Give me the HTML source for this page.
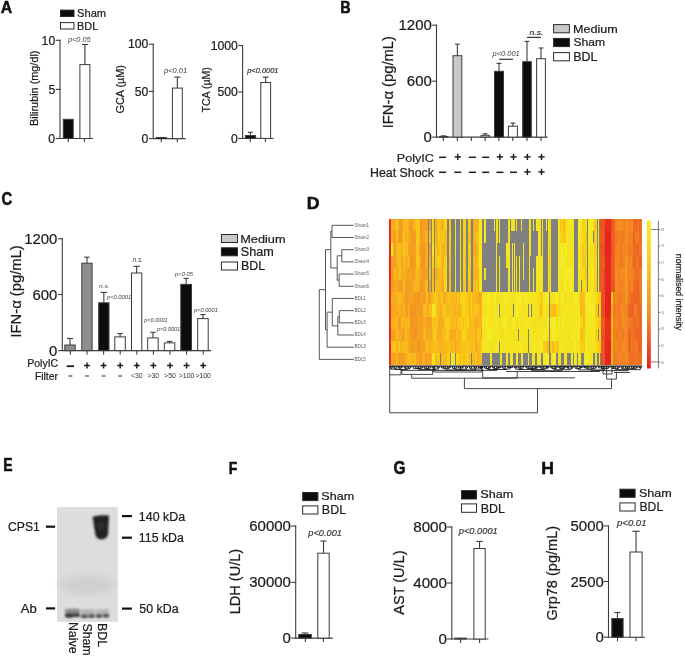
<!DOCTYPE html>
<html><head><meta charset="utf-8"><title>Figure</title>
<style>
html,body{margin:0;padding:0;background:#fff;}
body{width:685px;height:656px;overflow:hidden;}
svg{display:block;will-change:transform;font-family:"Liberation Sans",sans-serif;}
</style></head><body>
<svg width="685" height="656" viewBox="0 0 685 656">
<rect x="0" y="0" width="685" height="656" fill="#fff"/>
<text x="0.78" y="12.52" font-size="16.28" font-weight="bold" font-style="normal" fill="#111" textLength="11.46" lengthAdjust="spacingAndGlyphs" stroke="#111" stroke-width="0.55" stroke-linejoin="round">A</text>
<rect x="60.50" y="10.10" width="13.50" height="6.40" fill="#0c0c0c" stroke="#2a2a2a" stroke-width="1"/>
<rect x="60.50" y="22.60" width="13.50" height="6.40" fill="#fff" stroke="#2a2a2a" stroke-width="1"/>
<text x="77.10" y="16.70" font-size="10.08" font-weight="normal" font-style="normal" fill="#1c1c1c" textLength="29.04" lengthAdjust="spacingAndGlyphs" stroke="#1c1c1c" stroke-width="0.22">Sham</text>
<text x="77.11" y="29.50" font-size="10.76" font-weight="normal" font-style="normal" fill="#1c1c1c" textLength="21.15" lengthAdjust="spacingAndGlyphs" stroke="#1c1c1c" stroke-width="0.22">BDL</text>
<line x1="60.00" y1="39.80" x2="60.00" y2="139.00" stroke="#3c3c3c" stroke-width="1.1"/>
<line x1="55.70" y1="40.30" x2="60.50" y2="40.30" stroke="#3c3c3c" stroke-width="1.1"/>
<line x1="55.70" y1="89.40" x2="60.50" y2="89.40" stroke="#3c3c3c" stroke-width="1.1"/>
<line x1="55.70" y1="138.50" x2="60.50" y2="138.50" stroke="#3c3c3c" stroke-width="1.1"/>
<line x1="60.00" y1="138.50" x2="93.00" y2="138.50" stroke="#3c3c3c" stroke-width="1.1"/>
<line x1="68.20" y1="138.50" x2="68.20" y2="142.10" stroke="#3c3c3c" stroke-width="1.1"/>
<line x1="84.50" y1="138.50" x2="84.50" y2="142.10" stroke="#3c3c3c" stroke-width="1.1"/>
<text x="41.61" y="44.50" font-size="12.20" font-weight="normal" font-style="normal" fill="#1c1c1c" textLength="13.57" lengthAdjust="spacingAndGlyphs" stroke="#1c1c1c" stroke-width="0.22">10</text>
<text x="48.43" y="93.54" font-size="12.20" font-weight="normal" font-style="normal" fill="#1c1c1c" textLength="6.79" lengthAdjust="spacingAndGlyphs" stroke="#1c1c1c" stroke-width="0.22">5</text>
<text x="48.39" y="142.70" font-size="12.20" font-weight="normal" font-style="normal" fill="#1c1c1c" textLength="6.79" lengthAdjust="spacingAndGlyphs" stroke="#1c1c1c" stroke-width="0.22">0</text>
<rect x="63.30" y="119.30" width="9.90" height="19.20" fill="#0c0c0c" stroke="#3c3c3c" stroke-width="1"/>
<rect x="79.90" y="64.60" width="10.00" height="73.90" fill="#fff" stroke="#3c3c3c" stroke-width="1"/>
<line x1="84.90" y1="44.50" x2="84.90" y2="64.60" stroke="#3c3c3c" stroke-width="1.1"/>
<line x1="81.85" y1="44.50" x2="87.95" y2="44.50" stroke="#3c3c3c" stroke-width="1.1"/>
<text x="67.98" y="42.18" font-size="6.85" font-weight="normal" font-style="italic" fill="#3c3c3c" textLength="22.60" lengthAdjust="spacingAndGlyphs">p&lt;0.05</text>
<text x="0.00" y="0.00" font-size="10.30" font-weight="normal" font-style="normal" fill="#1c1c1c" textLength="75.46" lengthAdjust="spacingAndGlyphs" transform="translate(37.76 125.99) rotate(-90)" stroke="#1c1c1c" stroke-width="0.22">Bilirubin (mg/dl)</text>
<line x1="153.20" y1="43.70" x2="153.20" y2="139.10" stroke="#3c3c3c" stroke-width="1.1"/>
<line x1="148.90" y1="44.20" x2="153.70" y2="44.20" stroke="#3c3c3c" stroke-width="1.1"/>
<line x1="148.90" y1="91.40" x2="153.70" y2="91.40" stroke="#3c3c3c" stroke-width="1.1"/>
<line x1="148.90" y1="138.60" x2="153.70" y2="138.60" stroke="#3c3c3c" stroke-width="1.1"/>
<line x1="153.20" y1="138.60" x2="185.60" y2="138.60" stroke="#3c3c3c" stroke-width="1.1"/>
<line x1="161.30" y1="138.60" x2="161.30" y2="142.20" stroke="#3c3c3c" stroke-width="1.1"/>
<line x1="177.30" y1="138.60" x2="177.30" y2="142.20" stroke="#3c3c3c" stroke-width="1.1"/>
<text x="128.02" y="48.40" font-size="12.20" font-weight="normal" font-style="normal" fill="#1c1c1c" textLength="20.36" lengthAdjust="spacingAndGlyphs" stroke="#1c1c1c" stroke-width="0.22">100</text>
<text x="134.81" y="95.60" font-size="12.20" font-weight="normal" font-style="normal" fill="#1c1c1c" textLength="13.57" lengthAdjust="spacingAndGlyphs" stroke="#1c1c1c" stroke-width="0.22">50</text>
<text x="141.59" y="142.80" font-size="12.20" font-weight="normal" font-style="normal" fill="#1c1c1c" textLength="6.79" lengthAdjust="spacingAndGlyphs" stroke="#1c1c1c" stroke-width="0.22">0</text>
<rect x="155.80" y="137.20" width="11.00" height="1.20" fill="#0c0c0c" stroke="none" stroke-width="1"/>
<line x1="158.90" y1="137.60" x2="163.70" y2="137.60" stroke="#3c3c3c" stroke-width="1"/>
<rect x="172.40" y="88.10" width="9.90" height="50.50" fill="#fff" stroke="#3c3c3c" stroke-width="1"/>
<line x1="177.35" y1="77.10" x2="177.35" y2="88.10" stroke="#3c3c3c" stroke-width="1.1"/>
<line x1="174.25" y1="77.10" x2="180.45" y2="77.10" stroke="#3c3c3c" stroke-width="1.1"/>
<text x="163.99" y="73.13" font-size="7.07" font-weight="normal" font-style="italic" fill="#3c3c3c" textLength="23.15" lengthAdjust="spacingAndGlyphs">p&lt;0.01</text>
<text x="0.00" y="0.00" font-size="11.16" font-weight="normal" font-style="normal" fill="#1c1c1c" textLength="48.51" lengthAdjust="spacingAndGlyphs" transform="translate(123.98 113.54) rotate(-90)" stroke="#1c1c1c" stroke-width="0.22">GCA (µM)</text>
<line x1="242.60" y1="45.00" x2="242.60" y2="138.90" stroke="#3c3c3c" stroke-width="1.1"/>
<line x1="238.30" y1="45.50" x2="243.10" y2="45.50" stroke="#3c3c3c" stroke-width="1.1"/>
<line x1="238.30" y1="92.00" x2="243.10" y2="92.00" stroke="#3c3c3c" stroke-width="1.1"/>
<line x1="238.30" y1="138.40" x2="243.10" y2="138.40" stroke="#3c3c3c" stroke-width="1.1"/>
<line x1="242.60" y1="138.40" x2="273.60" y2="138.40" stroke="#3c3c3c" stroke-width="1.1"/>
<line x1="250.20" y1="138.40" x2="250.20" y2="142.00" stroke="#3c3c3c" stroke-width="1.1"/>
<line x1="265.40" y1="138.40" x2="265.40" y2="142.00" stroke="#3c3c3c" stroke-width="1.1"/>
<text x="210.64" y="49.70" font-size="12.20" font-weight="normal" font-style="normal" fill="#1c1c1c" textLength="27.14" lengthAdjust="spacingAndGlyphs" stroke="#1c1c1c" stroke-width="0.22">1000</text>
<text x="217.42" y="96.20" font-size="12.20" font-weight="normal" font-style="normal" fill="#1c1c1c" textLength="20.36" lengthAdjust="spacingAndGlyphs" stroke="#1c1c1c" stroke-width="0.22">500</text>
<text x="230.99" y="142.60" font-size="12.20" font-weight="normal" font-style="normal" fill="#1c1c1c" textLength="6.79" lengthAdjust="spacingAndGlyphs" stroke="#1c1c1c" stroke-width="0.22">0</text>
<rect x="245.30" y="135.60" width="10.30" height="2.80" fill="#0c0c0c" stroke="#3c3c3c" stroke-width="1"/>
<line x1="250.35" y1="132.30" x2="250.35" y2="135.60" stroke="#3c3c3c" stroke-width="1.1"/>
<line x1="247.90" y1="132.30" x2="252.80" y2="132.30" stroke="#3c3c3c" stroke-width="1.1"/>
<rect x="260.80" y="82.50" width="9.80" height="55.90" fill="#fff" stroke="#3c3c3c" stroke-width="1"/>
<line x1="265.70" y1="77.10" x2="265.70" y2="82.50" stroke="#3c3c3c" stroke-width="1.1"/>
<line x1="262.80" y1="77.10" x2="268.60" y2="77.10" stroke="#3c3c3c" stroke-width="1.1"/>
<text x="247.19" y="73.04" font-size="7.51" font-weight="normal" font-style="italic" fill="#3c3c3c" textLength="31.34" lengthAdjust="spacingAndGlyphs" stroke="#3c3c3c" stroke-width="0.22">p&lt;0.0001</text>
<text x="0.00" y="0.00" font-size="11.05" font-weight="normal" font-style="normal" fill="#1c1c1c" textLength="45.28" lengthAdjust="spacingAndGlyphs" transform="translate(210.01 112.43) rotate(-90)" stroke="#1c1c1c" stroke-width="0.22">TCA (µM)</text>
<text x="340.22" y="12.72" font-size="16.79" font-weight="bold" font-style="normal" fill="#111" textLength="10.36" lengthAdjust="spacingAndGlyphs" stroke="#111" stroke-width="0.55" stroke-linejoin="round">B</text>
<line x1="436.50" y1="24.70" x2="436.50" y2="137.60" stroke="#3c3c3c" stroke-width="1.1"/>
<line x1="432.20" y1="25.20" x2="437.00" y2="25.20" stroke="#3c3c3c" stroke-width="1.1"/>
<line x1="432.20" y1="81.20" x2="437.00" y2="81.20" stroke="#3c3c3c" stroke-width="1.1"/>
<line x1="432.20" y1="137.10" x2="437.00" y2="137.10" stroke="#3c3c3c" stroke-width="1.1"/>
<line x1="436.50" y1="137.10" x2="547.60" y2="137.10" stroke="#3c3c3c" stroke-width="1.1"/>
<line x1="443.30" y1="137.10" x2="443.30" y2="141.00" stroke="#3c3c3c" stroke-width="1.1"/>
<line x1="457.40" y1="137.10" x2="457.40" y2="141.00" stroke="#3c3c3c" stroke-width="1.1"/>
<line x1="471.30" y1="137.10" x2="471.30" y2="141.00" stroke="#3c3c3c" stroke-width="1.1"/>
<line x1="485.10" y1="137.10" x2="485.10" y2="141.00" stroke="#3c3c3c" stroke-width="1.1"/>
<line x1="498.90" y1="137.10" x2="498.90" y2="141.00" stroke="#3c3c3c" stroke-width="1.1"/>
<line x1="512.80" y1="137.10" x2="512.80" y2="141.00" stroke="#3c3c3c" stroke-width="1.1"/>
<line x1="527.00" y1="137.10" x2="527.00" y2="141.00" stroke="#3c3c3c" stroke-width="1.1"/>
<line x1="541.00" y1="137.10" x2="541.00" y2="141.00" stroke="#3c3c3c" stroke-width="1.1"/>
<text x="398.52" y="30.36" font-size="15.00" font-weight="normal" font-style="normal" fill="#1c1c1c" textLength="33.37" lengthAdjust="spacingAndGlyphs" stroke="#1c1c1c" stroke-width="0.22">1200</text>
<text x="406.86" y="86.36" font-size="15.00" font-weight="normal" font-style="normal" fill="#1c1c1c" textLength="25.03" lengthAdjust="spacingAndGlyphs" stroke="#1c1c1c" stroke-width="0.22">600</text>
<text x="423.54" y="142.26" font-size="15.00" font-weight="normal" font-style="normal" fill="#1c1c1c" textLength="8.34" lengthAdjust="spacingAndGlyphs" stroke="#1c1c1c" stroke-width="0.22">0</text>
<rect x="439.80" y="136.50" width="8.00" height="0.60" fill="#c9c9c9" stroke="#3c3c3c" stroke-width="1"/>
<line x1="440.80" y1="135.90" x2="446.20" y2="135.90" stroke="#3c3c3c" stroke-width="1.2"/>
<rect x="453.00" y="55.70" width="8.80" height="81.40" fill="#c9c9c9" stroke="#3c3c3c" stroke-width="1"/>
<line x1="457.40" y1="44.20" x2="457.40" y2="55.70" stroke="#3c3c3c" stroke-width="1.1"/>
<line x1="455.00" y1="44.20" x2="459.80" y2="44.20" stroke="#3c3c3c" stroke-width="1.1"/>
<rect x="481.10" y="135.30" width="8.20" height="1.80" fill="#c9c9c9" stroke="#3c3c3c" stroke-width="1"/>
<line x1="485.20" y1="133.80" x2="485.20" y2="135.30" stroke="#3c3c3c" stroke-width="1.1"/>
<line x1="482.90" y1="133.80" x2="487.50" y2="133.80" stroke="#3c3c3c" stroke-width="1.1"/>
<rect x="494.50" y="71.30" width="9.00" height="65.80" fill="#0c0c0c" stroke="#3c3c3c" stroke-width="1"/>
<line x1="499.00" y1="63.40" x2="499.00" y2="71.30" stroke="#3c3c3c" stroke-width="1.1"/>
<line x1="496.60" y1="63.40" x2="501.40" y2="63.40" stroke="#3c3c3c" stroke-width="1.1"/>
<rect x="508.40" y="126.20" width="9.00" height="10.90" fill="#fff" stroke="#3c3c3c" stroke-width="1"/>
<line x1="512.90" y1="123.10" x2="512.90" y2="126.20" stroke="#3c3c3c" stroke-width="1.1"/>
<line x1="510.50" y1="123.10" x2="515.30" y2="123.10" stroke="#3c3c3c" stroke-width="1.1"/>
<rect x="522.70" y="61.70" width="8.60" height="75.40" fill="#0c0c0c" stroke="#3c3c3c" stroke-width="1"/>
<line x1="527.00" y1="41.40" x2="527.00" y2="61.70" stroke="#3c3c3c" stroke-width="1.1"/>
<line x1="524.60" y1="41.40" x2="529.40" y2="41.40" stroke="#3c3c3c" stroke-width="1.1"/>
<rect x="536.60" y="58.70" width="8.80" height="78.40" fill="#fff" stroke="#3c3c3c" stroke-width="1"/>
<line x1="541.00" y1="48.00" x2="541.00" y2="58.70" stroke="#3c3c3c" stroke-width="1.1"/>
<line x1="538.60" y1="48.00" x2="543.40" y2="48.00" stroke="#3c3c3c" stroke-width="1.1"/>
<text x="492.59" y="56.49" font-size="7.29" font-weight="normal" font-style="italic" fill="#3c3c3c" textLength="27.14" lengthAdjust="spacingAndGlyphs">p&lt;0.001</text>
<line x1="499.20" y1="59.30" x2="513.00" y2="59.30" stroke="#333" stroke-width="1.2"/>
<text x="529.46" y="34.93" font-size="7.67" font-weight="normal" font-style="italic" fill="#3c3c3c" textLength="13.90" lengthAdjust="spacingAndGlyphs" stroke="#3c3c3c" stroke-width="0.22">n.s.</text>
<line x1="527.00" y1="37.40" x2="541.00" y2="37.40" stroke="#333" stroke-width="1.2"/>
<rect x="553.60" y="24.60" width="15.80" height="8.20" fill="#c9c9c9" stroke="#2a2a2a" stroke-width="1"/>
<rect x="553.60" y="38.40" width="15.80" height="8.20" fill="#0c0c0c" stroke="#2a2a2a" stroke-width="1"/>
<rect x="553.60" y="52.60" width="15.80" height="8.20" fill="#fff" stroke="#2a2a2a" stroke-width="1"/>
<text x="572.97" y="32.69" font-size="11.17" font-weight="normal" font-style="normal" fill="#1c1c1c" textLength="44.76" lengthAdjust="spacingAndGlyphs" stroke="#1c1c1c" stroke-width="0.22">Medium</text>
<text x="573.45" y="45.99" font-size="11.17" font-weight="normal" font-style="normal" fill="#1c1c1c" textLength="31.54" lengthAdjust="spacingAndGlyphs" stroke="#1c1c1c" stroke-width="0.22">Sham</text>
<text x="573.17" y="60.80" font-size="12.06" font-weight="normal" font-style="normal" fill="#1c1c1c" textLength="24.34" lengthAdjust="spacingAndGlyphs" stroke="#1c1c1c" stroke-width="0.22">BDL</text>
<text x="0.00" y="0.00" font-size="14.70" font-weight="normal" font-style="normal" fill="#1c1c1c" textLength="92.38" lengthAdjust="spacingAndGlyphs" transform="translate(392.85 128.37) rotate(-90)" stroke="#1c1c1c" stroke-width="0.22">IFN-α (pg/mL)</text>
<text x="396.77" y="161.97" font-size="11.69" font-weight="normal" font-style="normal" fill="#1c1c1c" textLength="37.11" lengthAdjust="spacingAndGlyphs" stroke="#1c1c1c" stroke-width="0.22">PolyIC</text>
<text x="369.98" y="176.88" font-size="11.85" font-weight="normal" font-style="normal" fill="#1c1c1c" textLength="64.00" lengthAdjust="spacingAndGlyphs" stroke="#1c1c1c" stroke-width="0.22">Heat Shock</text>
<rect x="439.10" y="156.55" width="7.00" height="1.50" fill="#1c1c1c" stroke="none" stroke-width="1"/>
<rect x="454.65" y="156.18" width="6.30" height="1.45" fill="#1c1c1c" stroke="none" stroke-width="1"/>
<rect x="457.07" y="153.75" width="1.45" height="6.30" fill="#1c1c1c" stroke="none" stroke-width="1"/>
<rect x="468.90" y="156.55" width="7.00" height="1.50" fill="#1c1c1c" stroke="none" stroke-width="1"/>
<rect x="482.20" y="156.55" width="7.00" height="1.50" fill="#1c1c1c" stroke="none" stroke-width="1"/>
<rect x="496.75" y="156.18" width="6.30" height="1.45" fill="#1c1c1c" stroke="none" stroke-width="1"/>
<rect x="499.17" y="153.75" width="1.45" height="6.30" fill="#1c1c1c" stroke="none" stroke-width="1"/>
<rect x="510.35" y="156.18" width="6.30" height="1.45" fill="#1c1c1c" stroke="none" stroke-width="1"/>
<rect x="512.77" y="153.75" width="1.45" height="6.30" fill="#1c1c1c" stroke="none" stroke-width="1"/>
<rect x="524.25" y="156.18" width="6.30" height="1.45" fill="#1c1c1c" stroke="none" stroke-width="1"/>
<rect x="526.67" y="153.75" width="1.45" height="6.30" fill="#1c1c1c" stroke="none" stroke-width="1"/>
<rect x="538.35" y="156.18" width="6.30" height="1.45" fill="#1c1c1c" stroke="none" stroke-width="1"/>
<rect x="540.77" y="153.75" width="1.45" height="6.30" fill="#1c1c1c" stroke="none" stroke-width="1"/>
<rect x="439.10" y="171.55" width="7.00" height="1.50" fill="#1c1c1c" stroke="none" stroke-width="1"/>
<rect x="454.30" y="171.55" width="7.00" height="1.50" fill="#1c1c1c" stroke="none" stroke-width="1"/>
<rect x="468.90" y="171.55" width="7.00" height="1.50" fill="#1c1c1c" stroke="none" stroke-width="1"/>
<rect x="482.20" y="171.55" width="7.00" height="1.50" fill="#1c1c1c" stroke="none" stroke-width="1"/>
<rect x="496.40" y="171.55" width="7.00" height="1.50" fill="#1c1c1c" stroke="none" stroke-width="1"/>
<rect x="510.00" y="171.55" width="7.00" height="1.50" fill="#1c1c1c" stroke="none" stroke-width="1"/>
<rect x="524.25" y="171.18" width="6.30" height="1.45" fill="#1c1c1c" stroke="none" stroke-width="1"/>
<rect x="526.67" y="168.75" width="1.45" height="6.30" fill="#1c1c1c" stroke="none" stroke-width="1"/>
<rect x="538.35" y="171.18" width="6.30" height="1.45" fill="#1c1c1c" stroke="none" stroke-width="1"/>
<rect x="540.77" y="168.75" width="1.45" height="6.30" fill="#1c1c1c" stroke="none" stroke-width="1"/>
<text x="1.57" y="205.15" font-size="17.58" font-weight="bold" font-style="normal" fill="#111" textLength="10.66" lengthAdjust="spacingAndGlyphs" stroke="#111" stroke-width="0.55" stroke-linejoin="round">C</text>
<line x1="62.30" y1="238.30" x2="62.30" y2="351.10" stroke="#3c3c3c" stroke-width="1.1"/>
<line x1="58.10" y1="238.80" x2="62.80" y2="238.80" stroke="#3c3c3c" stroke-width="1.1"/>
<line x1="58.10" y1="294.50" x2="62.80" y2="294.50" stroke="#3c3c3c" stroke-width="1.1"/>
<line x1="58.10" y1="350.60" x2="62.80" y2="350.60" stroke="#3c3c3c" stroke-width="1.1"/>
<line x1="62.30" y1="350.60" x2="211.00" y2="350.60" stroke="#3c3c3c" stroke-width="1.1"/>
<line x1="70.40" y1="350.60" x2="70.40" y2="354.60" stroke="#3c3c3c" stroke-width="1.1"/>
<line x1="87.00" y1="350.60" x2="87.00" y2="354.60" stroke="#3c3c3c" stroke-width="1.1"/>
<line x1="103.60" y1="350.60" x2="103.60" y2="354.60" stroke="#3c3c3c" stroke-width="1.1"/>
<line x1="120.20" y1="350.60" x2="120.20" y2="354.60" stroke="#3c3c3c" stroke-width="1.1"/>
<line x1="136.80" y1="350.60" x2="136.80" y2="354.60" stroke="#3c3c3c" stroke-width="1.1"/>
<line x1="153.40" y1="350.60" x2="153.40" y2="354.60" stroke="#3c3c3c" stroke-width="1.1"/>
<line x1="170.00" y1="350.60" x2="170.00" y2="354.60" stroke="#3c3c3c" stroke-width="1.1"/>
<line x1="186.60" y1="350.60" x2="186.60" y2="354.60" stroke="#3c3c3c" stroke-width="1.1"/>
<line x1="203.20" y1="350.60" x2="203.20" y2="354.60" stroke="#3c3c3c" stroke-width="1.1"/>
<text x="24.15" y="243.83" font-size="14.60" font-weight="normal" font-style="normal" fill="#1c1c1c" textLength="33.13" lengthAdjust="spacingAndGlyphs" stroke="#1c1c1c" stroke-width="0.22">1200</text>
<text x="32.44" y="299.53" font-size="14.60" font-weight="normal" font-style="normal" fill="#1c1c1c" textLength="24.85" lengthAdjust="spacingAndGlyphs" stroke="#1c1c1c" stroke-width="0.22">600</text>
<text x="49.00" y="355.63" font-size="14.60" font-weight="normal" font-style="normal" fill="#1c1c1c" textLength="8.28" lengthAdjust="spacingAndGlyphs" stroke="#1c1c1c" stroke-width="0.22">0</text>
<rect x="64.80" y="345.00" width="10.40" height="5.60" fill="#8e8e8e" stroke="#3c3c3c" stroke-width="1"/>
<line x1="70.00" y1="338.50" x2="70.00" y2="345.00" stroke="#3c3c3c" stroke-width="1.1"/>
<line x1="66.95" y1="338.50" x2="73.05" y2="338.50" stroke="#3c3c3c" stroke-width="1.1"/>
<rect x="81.80" y="263.20" width="10.30" height="87.40" fill="#8e8e8e" stroke="#3c3c3c" stroke-width="1"/>
<line x1="86.95" y1="257.20" x2="86.95" y2="263.20" stroke="#3c3c3c" stroke-width="1.1"/>
<line x1="84.20" y1="257.20" x2="89.70" y2="257.20" stroke="#3c3c3c" stroke-width="1.1"/>
<rect x="98.70" y="302.80" width="10.30" height="47.80" fill="#0c0c0c" stroke="#3c3c3c" stroke-width="1"/>
<line x1="103.85" y1="292.40" x2="103.85" y2="302.80" stroke="#3c3c3c" stroke-width="1.1"/>
<line x1="100.65" y1="292.40" x2="107.05" y2="292.40" stroke="#3c3c3c" stroke-width="1.1"/>
<rect x="114.80" y="336.90" width="10.50" height="13.70" fill="#fff" stroke="#3c3c3c" stroke-width="1"/>
<line x1="120.05" y1="333.60" x2="120.05" y2="336.90" stroke="#3c3c3c" stroke-width="1.1"/>
<line x1="117.30" y1="333.60" x2="122.80" y2="333.60" stroke="#3c3c3c" stroke-width="1.1"/>
<rect x="131.50" y="273.00" width="10.30" height="77.60" fill="#fff" stroke="#3c3c3c" stroke-width="1"/>
<line x1="136.65" y1="266.30" x2="136.65" y2="273.00" stroke="#3c3c3c" stroke-width="1.1"/>
<line x1="133.40" y1="266.30" x2="139.90" y2="266.30" stroke="#3c3c3c" stroke-width="1.1"/>
<rect x="147.70" y="337.90" width="10.50" height="12.70" fill="#fff" stroke="#3c3c3c" stroke-width="1"/>
<line x1="152.95" y1="332.30" x2="152.95" y2="337.90" stroke="#3c3c3c" stroke-width="1.1"/>
<line x1="150.20" y1="332.30" x2="155.70" y2="332.30" stroke="#3c3c3c" stroke-width="1.1"/>
<rect x="164.30" y="342.90" width="10.50" height="7.70" fill="#fff" stroke="#3c3c3c" stroke-width="1"/>
<line x1="169.55" y1="341.40" x2="169.55" y2="342.90" stroke="#3c3c3c" stroke-width="1.1"/>
<line x1="166.80" y1="341.40" x2="172.30" y2="341.40" stroke="#3c3c3c" stroke-width="1.1"/>
<rect x="180.80" y="284.40" width="10.70" height="66.20" fill="#0c0c0c" stroke="#3c3c3c" stroke-width="1"/>
<line x1="186.15" y1="278.40" x2="186.15" y2="284.40" stroke="#3c3c3c" stroke-width="1.1"/>
<line x1="183.65" y1="278.40" x2="188.65" y2="278.40" stroke="#3c3c3c" stroke-width="1.1"/>
<rect x="197.70" y="318.60" width="10.50" height="32.00" fill="#fff" stroke="#3c3c3c" stroke-width="1"/>
<line x1="202.95" y1="314.60" x2="202.95" y2="318.60" stroke="#3c3c3c" stroke-width="1.1"/>
<line x1="200.30" y1="314.60" x2="205.60" y2="314.60" stroke="#3c3c3c" stroke-width="1.1"/>
<text x="98.99" y="287.94" font-size="5.85" font-weight="normal" font-style="italic" fill="#3c3c3c" textLength="10.62" lengthAdjust="spacingAndGlyphs">n.s.</text>
<text x="107.14" y="298.55" font-size="5.52" font-weight="normal" font-style="italic" fill="#3c3c3c" textLength="23.94" lengthAdjust="spacingAndGlyphs">p&lt;0.0001</text>
<text x="132.49" y="262.13" font-size="6.76" font-weight="normal" font-style="italic" fill="#3c3c3c" textLength="10.62" lengthAdjust="spacingAndGlyphs">n.s.</text>
<text x="144.24" y="321.72" font-size="5.19" font-weight="normal" font-style="italic" fill="#3c3c3c" textLength="23.33" lengthAdjust="spacingAndGlyphs">p&lt;0.0001</text>
<text x="157.04" y="331.17" font-size="4.97" font-weight="normal" font-style="italic" fill="#3c3c3c" textLength="23.13" lengthAdjust="spacingAndGlyphs">p&lt;0.0001</text>
<text x="175.14" y="275.62" font-size="5.19" font-weight="normal" font-style="italic" fill="#3c3c3c" textLength="17.94" lengthAdjust="spacingAndGlyphs">p&lt;0.05</text>
<text x="194.14" y="311.82" font-size="5.19" font-weight="normal" font-style="italic" fill="#3c3c3c" textLength="23.64" lengthAdjust="spacingAndGlyphs">p&lt;0.0001</text>
<rect x="221.40" y="234.50" width="16.10" height="8.00" fill="#c9c9c9" stroke="#2a2a2a" stroke-width="1"/>
<rect x="221.40" y="247.80" width="16.10" height="8.00" fill="#0c0c0c" stroke="#2a2a2a" stroke-width="1"/>
<rect x="221.40" y="262.00" width="16.10" height="8.00" fill="#fff" stroke="#2a2a2a" stroke-width="1"/>
<text x="240.26" y="242.69" font-size="11.71" font-weight="normal" font-style="normal" fill="#1c1c1c" textLength="45.28" lengthAdjust="spacingAndGlyphs" stroke="#1c1c1c" stroke-width="0.22">Medium</text>
<text x="240.73" y="256.18" font-size="12.26" font-weight="normal" font-style="normal" fill="#1c1c1c" textLength="33.01" lengthAdjust="spacingAndGlyphs" stroke="#1c1c1c" stroke-width="0.22">Sham</text>
<text x="240.98" y="270.30" font-size="12.79" font-weight="normal" font-style="normal" fill="#1c1c1c" textLength="24.24" lengthAdjust="spacingAndGlyphs" stroke="#1c1c1c" stroke-width="0.22">BDL</text>
<text x="0.00" y="0.00" font-size="14.05" font-weight="normal" font-style="normal" fill="#1c1c1c" textLength="92.38" lengthAdjust="spacingAndGlyphs" transform="translate(21.28 337.57) rotate(-90)" stroke="#1c1c1c" stroke-width="0.22">IFN-α (pg/mL)</text>
<text x="27.24" y="367.35" font-size="10.70" font-weight="normal" font-style="normal" fill="#1c1c1c" textLength="30.96" lengthAdjust="spacingAndGlyphs" stroke="#1c1c1c" stroke-width="0.22">PolyIC</text>
<text x="34.95" y="379.60" font-size="10.35" font-weight="normal" font-style="normal" fill="#1c1c1c" textLength="23.02" lengthAdjust="spacingAndGlyphs" stroke="#1c1c1c" stroke-width="0.22">Filter</text>
<rect x="66.75" y="365.30" width="7.30" height="1.80" fill="#1c1c1c" stroke="none" stroke-width="1"/>
<rect x="84.05" y="364.75" width="5.90" height="1.50" fill="#1c1c1c" stroke="none" stroke-width="1"/>
<rect x="86.25" y="362.55" width="1.50" height="5.90" fill="#1c1c1c" stroke="none" stroke-width="1"/>
<rect x="100.65" y="364.75" width="5.90" height="1.50" fill="#1c1c1c" stroke="none" stroke-width="1"/>
<rect x="102.85" y="362.55" width="1.50" height="5.90" fill="#1c1c1c" stroke="none" stroke-width="1"/>
<rect x="117.25" y="364.75" width="5.90" height="1.50" fill="#1c1c1c" stroke="none" stroke-width="1"/>
<rect x="119.45" y="362.55" width="1.50" height="5.90" fill="#1c1c1c" stroke="none" stroke-width="1"/>
<rect x="133.85" y="364.75" width="5.90" height="1.50" fill="#1c1c1c" stroke="none" stroke-width="1"/>
<rect x="136.05" y="362.55" width="1.50" height="5.90" fill="#1c1c1c" stroke="none" stroke-width="1"/>
<rect x="150.45" y="364.75" width="5.90" height="1.50" fill="#1c1c1c" stroke="none" stroke-width="1"/>
<rect x="152.65" y="362.55" width="1.50" height="5.90" fill="#1c1c1c" stroke="none" stroke-width="1"/>
<rect x="167.05" y="364.75" width="5.90" height="1.50" fill="#1c1c1c" stroke="none" stroke-width="1"/>
<rect x="169.25" y="362.55" width="1.50" height="5.90" fill="#1c1c1c" stroke="none" stroke-width="1"/>
<rect x="183.65" y="364.75" width="5.90" height="1.50" fill="#1c1c1c" stroke="none" stroke-width="1"/>
<rect x="185.85" y="362.55" width="1.50" height="5.90" fill="#1c1c1c" stroke="none" stroke-width="1"/>
<rect x="200.25" y="364.75" width="5.90" height="1.50" fill="#1c1c1c" stroke="none" stroke-width="1"/>
<rect x="202.45" y="362.55" width="1.50" height="5.90" fill="#1c1c1c" stroke="none" stroke-width="1"/>
<rect x="68.45" y="375.50" width="3.90" height="1.00" fill="#2a2a2a" stroke="none" stroke-width="1"/>
<rect x="85.05" y="375.50" width="3.90" height="1.00" fill="#2a2a2a" stroke="none" stroke-width="1"/>
<rect x="101.65" y="375.50" width="3.90" height="1.00" fill="#2a2a2a" stroke="none" stroke-width="1"/>
<rect x="118.25" y="375.50" width="3.90" height="1.00" fill="#2a2a2a" stroke="none" stroke-width="1"/>
<text x="130.91" y="378.38" font-size="6.90" font-weight="normal" font-style="normal" fill="#333" textLength="11.70" lengthAdjust="spacingAndGlyphs">&lt;30</text>
<text x="147.51" y="378.38" font-size="6.90" font-weight="normal" font-style="normal" fill="#333" textLength="11.70" lengthAdjust="spacingAndGlyphs">&gt;30</text>
<text x="164.11" y="378.38" font-size="6.90" font-weight="normal" font-style="normal" fill="#333" textLength="11.70" lengthAdjust="spacingAndGlyphs">&gt;50</text>
<text x="178.79" y="378.38" font-size="6.90" font-weight="normal" font-style="normal" fill="#333" textLength="15.54" lengthAdjust="spacingAndGlyphs">&gt;100</text>
<text x="195.39" y="378.38" font-size="6.90" font-weight="normal" font-style="normal" fill="#333" textLength="15.54" lengthAdjust="spacingAndGlyphs">&gt;100</text>
<text x="306.89" y="208.72" font-size="17.22" font-weight="bold" font-style="normal" fill="#111" textLength="12.78" lengthAdjust="spacingAndGlyphs" stroke="#111" stroke-width="0.55" stroke-linejoin="round">D</text>
<g shape-rendering="crispEdges">
<rect x="389.00" y="219.00" width="2.00" height="12.25" fill="#e8301f" stroke="none" stroke-width="1"/>
<rect x="391.00" y="219.00" width="3.00" height="12.25" fill="#f7ab1e" stroke="none" stroke-width="1"/>
<rect x="394.00" y="219.00" width="2.00" height="12.25" fill="#f8b21c" stroke="none" stroke-width="1"/>
<rect x="396.00" y="219.00" width="2.00" height="12.25" fill="#fac51a" stroke="none" stroke-width="1"/>
<rect x="398.00" y="219.00" width="2.00" height="12.25" fill="#f6a41f" stroke="none" stroke-width="1"/>
<rect x="400.00" y="219.00" width="3.00" height="12.25" fill="#f49c20" stroke="none" stroke-width="1"/>
<rect x="403.00" y="219.00" width="2.00" height="12.25" fill="#f9bb1b" stroke="none" stroke-width="1"/>
<rect x="405.00" y="219.00" width="1.50" height="12.25" fill="#f9bb1b" stroke="none" stroke-width="1"/>
<rect x="406.50" y="219.00" width="1.50" height="12.25" fill="#f9bb1b" stroke="none" stroke-width="1"/>
<rect x="408.00" y="219.00" width="2.00" height="12.25" fill="#f7ab1e" stroke="none" stroke-width="1"/>
<rect x="410.00" y="219.00" width="2.00" height="12.25" fill="#f49c20" stroke="none" stroke-width="1"/>
<rect x="412.00" y="219.00" width="1.00" height="12.25" fill="#f49c20" stroke="none" stroke-width="1"/>
<rect x="413.00" y="219.00" width="1.50" height="12.25" fill="#f8b21c" stroke="none" stroke-width="1"/>
<rect x="414.50" y="219.00" width="1.50" height="12.25" fill="#f9bb1b" stroke="none" stroke-width="1"/>
<rect x="416.00" y="219.00" width="1.50" height="12.25" fill="#fac51a" stroke="none" stroke-width="1"/>
<rect x="417.50" y="219.00" width="2.50" height="12.25" fill="#fac51a" stroke="none" stroke-width="1"/>
<rect x="420.00" y="219.00" width="2.00" height="12.25" fill="#f39520" stroke="none" stroke-width="1"/>
<rect x="422.00" y="219.00" width="2.50" height="12.25" fill="#f59f20" stroke="none" stroke-width="1"/>
<rect x="424.50" y="219.00" width="0.50" height="12.25" fill="#f49c20" stroke="none" stroke-width="1"/>
<rect x="425.00" y="219.00" width="3.00" height="12.25" fill="#f59f20" stroke="none" stroke-width="1"/>
<rect x="428.00" y="219.00" width="1.00" height="12.25" fill="#808080" stroke="none" stroke-width="1"/>
<rect x="429.00" y="219.00" width="2.00" height="12.25" fill="#f49c20" stroke="none" stroke-width="1"/>
<rect x="431.00" y="219.00" width="1.00" height="12.25" fill="#808080" stroke="none" stroke-width="1"/>
<rect x="432.00" y="219.00" width="2.00" height="12.25" fill="#fad414" stroke="none" stroke-width="1"/>
<rect x="434.00" y="219.00" width="1.00" height="12.25" fill="#808080" stroke="none" stroke-width="1"/>
<rect x="435.00" y="219.00" width="1.50" height="12.25" fill="#f7ab1e" stroke="none" stroke-width="1"/>
<rect x="436.50" y="219.00" width="1.50" height="12.25" fill="#f9bb1b" stroke="none" stroke-width="1"/>
<rect x="438.00" y="219.00" width="2.50" height="12.25" fill="#f9c418" stroke="none" stroke-width="1"/>
<rect x="440.50" y="219.00" width="0.50" height="12.25" fill="#f9c418" stroke="none" stroke-width="1"/>
<rect x="441.00" y="219.00" width="3.00" height="12.25" fill="#f8b21c" stroke="none" stroke-width="1"/>
<rect x="444.00" y="219.00" width="2.50" height="12.25" fill="#fad414" stroke="none" stroke-width="1"/>
<rect x="446.50" y="219.00" width="0.80" height="12.25" fill="#f9c418" stroke="none" stroke-width="1"/>
<rect x="447.30" y="219.00" width="1.20" height="12.25" fill="#808080" stroke="none" stroke-width="1"/>
<rect x="448.50" y="219.00" width="1.50" height="12.25" fill="#f9cd16" stroke="none" stroke-width="1"/>
<rect x="450.00" y="219.00" width="1.00" height="12.25" fill="#f9c418" stroke="none" stroke-width="1"/>
<rect x="451.00" y="219.00" width="4.00" height="12.25" fill="#808080" stroke="none" stroke-width="1"/>
<rect x="455.00" y="219.00" width="1.00" height="12.25" fill="#f6e41c" stroke="none" stroke-width="1"/>
<rect x="456.00" y="219.00" width="4.00" height="12.25" fill="#808080" stroke="none" stroke-width="1"/>
<rect x="460.00" y="219.00" width="1.00" height="12.25" fill="#f6e41c" stroke="none" stroke-width="1"/>
<rect x="461.00" y="219.00" width="2.00" height="12.25" fill="#808080" stroke="none" stroke-width="1"/>
<rect x="463.00" y="219.00" width="3.00" height="12.25" fill="#fad414" stroke="none" stroke-width="1"/>
<rect x="466.00" y="219.00" width="2.00" height="12.25" fill="#808080" stroke="none" stroke-width="1"/>
<rect x="468.00" y="219.00" width="1.50" height="12.25" fill="#f9cd16" stroke="none" stroke-width="1"/>
<rect x="469.50" y="219.00" width="1.50" height="12.25" fill="#f8bc19" stroke="none" stroke-width="1"/>
<rect x="471.00" y="219.00" width="2.00" height="12.25" fill="#808080" stroke="none" stroke-width="1"/>
<rect x="473.00" y="219.00" width="1.50" height="12.25" fill="#f7ab1e" stroke="none" stroke-width="1"/>
<rect x="474.50" y="219.00" width="2.50" height="12.25" fill="#f8b21c" stroke="none" stroke-width="1"/>
<rect x="477.00" y="219.00" width="2.00" height="12.25" fill="#f8b21c" stroke="none" stroke-width="1"/>
<rect x="479.00" y="219.00" width="2.00" height="12.25" fill="#f5ea26" stroke="none" stroke-width="1"/>
<rect x="481.00" y="219.00" width="1.00" height="12.25" fill="#f3e61f" stroke="none" stroke-width="1"/>
<rect x="482.00" y="219.00" width="2.00" height="12.25" fill="#808080" stroke="none" stroke-width="1"/>
<rect x="484.00" y="219.00" width="2.00" height="12.25" fill="#f3e61f" stroke="none" stroke-width="1"/>
<rect x="486.00" y="219.00" width="11.00" height="12.25" fill="#808080" stroke="none" stroke-width="1"/>
<rect x="497.00" y="219.00" width="1.50" height="12.25" fill="#f6e41c" stroke="none" stroke-width="1"/>
<rect x="498.50" y="219.00" width="1.00" height="12.25" fill="#808080" stroke="none" stroke-width="1"/>
<rect x="499.50" y="219.00" width="1.50" height="12.25" fill="#f6e41c" stroke="none" stroke-width="1"/>
<rect x="501.00" y="219.00" width="7.00" height="12.25" fill="#808080" stroke="none" stroke-width="1"/>
<rect x="508.00" y="219.00" width="1.00" height="12.25" fill="#f5ea26" stroke="none" stroke-width="1"/>
<rect x="509.00" y="219.00" width="1.00" height="12.25" fill="#808080" stroke="none" stroke-width="1"/>
<rect x="510.00" y="219.00" width="2.00" height="12.25" fill="#f5ea26" stroke="none" stroke-width="1"/>
<rect x="512.00" y="219.00" width="1.00" height="12.25" fill="#808080" stroke="none" stroke-width="1"/>
<rect x="513.00" y="219.00" width="1.00" height="12.25" fill="#f6e41c" stroke="none" stroke-width="1"/>
<rect x="514.00" y="219.00" width="2.00" height="12.25" fill="#808080" stroke="none" stroke-width="1"/>
<rect x="516.00" y="219.00" width="1.00" height="12.25" fill="#f5ea26" stroke="none" stroke-width="1"/>
<rect x="517.00" y="219.00" width="2.00" height="12.25" fill="#808080" stroke="none" stroke-width="1"/>
<rect x="519.00" y="219.00" width="1.00" height="12.25" fill="#f5ea26" stroke="none" stroke-width="1"/>
<rect x="520.00" y="219.00" width="1.00" height="12.25" fill="#808080" stroke="none" stroke-width="1"/>
<rect x="521.00" y="219.00" width="1.50" height="12.25" fill="#f6e41c" stroke="none" stroke-width="1"/>
<rect x="522.50" y="219.00" width="4.50" height="12.25" fill="#808080" stroke="none" stroke-width="1"/>
<rect x="527.00" y="219.00" width="2.00" height="12.25" fill="#f6e41c" stroke="none" stroke-width="1"/>
<rect x="529.00" y="219.00" width="2.00" height="12.25" fill="#808080" stroke="none" stroke-width="1"/>
<rect x="531.00" y="219.00" width="1.00" height="12.25" fill="#f3e61f" stroke="none" stroke-width="1"/>
<rect x="532.00" y="219.00" width="1.00" height="12.25" fill="#808080" stroke="none" stroke-width="1"/>
<rect x="533.00" y="219.00" width="1.00" height="12.25" fill="#f6e41c" stroke="none" stroke-width="1"/>
<rect x="534.00" y="219.00" width="4.00" height="12.25" fill="#808080" stroke="none" stroke-width="1"/>
<rect x="538.00" y="219.00" width="3.00" height="12.25" fill="#f5ea26" stroke="none" stroke-width="1"/>
<rect x="541.00" y="219.00" width="1.50" height="12.25" fill="#f2e21e" stroke="none" stroke-width="1"/>
<rect x="542.50" y="219.00" width="0.50" height="12.25" fill="#f3e61f" stroke="none" stroke-width="1"/>
<rect x="543.00" y="219.00" width="5.00" height="12.25" fill="#808080" stroke="none" stroke-width="1"/>
<rect x="548.00" y="219.00" width="2.00" height="12.25" fill="#f5ea26" stroke="none" stroke-width="1"/>
<rect x="550.00" y="219.00" width="0.50" height="12.25" fill="#f3e61f" stroke="none" stroke-width="1"/>
<rect x="550.50" y="219.00" width="6.50" height="12.25" fill="#808080" stroke="none" stroke-width="1"/>
<rect x="557.00" y="219.00" width="1.00" height="12.25" fill="#f3e61f" stroke="none" stroke-width="1"/>
<rect x="558.00" y="219.00" width="1.00" height="12.25" fill="#808080" stroke="none" stroke-width="1"/>
<rect x="559.00" y="219.00" width="2.00" height="12.25" fill="#f5ea26" stroke="none" stroke-width="1"/>
<rect x="561.00" y="219.00" width="3.00" height="12.25" fill="#f2e21e" stroke="none" stroke-width="1"/>
<rect x="564.00" y="219.00" width="1.50" height="12.25" fill="#f2e21e" stroke="none" stroke-width="1"/>
<rect x="565.50" y="219.00" width="2.50" height="12.25" fill="#f6e41c" stroke="none" stroke-width="1"/>
<rect x="568.00" y="219.00" width="1.50" height="12.25" fill="#f3e61f" stroke="none" stroke-width="1"/>
<rect x="569.50" y="219.00" width="1.50" height="12.25" fill="#f5ea26" stroke="none" stroke-width="1"/>
<rect x="571.00" y="219.00" width="2.00" height="12.25" fill="#f3e61f" stroke="none" stroke-width="1"/>
<rect x="573.00" y="219.00" width="1.00" height="12.25" fill="#f2e21e" stroke="none" stroke-width="1"/>
<rect x="574.00" y="219.00" width="4.00" height="12.25" fill="#808080" stroke="none" stroke-width="1"/>
<rect x="578.00" y="219.00" width="3.00" height="12.25" fill="#f5ea26" stroke="none" stroke-width="1"/>
<rect x="581.00" y="219.00" width="1.00" height="12.25" fill="#f5ea26" stroke="none" stroke-width="1"/>
<rect x="582.00" y="219.00" width="3.00" height="12.25" fill="#f8d014" stroke="none" stroke-width="1"/>
<rect x="585.00" y="219.00" width="2.00" height="12.25" fill="#f9d912" stroke="none" stroke-width="1"/>
<rect x="587.00" y="219.00" width="1.00" height="12.25" fill="#808080" stroke="none" stroke-width="1"/>
<rect x="588.00" y="219.00" width="2.00" height="12.25" fill="#f5ea26" stroke="none" stroke-width="1"/>
<rect x="590.00" y="219.00" width="2.00" height="12.25" fill="#f5ea26" stroke="none" stroke-width="1"/>
<rect x="592.00" y="219.00" width="2.00" height="12.25" fill="#f6e41c" stroke="none" stroke-width="1"/>
<rect x="594.00" y="219.00" width="3.00" height="12.25" fill="#f8c816" stroke="none" stroke-width="1"/>
<rect x="597.00" y="219.00" width="1.00" height="12.25" fill="#808080" stroke="none" stroke-width="1"/>
<rect x="598.00" y="219.00" width="1.00" height="12.25" fill="#f3e61f" stroke="none" stroke-width="1"/>
<rect x="599.00" y="219.00" width="1.00" height="12.25" fill="#808080" stroke="none" stroke-width="1"/>
<rect x="600.00" y="219.00" width="3.00" height="12.25" fill="#ee5222" stroke="none" stroke-width="1"/>
<rect x="603.00" y="219.00" width="1.50" height="12.25" fill="#ee5222" stroke="none" stroke-width="1"/>
<rect x="604.50" y="219.00" width="0.50" height="12.25" fill="#ed4c21" stroke="none" stroke-width="1"/>
<rect x="605.00" y="219.00" width="6.00" height="12.25" fill="#e8301f" stroke="none" stroke-width="1"/>
<rect x="611.00" y="219.00" width="2.00" height="12.25" fill="#ed5222" stroke="none" stroke-width="1"/>
<rect x="613.00" y="219.00" width="2.00" height="12.25" fill="#ef6322" stroke="none" stroke-width="1"/>
<rect x="615.00" y="219.00" width="3.00" height="12.25" fill="#f48522" stroke="none" stroke-width="1"/>
<rect x="618.00" y="219.00" width="2.50" height="12.25" fill="#f58c22" stroke="none" stroke-width="1"/>
<rect x="620.50" y="219.00" width="1.50" height="12.25" fill="#f58c22" stroke="none" stroke-width="1"/>
<rect x="622.00" y="219.00" width="2.00" height="12.25" fill="#f48522" stroke="none" stroke-width="1"/>
<rect x="624.00" y="219.00" width="1.00" height="12.25" fill="#f27a22" stroke="none" stroke-width="1"/>
<rect x="625.00" y="219.00" width="2.00" height="12.25" fill="#f48e22" stroke="none" stroke-width="1"/>
<rect x="627.00" y="219.00" width="1.00" height="12.25" fill="#f48e22" stroke="none" stroke-width="1"/>
<rect x="628.00" y="219.00" width="2.50" height="12.25" fill="#f48522" stroke="none" stroke-width="1"/>
<rect x="630.50" y="219.00" width="2.50" height="12.25" fill="#f58c22" stroke="none" stroke-width="1"/>
<rect x="633.00" y="219.00" width="1.50" height="12.25" fill="#ef6c22" stroke="none" stroke-width="1"/>
<rect x="634.50" y="219.00" width="2.00" height="12.25" fill="#ee6422" stroke="none" stroke-width="1"/>
<rect x="636.50" y="219.00" width="2.50" height="12.25" fill="#f07522" stroke="none" stroke-width="1"/>
<rect x="639.00" y="219.00" width="1.50" height="12.25" fill="#ee6422" stroke="none" stroke-width="1"/>
<rect x="640.50" y="219.00" width="1.50" height="12.25" fill="#f17c22" stroke="none" stroke-width="1"/>
<rect x="494.00" y="219.00" width="2.00" height="12.25" fill="#f2e21e" stroke="none" stroke-width="1"/>
<rect x="512.00" y="219.00" width="2.00" height="12.25" fill="#f3e61f" stroke="none" stroke-width="1"/>
<rect x="514.00" y="219.00" width="1.50" height="12.25" fill="#f6e41c" stroke="none" stroke-width="1"/>
<rect x="515.50" y="219.00" width="1.50" height="12.25" fill="#f2e21e" stroke="none" stroke-width="1"/>
<rect x="560.00" y="219.00" width="1.50" height="12.25" fill="#f9c418" stroke="none" stroke-width="1"/>
<rect x="561.50" y="219.00" width="1.50" height="12.25" fill="#fad414" stroke="none" stroke-width="1"/>
<rect x="563.00" y="219.00" width="1.50" height="12.25" fill="#f8bc19" stroke="none" stroke-width="1"/>
<rect x="564.50" y="219.00" width="1.50" height="12.25" fill="#f9cd16" stroke="none" stroke-width="1"/>
<rect x="389.00" y="231.20" width="2.00" height="12.25" fill="#e6291f" stroke="none" stroke-width="1"/>
<rect x="391.00" y="231.20" width="1.50" height="12.25" fill="#f7ab1e" stroke="none" stroke-width="1"/>
<rect x="392.50" y="231.20" width="2.50" height="12.25" fill="#f59f20" stroke="none" stroke-width="1"/>
<rect x="395.00" y="231.20" width="1.00" height="12.25" fill="#f59f20" stroke="none" stroke-width="1"/>
<rect x="396.00" y="231.20" width="2.00" height="12.25" fill="#f9bb1b" stroke="none" stroke-width="1"/>
<rect x="398.00" y="231.20" width="2.50" height="12.25" fill="#f49c20" stroke="none" stroke-width="1"/>
<rect x="400.50" y="231.20" width="1.50" height="12.25" fill="#f59f20" stroke="none" stroke-width="1"/>
<rect x="402.00" y="231.20" width="1.00" height="12.25" fill="#f6a41f" stroke="none" stroke-width="1"/>
<rect x="403.00" y="231.20" width="2.00" height="12.25" fill="#fac51a" stroke="none" stroke-width="1"/>
<rect x="405.00" y="231.20" width="1.50" height="12.25" fill="#f7ab1e" stroke="none" stroke-width="1"/>
<rect x="406.50" y="231.20" width="1.50" height="12.25" fill="#f9bb1b" stroke="none" stroke-width="1"/>
<rect x="408.00" y="231.20" width="2.00" height="12.25" fill="#f7ab1e" stroke="none" stroke-width="1"/>
<rect x="410.00" y="231.20" width="1.50" height="12.25" fill="#f49c20" stroke="none" stroke-width="1"/>
<rect x="411.50" y="231.20" width="1.50" height="12.25" fill="#f49c20" stroke="none" stroke-width="1"/>
<rect x="413.00" y="231.20" width="1.50" height="12.25" fill="#f49c20" stroke="none" stroke-width="1"/>
<rect x="414.50" y="231.20" width="1.50" height="12.25" fill="#f59f20" stroke="none" stroke-width="1"/>
<rect x="416.00" y="231.20" width="2.50" height="12.25" fill="#fac51a" stroke="none" stroke-width="1"/>
<rect x="418.50" y="231.20" width="1.50" height="12.25" fill="#fac51a" stroke="none" stroke-width="1"/>
<rect x="420.00" y="231.20" width="3.00" height="12.25" fill="#f49c20" stroke="none" stroke-width="1"/>
<rect x="423.00" y="231.20" width="1.50" height="12.25" fill="#f6a41f" stroke="none" stroke-width="1"/>
<rect x="424.50" y="231.20" width="0.50" height="12.25" fill="#f59f20" stroke="none" stroke-width="1"/>
<rect x="425.00" y="231.20" width="1.50" height="12.25" fill="#f8b21c" stroke="none" stroke-width="1"/>
<rect x="426.50" y="231.20" width="1.50" height="12.25" fill="#f7ab1e" stroke="none" stroke-width="1"/>
<rect x="428.00" y="231.20" width="1.00" height="12.25" fill="#808080" stroke="none" stroke-width="1"/>
<rect x="429.00" y="231.20" width="2.00" height="12.25" fill="#f9bb1b" stroke="none" stroke-width="1"/>
<rect x="431.00" y="231.20" width="1.00" height="12.25" fill="#808080" stroke="none" stroke-width="1"/>
<rect x="432.00" y="231.20" width="2.00" height="12.25" fill="#fad414" stroke="none" stroke-width="1"/>
<rect x="434.00" y="231.20" width="1.00" height="12.25" fill="#808080" stroke="none" stroke-width="1"/>
<rect x="435.00" y="231.20" width="2.50" height="12.25" fill="#f8b21c" stroke="none" stroke-width="1"/>
<rect x="437.50" y="231.20" width="0.50" height="12.25" fill="#f7ab1e" stroke="none" stroke-width="1"/>
<rect x="438.00" y="231.20" width="2.00" height="12.25" fill="#f9cd16" stroke="none" stroke-width="1"/>
<rect x="440.00" y="231.20" width="1.00" height="12.25" fill="#f8bc19" stroke="none" stroke-width="1"/>
<rect x="441.00" y="231.20" width="3.00" height="12.25" fill="#fac51a" stroke="none" stroke-width="1"/>
<rect x="444.00" y="231.20" width="2.00" height="12.25" fill="#f8bc19" stroke="none" stroke-width="1"/>
<rect x="446.00" y="231.20" width="1.30" height="12.25" fill="#f8bc19" stroke="none" stroke-width="1"/>
<rect x="447.30" y="231.20" width="1.20" height="12.25" fill="#808080" stroke="none" stroke-width="1"/>
<rect x="448.50" y="231.20" width="2.00" height="12.25" fill="#fad414" stroke="none" stroke-width="1"/>
<rect x="450.50" y="231.20" width="0.50" height="12.25" fill="#f9cd16" stroke="none" stroke-width="1"/>
<rect x="451.00" y="231.20" width="4.00" height="12.25" fill="#808080" stroke="none" stroke-width="1"/>
<rect x="455.00" y="231.20" width="1.00" height="12.25" fill="#f6e41c" stroke="none" stroke-width="1"/>
<rect x="456.00" y="231.20" width="4.00" height="12.25" fill="#808080" stroke="none" stroke-width="1"/>
<rect x="460.00" y="231.20" width="1.00" height="12.25" fill="#f5ea26" stroke="none" stroke-width="1"/>
<rect x="461.00" y="231.20" width="2.00" height="12.25" fill="#808080" stroke="none" stroke-width="1"/>
<rect x="463.00" y="231.20" width="2.50" height="12.25" fill="#f9cd16" stroke="none" stroke-width="1"/>
<rect x="465.50" y="231.20" width="0.50" height="12.25" fill="#f9cd16" stroke="none" stroke-width="1"/>
<rect x="466.00" y="231.20" width="2.00" height="12.25" fill="#808080" stroke="none" stroke-width="1"/>
<rect x="468.00" y="231.20" width="3.00" height="12.25" fill="#f8bc19" stroke="none" stroke-width="1"/>
<rect x="471.00" y="231.20" width="2.00" height="12.25" fill="#808080" stroke="none" stroke-width="1"/>
<rect x="473.00" y="231.20" width="1.50" height="12.25" fill="#f8b21c" stroke="none" stroke-width="1"/>
<rect x="474.50" y="231.20" width="2.50" height="12.25" fill="#f9bb1b" stroke="none" stroke-width="1"/>
<rect x="477.00" y="231.20" width="1.50" height="12.25" fill="#fac51a" stroke="none" stroke-width="1"/>
<rect x="478.50" y="231.20" width="0.50" height="12.25" fill="#f7ab1e" stroke="none" stroke-width="1"/>
<rect x="479.00" y="231.20" width="2.00" height="12.25" fill="#f6e41c" stroke="none" stroke-width="1"/>
<rect x="481.00" y="231.20" width="1.00" height="12.25" fill="#f6e41c" stroke="none" stroke-width="1"/>
<rect x="482.00" y="231.20" width="2.00" height="12.25" fill="#808080" stroke="none" stroke-width="1"/>
<rect x="484.00" y="231.20" width="2.00" height="12.25" fill="#f2e21e" stroke="none" stroke-width="1"/>
<rect x="486.00" y="231.20" width="11.00" height="12.25" fill="#808080" stroke="none" stroke-width="1"/>
<rect x="497.00" y="231.20" width="1.50" height="12.25" fill="#f6e41c" stroke="none" stroke-width="1"/>
<rect x="498.50" y="231.20" width="1.00" height="12.25" fill="#808080" stroke="none" stroke-width="1"/>
<rect x="499.50" y="231.20" width="1.50" height="12.25" fill="#f2e21e" stroke="none" stroke-width="1"/>
<rect x="501.00" y="231.20" width="7.00" height="12.25" fill="#808080" stroke="none" stroke-width="1"/>
<rect x="508.00" y="231.20" width="1.00" height="12.25" fill="#f3e61f" stroke="none" stroke-width="1"/>
<rect x="509.00" y="231.20" width="1.00" height="12.25" fill="#808080" stroke="none" stroke-width="1"/>
<rect x="510.00" y="231.20" width="2.00" height="12.25" fill="#f3e61f" stroke="none" stroke-width="1"/>
<rect x="512.00" y="231.20" width="1.00" height="12.25" fill="#808080" stroke="none" stroke-width="1"/>
<rect x="513.00" y="231.20" width="1.00" height="12.25" fill="#f2e21e" stroke="none" stroke-width="1"/>
<rect x="514.00" y="231.20" width="2.00" height="12.25" fill="#808080" stroke="none" stroke-width="1"/>
<rect x="516.00" y="231.20" width="1.00" height="12.25" fill="#f3e61f" stroke="none" stroke-width="1"/>
<rect x="517.00" y="231.20" width="2.00" height="12.25" fill="#808080" stroke="none" stroke-width="1"/>
<rect x="519.00" y="231.20" width="1.00" height="12.25" fill="#f2e21e" stroke="none" stroke-width="1"/>
<rect x="520.00" y="231.20" width="1.00" height="12.25" fill="#808080" stroke="none" stroke-width="1"/>
<rect x="521.00" y="231.20" width="1.50" height="12.25" fill="#f2e21e" stroke="none" stroke-width="1"/>
<rect x="522.50" y="231.20" width="4.50" height="12.25" fill="#808080" stroke="none" stroke-width="1"/>
<rect x="527.00" y="231.20" width="2.00" height="12.25" fill="#f2e21e" stroke="none" stroke-width="1"/>
<rect x="529.00" y="231.20" width="2.00" height="12.25" fill="#808080" stroke="none" stroke-width="1"/>
<rect x="531.00" y="231.20" width="1.00" height="12.25" fill="#f3e61f" stroke="none" stroke-width="1"/>
<rect x="532.00" y="231.20" width="1.00" height="12.25" fill="#808080" stroke="none" stroke-width="1"/>
<rect x="533.00" y="231.20" width="1.00" height="12.25" fill="#f5ea26" stroke="none" stroke-width="1"/>
<rect x="534.00" y="231.20" width="4.00" height="12.25" fill="#808080" stroke="none" stroke-width="1"/>
<rect x="538.00" y="231.20" width="3.00" height="12.25" fill="#f6e41c" stroke="none" stroke-width="1"/>
<rect x="541.00" y="231.20" width="2.00" height="12.25" fill="#f3e61f" stroke="none" stroke-width="1"/>
<rect x="543.00" y="231.20" width="5.00" height="12.25" fill="#808080" stroke="none" stroke-width="1"/>
<rect x="548.00" y="231.20" width="2.50" height="12.25" fill="#f5ea26" stroke="none" stroke-width="1"/>
<rect x="550.50" y="231.20" width="6.50" height="12.25" fill="#808080" stroke="none" stroke-width="1"/>
<rect x="557.00" y="231.20" width="1.00" height="12.25" fill="#f5ea26" stroke="none" stroke-width="1"/>
<rect x="558.00" y="231.20" width="1.00" height="12.25" fill="#808080" stroke="none" stroke-width="1"/>
<rect x="559.00" y="231.20" width="1.50" height="12.25" fill="#f3e61f" stroke="none" stroke-width="1"/>
<rect x="560.50" y="231.20" width="3.00" height="12.25" fill="#f3e61f" stroke="none" stroke-width="1"/>
<rect x="563.50" y="231.20" width="2.50" height="12.25" fill="#f3e61f" stroke="none" stroke-width="1"/>
<rect x="566.00" y="231.20" width="2.00" height="12.25" fill="#f5ea26" stroke="none" stroke-width="1"/>
<rect x="568.00" y="231.20" width="3.00" height="12.25" fill="#f2e21e" stroke="none" stroke-width="1"/>
<rect x="571.00" y="231.20" width="2.00" height="12.25" fill="#f3e61f" stroke="none" stroke-width="1"/>
<rect x="573.00" y="231.20" width="1.00" height="12.25" fill="#f3e61f" stroke="none" stroke-width="1"/>
<rect x="574.00" y="231.20" width="4.00" height="12.25" fill="#808080" stroke="none" stroke-width="1"/>
<rect x="578.00" y="231.20" width="2.00" height="12.25" fill="#f5ea26" stroke="none" stroke-width="1"/>
<rect x="580.00" y="231.20" width="2.00" height="12.25" fill="#f2e21e" stroke="none" stroke-width="1"/>
<rect x="582.00" y="231.20" width="2.00" height="12.25" fill="#f9d912" stroke="none" stroke-width="1"/>
<rect x="584.00" y="231.20" width="2.00" height="12.25" fill="#f8d014" stroke="none" stroke-width="1"/>
<rect x="586.00" y="231.20" width="1.00" height="12.25" fill="#f8c816" stroke="none" stroke-width="1"/>
<rect x="587.00" y="231.20" width="1.00" height="12.25" fill="#808080" stroke="none" stroke-width="1"/>
<rect x="588.00" y="231.20" width="3.00" height="12.25" fill="#f5ea26" stroke="none" stroke-width="1"/>
<rect x="591.00" y="231.20" width="3.00" height="12.25" fill="#f6e41c" stroke="none" stroke-width="1"/>
<rect x="594.00" y="231.20" width="2.00" height="12.25" fill="#f8c816" stroke="none" stroke-width="1"/>
<rect x="596.00" y="231.20" width="1.00" height="12.25" fill="#f9d912" stroke="none" stroke-width="1"/>
<rect x="597.00" y="231.20" width="1.00" height="12.25" fill="#808080" stroke="none" stroke-width="1"/>
<rect x="598.00" y="231.20" width="1.00" height="12.25" fill="#f2e21e" stroke="none" stroke-width="1"/>
<rect x="599.00" y="231.20" width="1.00" height="12.25" fill="#808080" stroke="none" stroke-width="1"/>
<rect x="600.00" y="231.20" width="3.00" height="12.25" fill="#ef5a22" stroke="none" stroke-width="1"/>
<rect x="603.00" y="231.20" width="2.00" height="12.25" fill="#ee5222" stroke="none" stroke-width="1"/>
<rect x="605.00" y="231.20" width="6.00" height="12.25" fill="#e5231f" stroke="none" stroke-width="1"/>
<rect x="611.00" y="231.20" width="1.50" height="12.25" fill="#ee5b22" stroke="none" stroke-width="1"/>
<rect x="612.50" y="231.20" width="2.00" height="12.25" fill="#ef6322" stroke="none" stroke-width="1"/>
<rect x="614.50" y="231.20" width="0.50" height="12.25" fill="#ef6322" stroke="none" stroke-width="1"/>
<rect x="615.00" y="231.20" width="2.50" height="12.25" fill="#f27a22" stroke="none" stroke-width="1"/>
<rect x="617.50" y="231.20" width="1.50" height="12.25" fill="#f27a22" stroke="none" stroke-width="1"/>
<rect x="619.00" y="231.20" width="1.50" height="12.25" fill="#f4821f" stroke="none" stroke-width="1"/>
<rect x="620.50" y="231.20" width="3.00" height="12.25" fill="#f27a22" stroke="none" stroke-width="1"/>
<rect x="623.50" y="231.20" width="1.50" height="12.25" fill="#f27a22" stroke="none" stroke-width="1"/>
<rect x="625.00" y="231.20" width="3.00" height="12.25" fill="#f48e22" stroke="none" stroke-width="1"/>
<rect x="628.00" y="231.20" width="2.00" height="12.25" fill="#f4821f" stroke="none" stroke-width="1"/>
<rect x="630.00" y="231.20" width="3.00" height="12.25" fill="#f4821f" stroke="none" stroke-width="1"/>
<rect x="633.00" y="231.20" width="2.00" height="12.25" fill="#ee6422" stroke="none" stroke-width="1"/>
<rect x="635.00" y="231.20" width="2.00" height="12.25" fill="#f17c22" stroke="none" stroke-width="1"/>
<rect x="637.00" y="231.20" width="2.00" height="12.25" fill="#f17c22" stroke="none" stroke-width="1"/>
<rect x="639.00" y="231.20" width="3.00" height="12.25" fill="#ef6c22" stroke="none" stroke-width="1"/>
<rect x="560.00" y="231.20" width="2.00" height="12.25" fill="#fad414" stroke="none" stroke-width="1"/>
<rect x="562.00" y="231.20" width="2.50" height="12.25" fill="#f9cd16" stroke="none" stroke-width="1"/>
<rect x="564.50" y="231.20" width="1.50" height="12.25" fill="#f8bc19" stroke="none" stroke-width="1"/>
<rect x="593.00" y="231.20" width="1.00" height="12.25" fill="#808080" stroke="none" stroke-width="1"/>
<rect x="535.00" y="231.20" width="3.00" height="12.25" fill="#808080" stroke="none" stroke-width="1"/>
<rect x="389.00" y="243.40" width="2.00" height="12.25" fill="#e5231f" stroke="none" stroke-width="1"/>
<rect x="391.00" y="243.40" width="3.00" height="12.25" fill="#f9bb1b" stroke="none" stroke-width="1"/>
<rect x="394.00" y="243.40" width="2.00" height="12.25" fill="#f49c20" stroke="none" stroke-width="1"/>
<rect x="396.00" y="243.40" width="2.00" height="12.25" fill="#f9bb1b" stroke="none" stroke-width="1"/>
<rect x="398.00" y="243.40" width="2.50" height="12.25" fill="#f9bb1b" stroke="none" stroke-width="1"/>
<rect x="400.50" y="243.40" width="2.50" height="12.25" fill="#f8b21c" stroke="none" stroke-width="1"/>
<rect x="403.00" y="243.40" width="2.00" height="12.25" fill="#fac51a" stroke="none" stroke-width="1"/>
<rect x="405.00" y="243.40" width="1.50" height="12.25" fill="#f9bb1b" stroke="none" stroke-width="1"/>
<rect x="406.50" y="243.40" width="1.50" height="12.25" fill="#f9bb1b" stroke="none" stroke-width="1"/>
<rect x="408.00" y="243.40" width="2.00" height="12.25" fill="#f6a41f" stroke="none" stroke-width="1"/>
<rect x="410.00" y="243.40" width="1.50" height="12.25" fill="#f59f20" stroke="none" stroke-width="1"/>
<rect x="411.50" y="243.40" width="1.50" height="12.25" fill="#f59f20" stroke="none" stroke-width="1"/>
<rect x="413.00" y="243.40" width="1.50" height="12.25" fill="#f59f20" stroke="none" stroke-width="1"/>
<rect x="414.50" y="243.40" width="1.50" height="12.25" fill="#f6a41f" stroke="none" stroke-width="1"/>
<rect x="416.00" y="243.40" width="3.00" height="12.25" fill="#fac51a" stroke="none" stroke-width="1"/>
<rect x="419.00" y="243.40" width="1.00" height="12.25" fill="#f7ab1e" stroke="none" stroke-width="1"/>
<rect x="420.00" y="243.40" width="2.00" height="12.25" fill="#f59f20" stroke="none" stroke-width="1"/>
<rect x="422.00" y="243.40" width="3.00" height="12.25" fill="#f39520" stroke="none" stroke-width="1"/>
<rect x="425.00" y="243.40" width="2.50" height="12.25" fill="#f7ab1e" stroke="none" stroke-width="1"/>
<rect x="427.50" y="243.40" width="0.50" height="12.25" fill="#f9bb1b" stroke="none" stroke-width="1"/>
<rect x="428.00" y="243.40" width="1.00" height="12.25" fill="#808080" stroke="none" stroke-width="1"/>
<rect x="429.00" y="243.40" width="2.00" height="12.25" fill="#f49c20" stroke="none" stroke-width="1"/>
<rect x="431.00" y="243.40" width="1.00" height="12.25" fill="#808080" stroke="none" stroke-width="1"/>
<rect x="432.00" y="243.40" width="2.00" height="12.25" fill="#f9c418" stroke="none" stroke-width="1"/>
<rect x="434.00" y="243.40" width="1.00" height="12.25" fill="#808080" stroke="none" stroke-width="1"/>
<rect x="435.00" y="243.40" width="2.00" height="12.25" fill="#fac51a" stroke="none" stroke-width="1"/>
<rect x="437.00" y="243.40" width="1.00" height="12.25" fill="#f7ab1e" stroke="none" stroke-width="1"/>
<rect x="438.00" y="243.40" width="2.00" height="12.25" fill="#f9c418" stroke="none" stroke-width="1"/>
<rect x="440.00" y="243.40" width="1.00" height="12.25" fill="#f9cd16" stroke="none" stroke-width="1"/>
<rect x="441.00" y="243.40" width="2.00" height="12.25" fill="#f9bb1b" stroke="none" stroke-width="1"/>
<rect x="443.00" y="243.40" width="1.00" height="12.25" fill="#f7ab1e" stroke="none" stroke-width="1"/>
<rect x="444.00" y="243.40" width="2.50" height="12.25" fill="#f8bc19" stroke="none" stroke-width="1"/>
<rect x="446.50" y="243.40" width="0.80" height="12.25" fill="#fad414" stroke="none" stroke-width="1"/>
<rect x="447.30" y="243.40" width="1.20" height="12.25" fill="#808080" stroke="none" stroke-width="1"/>
<rect x="448.50" y="243.40" width="1.50" height="12.25" fill="#fad414" stroke="none" stroke-width="1"/>
<rect x="450.00" y="243.40" width="1.00" height="12.25" fill="#f8bc19" stroke="none" stroke-width="1"/>
<rect x="451.00" y="243.40" width="4.00" height="12.25" fill="#808080" stroke="none" stroke-width="1"/>
<rect x="455.00" y="243.40" width="1.00" height="12.25" fill="#f5ea26" stroke="none" stroke-width="1"/>
<rect x="456.00" y="243.40" width="4.00" height="12.25" fill="#808080" stroke="none" stroke-width="1"/>
<rect x="460.00" y="243.40" width="1.00" height="12.25" fill="#f6e41c" stroke="none" stroke-width="1"/>
<rect x="461.00" y="243.40" width="2.00" height="12.25" fill="#808080" stroke="none" stroke-width="1"/>
<rect x="463.00" y="243.40" width="1.50" height="12.25" fill="#fad414" stroke="none" stroke-width="1"/>
<rect x="464.50" y="243.40" width="1.50" height="12.25" fill="#f9cd16" stroke="none" stroke-width="1"/>
<rect x="466.00" y="243.40" width="2.00" height="12.25" fill="#808080" stroke="none" stroke-width="1"/>
<rect x="468.00" y="243.40" width="2.00" height="12.25" fill="#f9cd16" stroke="none" stroke-width="1"/>
<rect x="470.00" y="243.40" width="1.00" height="12.25" fill="#f9cd16" stroke="none" stroke-width="1"/>
<rect x="471.00" y="243.40" width="2.00" height="12.25" fill="#808080" stroke="none" stroke-width="1"/>
<rect x="473.00" y="243.40" width="2.00" height="12.25" fill="#f7ab1e" stroke="none" stroke-width="1"/>
<rect x="475.00" y="243.40" width="2.00" height="12.25" fill="#f7ab1e" stroke="none" stroke-width="1"/>
<rect x="477.00" y="243.40" width="2.00" height="12.25" fill="#f9bb1b" stroke="none" stroke-width="1"/>
<rect x="479.00" y="243.40" width="2.00" height="12.25" fill="#f5ea26" stroke="none" stroke-width="1"/>
<rect x="481.00" y="243.40" width="1.00" height="12.25" fill="#f5ea26" stroke="none" stroke-width="1"/>
<rect x="482.00" y="243.40" width="2.00" height="12.25" fill="#808080" stroke="none" stroke-width="1"/>
<rect x="484.00" y="243.40" width="2.00" height="12.25" fill="#f5ea26" stroke="none" stroke-width="1"/>
<rect x="486.00" y="243.40" width="11.00" height="12.25" fill="#808080" stroke="none" stroke-width="1"/>
<rect x="497.00" y="243.40" width="1.50" height="12.25" fill="#f5ea26" stroke="none" stroke-width="1"/>
<rect x="498.50" y="243.40" width="1.00" height="12.25" fill="#808080" stroke="none" stroke-width="1"/>
<rect x="499.50" y="243.40" width="1.50" height="12.25" fill="#f3e61f" stroke="none" stroke-width="1"/>
<rect x="501.00" y="243.40" width="7.00" height="12.25" fill="#808080" stroke="none" stroke-width="1"/>
<rect x="508.00" y="243.40" width="1.00" height="12.25" fill="#f2e21e" stroke="none" stroke-width="1"/>
<rect x="509.00" y="243.40" width="1.00" height="12.25" fill="#808080" stroke="none" stroke-width="1"/>
<rect x="510.00" y="243.40" width="2.00" height="12.25" fill="#f6e41c" stroke="none" stroke-width="1"/>
<rect x="512.00" y="243.40" width="1.00" height="12.25" fill="#808080" stroke="none" stroke-width="1"/>
<rect x="513.00" y="243.40" width="1.00" height="12.25" fill="#f3e61f" stroke="none" stroke-width="1"/>
<rect x="514.00" y="243.40" width="2.00" height="12.25" fill="#808080" stroke="none" stroke-width="1"/>
<rect x="516.00" y="243.40" width="1.00" height="12.25" fill="#f6e41c" stroke="none" stroke-width="1"/>
<rect x="517.00" y="243.40" width="2.00" height="12.25" fill="#808080" stroke="none" stroke-width="1"/>
<rect x="519.00" y="243.40" width="1.00" height="12.25" fill="#f6e41c" stroke="none" stroke-width="1"/>
<rect x="520.00" y="243.40" width="1.00" height="12.25" fill="#808080" stroke="none" stroke-width="1"/>
<rect x="521.00" y="243.40" width="1.50" height="12.25" fill="#f5ea26" stroke="none" stroke-width="1"/>
<rect x="522.50" y="243.40" width="4.50" height="12.25" fill="#808080" stroke="none" stroke-width="1"/>
<rect x="527.00" y="243.40" width="2.00" height="12.25" fill="#f5ea26" stroke="none" stroke-width="1"/>
<rect x="529.00" y="243.40" width="2.00" height="12.25" fill="#808080" stroke="none" stroke-width="1"/>
<rect x="531.00" y="243.40" width="1.00" height="12.25" fill="#f6e41c" stroke="none" stroke-width="1"/>
<rect x="532.00" y="243.40" width="1.00" height="12.25" fill="#808080" stroke="none" stroke-width="1"/>
<rect x="533.00" y="243.40" width="1.00" height="12.25" fill="#f3e61f" stroke="none" stroke-width="1"/>
<rect x="534.00" y="243.40" width="4.00" height="12.25" fill="#808080" stroke="none" stroke-width="1"/>
<rect x="538.00" y="243.40" width="1.50" height="12.25" fill="#f5ea26" stroke="none" stroke-width="1"/>
<rect x="539.50" y="243.40" width="2.50" height="12.25" fill="#f2e21e" stroke="none" stroke-width="1"/>
<rect x="542.00" y="243.40" width="1.00" height="12.25" fill="#f2e21e" stroke="none" stroke-width="1"/>
<rect x="543.00" y="243.40" width="5.00" height="12.25" fill="#808080" stroke="none" stroke-width="1"/>
<rect x="548.00" y="243.40" width="2.00" height="12.25" fill="#f3e61f" stroke="none" stroke-width="1"/>
<rect x="550.00" y="243.40" width="0.50" height="12.25" fill="#f3e61f" stroke="none" stroke-width="1"/>
<rect x="550.50" y="243.40" width="6.50" height="12.25" fill="#808080" stroke="none" stroke-width="1"/>
<rect x="557.00" y="243.40" width="1.00" height="12.25" fill="#f3e61f" stroke="none" stroke-width="1"/>
<rect x="558.00" y="243.40" width="1.00" height="12.25" fill="#808080" stroke="none" stroke-width="1"/>
<rect x="559.00" y="243.40" width="1.50" height="12.25" fill="#f6e41c" stroke="none" stroke-width="1"/>
<rect x="560.50" y="243.40" width="2.00" height="12.25" fill="#f5ea26" stroke="none" stroke-width="1"/>
<rect x="562.50" y="243.40" width="2.00" height="12.25" fill="#f3e61f" stroke="none" stroke-width="1"/>
<rect x="564.50" y="243.40" width="2.00" height="12.25" fill="#f5ea26" stroke="none" stroke-width="1"/>
<rect x="566.50" y="243.40" width="2.00" height="12.25" fill="#f2e21e" stroke="none" stroke-width="1"/>
<rect x="568.50" y="243.40" width="1.50" height="12.25" fill="#f3e61f" stroke="none" stroke-width="1"/>
<rect x="570.00" y="243.40" width="2.00" height="12.25" fill="#f6e41c" stroke="none" stroke-width="1"/>
<rect x="572.00" y="243.40" width="1.50" height="12.25" fill="#f3e61f" stroke="none" stroke-width="1"/>
<rect x="573.50" y="243.40" width="0.50" height="12.25" fill="#f6e41c" stroke="none" stroke-width="1"/>
<rect x="574.00" y="243.40" width="4.00" height="12.25" fill="#808080" stroke="none" stroke-width="1"/>
<rect x="578.00" y="243.40" width="3.00" height="12.25" fill="#f6e41c" stroke="none" stroke-width="1"/>
<rect x="581.00" y="243.40" width="1.00" height="12.25" fill="#f6e41c" stroke="none" stroke-width="1"/>
<rect x="582.00" y="243.40" width="2.00" height="12.25" fill="#f8c816" stroke="none" stroke-width="1"/>
<rect x="584.00" y="243.40" width="2.50" height="12.25" fill="#f8d014" stroke="none" stroke-width="1"/>
<rect x="586.50" y="243.40" width="0.50" height="12.25" fill="#f8d014" stroke="none" stroke-width="1"/>
<rect x="587.00" y="243.40" width="1.00" height="12.25" fill="#808080" stroke="none" stroke-width="1"/>
<rect x="588.00" y="243.40" width="2.00" height="12.25" fill="#f6e41c" stroke="none" stroke-width="1"/>
<rect x="590.00" y="243.40" width="3.00" height="12.25" fill="#f2e21e" stroke="none" stroke-width="1"/>
<rect x="593.00" y="243.40" width="1.00" height="12.25" fill="#f6e41c" stroke="none" stroke-width="1"/>
<rect x="594.00" y="243.40" width="2.00" height="12.25" fill="#f8c816" stroke="none" stroke-width="1"/>
<rect x="596.00" y="243.40" width="1.00" height="12.25" fill="#f8d014" stroke="none" stroke-width="1"/>
<rect x="597.00" y="243.40" width="1.00" height="12.25" fill="#808080" stroke="none" stroke-width="1"/>
<rect x="598.00" y="243.40" width="1.00" height="12.25" fill="#f3e61f" stroke="none" stroke-width="1"/>
<rect x="599.00" y="243.40" width="1.00" height="12.25" fill="#808080" stroke="none" stroke-width="1"/>
<rect x="600.00" y="243.40" width="2.50" height="12.25" fill="#ee5222" stroke="none" stroke-width="1"/>
<rect x="602.50" y="243.40" width="2.50" height="12.25" fill="#ed4c21" stroke="none" stroke-width="1"/>
<rect x="605.00" y="243.40" width="6.00" height="12.25" fill="#e5231f" stroke="none" stroke-width="1"/>
<rect x="611.00" y="243.40" width="2.00" height="12.25" fill="#ed5222" stroke="none" stroke-width="1"/>
<rect x="613.00" y="243.40" width="2.00" height="12.25" fill="#ef6322" stroke="none" stroke-width="1"/>
<rect x="615.00" y="243.40" width="2.50" height="12.25" fill="#f4821f" stroke="none" stroke-width="1"/>
<rect x="617.50" y="243.40" width="2.00" height="12.25" fill="#f48522" stroke="none" stroke-width="1"/>
<rect x="619.50" y="243.40" width="2.00" height="12.25" fill="#f27a22" stroke="none" stroke-width="1"/>
<rect x="621.50" y="243.40" width="2.50" height="12.25" fill="#f48522" stroke="none" stroke-width="1"/>
<rect x="624.00" y="243.40" width="1.00" height="12.25" fill="#f48522" stroke="none" stroke-width="1"/>
<rect x="625.00" y="243.40" width="2.00" height="12.25" fill="#f38622" stroke="none" stroke-width="1"/>
<rect x="627.00" y="243.40" width="1.00" height="12.25" fill="#f48e22" stroke="none" stroke-width="1"/>
<rect x="628.00" y="243.40" width="2.50" height="12.25" fill="#f27a22" stroke="none" stroke-width="1"/>
<rect x="630.50" y="243.40" width="2.50" height="12.25" fill="#f4821f" stroke="none" stroke-width="1"/>
<rect x="633.00" y="243.40" width="1.50" height="12.25" fill="#ee6422" stroke="none" stroke-width="1"/>
<rect x="634.50" y="243.40" width="1.50" height="12.25" fill="#f07522" stroke="none" stroke-width="1"/>
<rect x="636.00" y="243.40" width="2.50" height="12.25" fill="#ee6422" stroke="none" stroke-width="1"/>
<rect x="638.50" y="243.40" width="2.50" height="12.25" fill="#f07522" stroke="none" stroke-width="1"/>
<rect x="641.00" y="243.40" width="1.00" height="12.25" fill="#f07522" stroke="none" stroke-width="1"/>
<rect x="432.00" y="243.40" width="2.00" height="12.25" fill="#f3e61f" stroke="none" stroke-width="1"/>
<rect x="484.00" y="243.40" width="2.00" height="12.25" fill="#808080" stroke="none" stroke-width="1"/>
<rect x="391.00" y="243.40" width="2.00" height="12.25" fill="#f6e41c" stroke="none" stroke-width="1"/>
<rect x="389.00" y="255.60" width="2.00" height="12.25" fill="#e5231f" stroke="none" stroke-width="1"/>
<rect x="391.00" y="255.60" width="3.00" height="12.25" fill="#f59f20" stroke="none" stroke-width="1"/>
<rect x="394.00" y="255.60" width="2.00" height="12.25" fill="#f59f20" stroke="none" stroke-width="1"/>
<rect x="396.00" y="255.60" width="2.00" height="12.25" fill="#f8b21c" stroke="none" stroke-width="1"/>
<rect x="398.00" y="255.60" width="3.00" height="12.25" fill="#f9bb1b" stroke="none" stroke-width="1"/>
<rect x="401.00" y="255.60" width="1.50" height="12.25" fill="#f6a41f" stroke="none" stroke-width="1"/>
<rect x="402.50" y="255.60" width="0.50" height="12.25" fill="#f59f20" stroke="none" stroke-width="1"/>
<rect x="403.00" y="255.60" width="2.00" height="12.25" fill="#f9bb1b" stroke="none" stroke-width="1"/>
<rect x="405.00" y="255.60" width="2.50" height="12.25" fill="#f7ab1e" stroke="none" stroke-width="1"/>
<rect x="407.50" y="255.60" width="2.50" height="12.25" fill="#f9bb1b" stroke="none" stroke-width="1"/>
<rect x="410.00" y="255.60" width="1.50" height="12.25" fill="#f39520" stroke="none" stroke-width="1"/>
<rect x="411.50" y="255.60" width="1.50" height="12.25" fill="#f49c20" stroke="none" stroke-width="1"/>
<rect x="413.00" y="255.60" width="1.50" height="12.25" fill="#f49c20" stroke="none" stroke-width="1"/>
<rect x="414.50" y="255.60" width="1.50" height="12.25" fill="#f49c20" stroke="none" stroke-width="1"/>
<rect x="416.00" y="255.60" width="2.50" height="12.25" fill="#fac51a" stroke="none" stroke-width="1"/>
<rect x="418.50" y="255.60" width="1.50" height="12.25" fill="#fac51a" stroke="none" stroke-width="1"/>
<rect x="420.00" y="255.60" width="1.50" height="12.25" fill="#f49c20" stroke="none" stroke-width="1"/>
<rect x="421.50" y="255.60" width="3.00" height="12.25" fill="#f39520" stroke="none" stroke-width="1"/>
<rect x="424.50" y="255.60" width="0.50" height="12.25" fill="#f59f20" stroke="none" stroke-width="1"/>
<rect x="425.00" y="255.60" width="2.00" height="12.25" fill="#f7ab1e" stroke="none" stroke-width="1"/>
<rect x="427.00" y="255.60" width="1.00" height="12.25" fill="#f7ab1e" stroke="none" stroke-width="1"/>
<rect x="428.00" y="255.60" width="1.00" height="12.25" fill="#808080" stroke="none" stroke-width="1"/>
<rect x="429.00" y="255.60" width="2.00" height="12.25" fill="#f7ab1e" stroke="none" stroke-width="1"/>
<rect x="431.00" y="255.60" width="1.00" height="12.25" fill="#808080" stroke="none" stroke-width="1"/>
<rect x="432.00" y="255.60" width="2.00" height="12.25" fill="#fad414" stroke="none" stroke-width="1"/>
<rect x="434.00" y="255.60" width="1.00" height="12.25" fill="#808080" stroke="none" stroke-width="1"/>
<rect x="435.00" y="255.60" width="2.50" height="12.25" fill="#fac51a" stroke="none" stroke-width="1"/>
<rect x="437.50" y="255.60" width="0.50" height="12.25" fill="#f7ab1e" stroke="none" stroke-width="1"/>
<rect x="438.00" y="255.60" width="2.50" height="12.25" fill="#fad414" stroke="none" stroke-width="1"/>
<rect x="440.50" y="255.60" width="0.50" height="12.25" fill="#f8bc19" stroke="none" stroke-width="1"/>
<rect x="441.00" y="255.60" width="2.50" height="12.25" fill="#f8b21c" stroke="none" stroke-width="1"/>
<rect x="443.50" y="255.60" width="0.50" height="12.25" fill="#f9bb1b" stroke="none" stroke-width="1"/>
<rect x="444.00" y="255.60" width="1.50" height="12.25" fill="#f9cd16" stroke="none" stroke-width="1"/>
<rect x="445.50" y="255.60" width="1.80" height="12.25" fill="#fad414" stroke="none" stroke-width="1"/>
<rect x="447.30" y="255.60" width="1.20" height="12.25" fill="#808080" stroke="none" stroke-width="1"/>
<rect x="448.50" y="255.60" width="1.50" height="12.25" fill="#f8bc19" stroke="none" stroke-width="1"/>
<rect x="450.00" y="255.60" width="1.00" height="12.25" fill="#f9c418" stroke="none" stroke-width="1"/>
<rect x="451.00" y="255.60" width="4.00" height="12.25" fill="#808080" stroke="none" stroke-width="1"/>
<rect x="455.00" y="255.60" width="1.00" height="12.25" fill="#f2e21e" stroke="none" stroke-width="1"/>
<rect x="456.00" y="255.60" width="4.00" height="12.25" fill="#808080" stroke="none" stroke-width="1"/>
<rect x="460.00" y="255.60" width="1.00" height="12.25" fill="#f3e61f" stroke="none" stroke-width="1"/>
<rect x="461.00" y="255.60" width="2.00" height="12.25" fill="#808080" stroke="none" stroke-width="1"/>
<rect x="463.00" y="255.60" width="2.00" height="12.25" fill="#fad414" stroke="none" stroke-width="1"/>
<rect x="465.00" y="255.60" width="1.00" height="12.25" fill="#f8bc19" stroke="none" stroke-width="1"/>
<rect x="466.00" y="255.60" width="2.00" height="12.25" fill="#808080" stroke="none" stroke-width="1"/>
<rect x="468.00" y="255.60" width="2.00" height="12.25" fill="#f9c418" stroke="none" stroke-width="1"/>
<rect x="470.00" y="255.60" width="1.00" height="12.25" fill="#fad414" stroke="none" stroke-width="1"/>
<rect x="471.00" y="255.60" width="2.00" height="12.25" fill="#808080" stroke="none" stroke-width="1"/>
<rect x="473.00" y="255.60" width="2.00" height="12.25" fill="#f9bb1b" stroke="none" stroke-width="1"/>
<rect x="475.00" y="255.60" width="1.50" height="12.25" fill="#f8b21c" stroke="none" stroke-width="1"/>
<rect x="476.50" y="255.60" width="2.50" height="12.25" fill="#fac51a" stroke="none" stroke-width="1"/>
<rect x="479.00" y="255.60" width="1.50" height="12.25" fill="#f5ea26" stroke="none" stroke-width="1"/>
<rect x="480.50" y="255.60" width="1.50" height="12.25" fill="#f2e21e" stroke="none" stroke-width="1"/>
<rect x="482.00" y="255.60" width="2.00" height="12.25" fill="#808080" stroke="none" stroke-width="1"/>
<rect x="484.00" y="255.60" width="2.00" height="12.25" fill="#f5ea26" stroke="none" stroke-width="1"/>
<rect x="486.00" y="255.60" width="11.00" height="12.25" fill="#808080" stroke="none" stroke-width="1"/>
<rect x="497.00" y="255.60" width="1.50" height="12.25" fill="#f3e61f" stroke="none" stroke-width="1"/>
<rect x="498.50" y="255.60" width="1.00" height="12.25" fill="#808080" stroke="none" stroke-width="1"/>
<rect x="499.50" y="255.60" width="1.50" height="12.25" fill="#f2e21e" stroke="none" stroke-width="1"/>
<rect x="501.00" y="255.60" width="7.00" height="12.25" fill="#808080" stroke="none" stroke-width="1"/>
<rect x="508.00" y="255.60" width="1.00" height="12.25" fill="#f6e41c" stroke="none" stroke-width="1"/>
<rect x="509.00" y="255.60" width="1.00" height="12.25" fill="#808080" stroke="none" stroke-width="1"/>
<rect x="510.00" y="255.60" width="2.00" height="12.25" fill="#f5ea26" stroke="none" stroke-width="1"/>
<rect x="512.00" y="255.60" width="1.00" height="12.25" fill="#808080" stroke="none" stroke-width="1"/>
<rect x="513.00" y="255.60" width="1.00" height="12.25" fill="#f6e41c" stroke="none" stroke-width="1"/>
<rect x="514.00" y="255.60" width="2.00" height="12.25" fill="#808080" stroke="none" stroke-width="1"/>
<rect x="516.00" y="255.60" width="1.00" height="12.25" fill="#f6e41c" stroke="none" stroke-width="1"/>
<rect x="517.00" y="255.60" width="2.00" height="12.25" fill="#808080" stroke="none" stroke-width="1"/>
<rect x="519.00" y="255.60" width="1.00" height="12.25" fill="#f2e21e" stroke="none" stroke-width="1"/>
<rect x="520.00" y="255.60" width="1.00" height="12.25" fill="#808080" stroke="none" stroke-width="1"/>
<rect x="521.00" y="255.60" width="1.50" height="12.25" fill="#f6e41c" stroke="none" stroke-width="1"/>
<rect x="522.50" y="255.60" width="4.50" height="12.25" fill="#808080" stroke="none" stroke-width="1"/>
<rect x="527.00" y="255.60" width="2.00" height="12.25" fill="#f2e21e" stroke="none" stroke-width="1"/>
<rect x="529.00" y="255.60" width="2.00" height="12.25" fill="#808080" stroke="none" stroke-width="1"/>
<rect x="531.00" y="255.60" width="1.00" height="12.25" fill="#f5ea26" stroke="none" stroke-width="1"/>
<rect x="532.00" y="255.60" width="1.00" height="12.25" fill="#808080" stroke="none" stroke-width="1"/>
<rect x="533.00" y="255.60" width="1.00" height="12.25" fill="#f2e21e" stroke="none" stroke-width="1"/>
<rect x="534.00" y="255.60" width="4.00" height="12.25" fill="#808080" stroke="none" stroke-width="1"/>
<rect x="538.00" y="255.60" width="2.00" height="12.25" fill="#f5ea26" stroke="none" stroke-width="1"/>
<rect x="540.00" y="255.60" width="3.00" height="12.25" fill="#f3e61f" stroke="none" stroke-width="1"/>
<rect x="543.00" y="255.60" width="5.00" height="12.25" fill="#808080" stroke="none" stroke-width="1"/>
<rect x="548.00" y="255.60" width="2.50" height="12.25" fill="#f2e21e" stroke="none" stroke-width="1"/>
<rect x="550.50" y="255.60" width="6.50" height="12.25" fill="#808080" stroke="none" stroke-width="1"/>
<rect x="557.00" y="255.60" width="1.00" height="12.25" fill="#f2e21e" stroke="none" stroke-width="1"/>
<rect x="558.00" y="255.60" width="1.00" height="12.25" fill="#808080" stroke="none" stroke-width="1"/>
<rect x="559.00" y="255.60" width="2.50" height="12.25" fill="#f5ea26" stroke="none" stroke-width="1"/>
<rect x="561.50" y="255.60" width="2.50" height="12.25" fill="#f5ea26" stroke="none" stroke-width="1"/>
<rect x="564.00" y="255.60" width="2.00" height="12.25" fill="#f5ea26" stroke="none" stroke-width="1"/>
<rect x="566.00" y="255.60" width="2.00" height="12.25" fill="#f3e61f" stroke="none" stroke-width="1"/>
<rect x="568.00" y="255.60" width="1.50" height="12.25" fill="#f3e61f" stroke="none" stroke-width="1"/>
<rect x="569.50" y="255.60" width="2.50" height="12.25" fill="#f2e21e" stroke="none" stroke-width="1"/>
<rect x="572.00" y="255.60" width="2.00" height="12.25" fill="#f3e61f" stroke="none" stroke-width="1"/>
<rect x="574.00" y="255.60" width="4.00" height="12.25" fill="#808080" stroke="none" stroke-width="1"/>
<rect x="578.00" y="255.60" width="1.50" height="12.25" fill="#f3e61f" stroke="none" stroke-width="1"/>
<rect x="579.50" y="255.60" width="2.00" height="12.25" fill="#f2e21e" stroke="none" stroke-width="1"/>
<rect x="581.50" y="255.60" width="0.50" height="12.25" fill="#f3e61f" stroke="none" stroke-width="1"/>
<rect x="582.00" y="255.60" width="2.00" height="12.25" fill="#f8c816" stroke="none" stroke-width="1"/>
<rect x="584.00" y="255.60" width="2.00" height="12.25" fill="#f8c816" stroke="none" stroke-width="1"/>
<rect x="586.00" y="255.60" width="1.00" height="12.25" fill="#f9d912" stroke="none" stroke-width="1"/>
<rect x="587.00" y="255.60" width="1.00" height="12.25" fill="#808080" stroke="none" stroke-width="1"/>
<rect x="588.00" y="255.60" width="3.00" height="12.25" fill="#f2e21e" stroke="none" stroke-width="1"/>
<rect x="591.00" y="255.60" width="2.00" height="12.25" fill="#f2e21e" stroke="none" stroke-width="1"/>
<rect x="593.00" y="255.60" width="1.00" height="12.25" fill="#f6e41c" stroke="none" stroke-width="1"/>
<rect x="594.00" y="255.60" width="2.00" height="12.25" fill="#f8d014" stroke="none" stroke-width="1"/>
<rect x="596.00" y="255.60" width="1.00" height="12.25" fill="#f9d912" stroke="none" stroke-width="1"/>
<rect x="597.00" y="255.60" width="1.00" height="12.25" fill="#808080" stroke="none" stroke-width="1"/>
<rect x="598.00" y="255.60" width="1.00" height="12.25" fill="#f5ea26" stroke="none" stroke-width="1"/>
<rect x="599.00" y="255.60" width="1.00" height="12.25" fill="#808080" stroke="none" stroke-width="1"/>
<rect x="600.00" y="255.60" width="3.00" height="12.25" fill="#ef5a22" stroke="none" stroke-width="1"/>
<rect x="603.00" y="255.60" width="2.00" height="12.25" fill="#ef5a22" stroke="none" stroke-width="1"/>
<rect x="605.00" y="255.60" width="6.00" height="12.25" fill="#e6291f" stroke="none" stroke-width="1"/>
<rect x="611.00" y="255.60" width="2.50" height="12.25" fill="#ee5b22" stroke="none" stroke-width="1"/>
<rect x="613.50" y="255.60" width="1.50" height="12.25" fill="#ef6322" stroke="none" stroke-width="1"/>
<rect x="615.00" y="255.60" width="2.00" height="12.25" fill="#f48522" stroke="none" stroke-width="1"/>
<rect x="617.00" y="255.60" width="2.50" height="12.25" fill="#f4821f" stroke="none" stroke-width="1"/>
<rect x="619.50" y="255.60" width="3.00" height="12.25" fill="#f27a22" stroke="none" stroke-width="1"/>
<rect x="622.50" y="255.60" width="1.50" height="12.25" fill="#f4821f" stroke="none" stroke-width="1"/>
<rect x="624.00" y="255.60" width="1.00" height="12.25" fill="#f48522" stroke="none" stroke-width="1"/>
<rect x="625.00" y="255.60" width="3.00" height="12.25" fill="#f59822" stroke="none" stroke-width="1"/>
<rect x="628.00" y="255.60" width="1.50" height="12.25" fill="#f4821f" stroke="none" stroke-width="1"/>
<rect x="629.50" y="255.60" width="2.50" height="12.25" fill="#f58c22" stroke="none" stroke-width="1"/>
<rect x="632.00" y="255.60" width="1.00" height="12.25" fill="#f27a22" stroke="none" stroke-width="1"/>
<rect x="633.00" y="255.60" width="3.00" height="12.25" fill="#ee6422" stroke="none" stroke-width="1"/>
<rect x="636.00" y="255.60" width="2.50" height="12.25" fill="#f07522" stroke="none" stroke-width="1"/>
<rect x="638.50" y="255.60" width="2.00" height="12.25" fill="#ee6422" stroke="none" stroke-width="1"/>
<rect x="640.50" y="255.60" width="1.50" height="12.25" fill="#ee6422" stroke="none" stroke-width="1"/>
<rect x="484.00" y="255.60" width="2.00" height="12.25" fill="#808080" stroke="none" stroke-width="1"/>
<rect x="389.00" y="267.80" width="2.00" height="12.25" fill="#e6291f" stroke="none" stroke-width="1"/>
<rect x="391.00" y="267.80" width="2.50" height="12.25" fill="#f59f20" stroke="none" stroke-width="1"/>
<rect x="393.50" y="267.80" width="2.50" height="12.25" fill="#f9bb1b" stroke="none" stroke-width="1"/>
<rect x="396.00" y="267.80" width="2.00" height="12.25" fill="#f7ab1e" stroke="none" stroke-width="1"/>
<rect x="398.00" y="267.80" width="3.00" height="12.25" fill="#f9bb1b" stroke="none" stroke-width="1"/>
<rect x="401.00" y="267.80" width="2.00" height="12.25" fill="#f7ab1e" stroke="none" stroke-width="1"/>
<rect x="403.00" y="267.80" width="2.00" height="12.25" fill="#f7ab1e" stroke="none" stroke-width="1"/>
<rect x="405.00" y="267.80" width="2.00" height="12.25" fill="#f7ab1e" stroke="none" stroke-width="1"/>
<rect x="407.00" y="267.80" width="2.00" height="12.25" fill="#f6a41f" stroke="none" stroke-width="1"/>
<rect x="409.00" y="267.80" width="1.00" height="12.25" fill="#f49c20" stroke="none" stroke-width="1"/>
<rect x="410.00" y="267.80" width="1.50" height="12.25" fill="#f6a41f" stroke="none" stroke-width="1"/>
<rect x="411.50" y="267.80" width="1.50" height="12.25" fill="#f59f20" stroke="none" stroke-width="1"/>
<rect x="413.00" y="267.80" width="2.00" height="12.25" fill="#f59f20" stroke="none" stroke-width="1"/>
<rect x="415.00" y="267.80" width="1.00" height="12.25" fill="#f7ab1e" stroke="none" stroke-width="1"/>
<rect x="416.00" y="267.80" width="2.00" height="12.25" fill="#f9bb1b" stroke="none" stroke-width="1"/>
<rect x="418.00" y="267.80" width="2.00" height="12.25" fill="#f8b21c" stroke="none" stroke-width="1"/>
<rect x="420.00" y="267.80" width="3.00" height="12.25" fill="#f6a41f" stroke="none" stroke-width="1"/>
<rect x="423.00" y="267.80" width="1.50" height="12.25" fill="#f39520" stroke="none" stroke-width="1"/>
<rect x="424.50" y="267.80" width="0.50" height="12.25" fill="#f39520" stroke="none" stroke-width="1"/>
<rect x="425.00" y="267.80" width="2.50" height="12.25" fill="#f6a41f" stroke="none" stroke-width="1"/>
<rect x="427.50" y="267.80" width="0.50" height="12.25" fill="#f6a41f" stroke="none" stroke-width="1"/>
<rect x="428.00" y="267.80" width="1.00" height="12.25" fill="#808080" stroke="none" stroke-width="1"/>
<rect x="429.00" y="267.80" width="2.00" height="12.25" fill="#f9bb1b" stroke="none" stroke-width="1"/>
<rect x="431.00" y="267.80" width="1.00" height="12.25" fill="#808080" stroke="none" stroke-width="1"/>
<rect x="432.00" y="267.80" width="2.00" height="12.25" fill="#f8bc19" stroke="none" stroke-width="1"/>
<rect x="434.00" y="267.80" width="1.00" height="12.25" fill="#808080" stroke="none" stroke-width="1"/>
<rect x="435.00" y="267.80" width="1.50" height="12.25" fill="#f7ab1e" stroke="none" stroke-width="1"/>
<rect x="436.50" y="267.80" width="1.50" height="12.25" fill="#f7ab1e" stroke="none" stroke-width="1"/>
<rect x="438.00" y="267.80" width="1.50" height="12.25" fill="#f8bc19" stroke="none" stroke-width="1"/>
<rect x="439.50" y="267.80" width="1.50" height="12.25" fill="#f9c418" stroke="none" stroke-width="1"/>
<rect x="441.00" y="267.80" width="2.00" height="12.25" fill="#f8b21c" stroke="none" stroke-width="1"/>
<rect x="443.00" y="267.80" width="1.00" height="12.25" fill="#f9bb1b" stroke="none" stroke-width="1"/>
<rect x="444.00" y="267.80" width="2.00" height="12.25" fill="#fad414" stroke="none" stroke-width="1"/>
<rect x="446.00" y="267.80" width="1.30" height="12.25" fill="#fad414" stroke="none" stroke-width="1"/>
<rect x="447.30" y="267.80" width="1.20" height="12.25" fill="#808080" stroke="none" stroke-width="1"/>
<rect x="448.50" y="267.80" width="2.50" height="12.25" fill="#f8bc19" stroke="none" stroke-width="1"/>
<rect x="451.00" y="267.80" width="4.00" height="12.25" fill="#808080" stroke="none" stroke-width="1"/>
<rect x="455.00" y="267.80" width="1.00" height="12.25" fill="#f2e21e" stroke="none" stroke-width="1"/>
<rect x="456.00" y="267.80" width="4.00" height="12.25" fill="#808080" stroke="none" stroke-width="1"/>
<rect x="460.00" y="267.80" width="1.00" height="12.25" fill="#f2e21e" stroke="none" stroke-width="1"/>
<rect x="461.00" y="267.80" width="2.00" height="12.25" fill="#808080" stroke="none" stroke-width="1"/>
<rect x="463.00" y="267.80" width="2.00" height="12.25" fill="#fad414" stroke="none" stroke-width="1"/>
<rect x="465.00" y="267.80" width="1.00" height="12.25" fill="#f9c418" stroke="none" stroke-width="1"/>
<rect x="466.00" y="267.80" width="2.00" height="12.25" fill="#808080" stroke="none" stroke-width="1"/>
<rect x="468.00" y="267.80" width="1.50" height="12.25" fill="#fad414" stroke="none" stroke-width="1"/>
<rect x="469.50" y="267.80" width="1.50" height="12.25" fill="#f9c418" stroke="none" stroke-width="1"/>
<rect x="471.00" y="267.80" width="2.00" height="12.25" fill="#808080" stroke="none" stroke-width="1"/>
<rect x="473.00" y="267.80" width="3.00" height="12.25" fill="#f8b21c" stroke="none" stroke-width="1"/>
<rect x="476.00" y="267.80" width="3.00" height="12.25" fill="#f8b21c" stroke="none" stroke-width="1"/>
<rect x="479.00" y="267.80" width="2.50" height="12.25" fill="#f3e61f" stroke="none" stroke-width="1"/>
<rect x="481.50" y="267.80" width="0.50" height="12.25" fill="#f6e41c" stroke="none" stroke-width="1"/>
<rect x="482.00" y="267.80" width="2.00" height="12.25" fill="#808080" stroke="none" stroke-width="1"/>
<rect x="484.00" y="267.80" width="2.00" height="12.25" fill="#f6e41c" stroke="none" stroke-width="1"/>
<rect x="486.00" y="267.80" width="11.00" height="12.25" fill="#808080" stroke="none" stroke-width="1"/>
<rect x="497.00" y="267.80" width="1.50" height="12.25" fill="#f5ea26" stroke="none" stroke-width="1"/>
<rect x="498.50" y="267.80" width="1.00" height="12.25" fill="#808080" stroke="none" stroke-width="1"/>
<rect x="499.50" y="267.80" width="1.50" height="12.25" fill="#f5ea26" stroke="none" stroke-width="1"/>
<rect x="501.00" y="267.80" width="7.00" height="12.25" fill="#808080" stroke="none" stroke-width="1"/>
<rect x="508.00" y="267.80" width="1.00" height="12.25" fill="#f5ea26" stroke="none" stroke-width="1"/>
<rect x="509.00" y="267.80" width="1.00" height="12.25" fill="#808080" stroke="none" stroke-width="1"/>
<rect x="510.00" y="267.80" width="2.00" height="12.25" fill="#f6e41c" stroke="none" stroke-width="1"/>
<rect x="512.00" y="267.80" width="1.00" height="12.25" fill="#808080" stroke="none" stroke-width="1"/>
<rect x="513.00" y="267.80" width="1.00" height="12.25" fill="#f5ea26" stroke="none" stroke-width="1"/>
<rect x="514.00" y="267.80" width="2.00" height="12.25" fill="#808080" stroke="none" stroke-width="1"/>
<rect x="516.00" y="267.80" width="1.00" height="12.25" fill="#f2e21e" stroke="none" stroke-width="1"/>
<rect x="517.00" y="267.80" width="2.00" height="12.25" fill="#808080" stroke="none" stroke-width="1"/>
<rect x="519.00" y="267.80" width="1.00" height="12.25" fill="#f5ea26" stroke="none" stroke-width="1"/>
<rect x="520.00" y="267.80" width="1.00" height="12.25" fill="#808080" stroke="none" stroke-width="1"/>
<rect x="521.00" y="267.80" width="1.50" height="12.25" fill="#f6e41c" stroke="none" stroke-width="1"/>
<rect x="522.50" y="267.80" width="4.50" height="12.25" fill="#808080" stroke="none" stroke-width="1"/>
<rect x="527.00" y="267.80" width="2.00" height="12.25" fill="#f6e41c" stroke="none" stroke-width="1"/>
<rect x="529.00" y="267.80" width="2.00" height="12.25" fill="#808080" stroke="none" stroke-width="1"/>
<rect x="531.00" y="267.80" width="1.00" height="12.25" fill="#f2e21e" stroke="none" stroke-width="1"/>
<rect x="532.00" y="267.80" width="1.00" height="12.25" fill="#808080" stroke="none" stroke-width="1"/>
<rect x="533.00" y="267.80" width="1.00" height="12.25" fill="#f2e21e" stroke="none" stroke-width="1"/>
<rect x="534.00" y="267.80" width="4.00" height="12.25" fill="#808080" stroke="none" stroke-width="1"/>
<rect x="538.00" y="267.80" width="1.50" height="12.25" fill="#f6e41c" stroke="none" stroke-width="1"/>
<rect x="539.50" y="267.80" width="2.50" height="12.25" fill="#f3e61f" stroke="none" stroke-width="1"/>
<rect x="542.00" y="267.80" width="1.00" height="12.25" fill="#f5ea26" stroke="none" stroke-width="1"/>
<rect x="543.00" y="267.80" width="5.00" height="12.25" fill="#808080" stroke="none" stroke-width="1"/>
<rect x="548.00" y="267.80" width="2.00" height="12.25" fill="#f3e61f" stroke="none" stroke-width="1"/>
<rect x="550.00" y="267.80" width="0.50" height="12.25" fill="#f3e61f" stroke="none" stroke-width="1"/>
<rect x="550.50" y="267.80" width="6.50" height="12.25" fill="#808080" stroke="none" stroke-width="1"/>
<rect x="557.00" y="267.80" width="1.00" height="12.25" fill="#f6e41c" stroke="none" stroke-width="1"/>
<rect x="558.00" y="267.80" width="1.00" height="12.25" fill="#808080" stroke="none" stroke-width="1"/>
<rect x="559.00" y="267.80" width="1.50" height="12.25" fill="#f2e21e" stroke="none" stroke-width="1"/>
<rect x="560.50" y="267.80" width="1.50" height="12.25" fill="#f5ea26" stroke="none" stroke-width="1"/>
<rect x="562.00" y="267.80" width="2.00" height="12.25" fill="#f2e21e" stroke="none" stroke-width="1"/>
<rect x="564.00" y="267.80" width="2.00" height="12.25" fill="#f5ea26" stroke="none" stroke-width="1"/>
<rect x="566.00" y="267.80" width="3.00" height="12.25" fill="#f5ea26" stroke="none" stroke-width="1"/>
<rect x="569.00" y="267.80" width="3.00" height="12.25" fill="#f5ea26" stroke="none" stroke-width="1"/>
<rect x="572.00" y="267.80" width="2.00" height="12.25" fill="#f6e41c" stroke="none" stroke-width="1"/>
<rect x="574.00" y="267.80" width="4.00" height="12.25" fill="#808080" stroke="none" stroke-width="1"/>
<rect x="578.00" y="267.80" width="2.00" height="12.25" fill="#f2e21e" stroke="none" stroke-width="1"/>
<rect x="580.00" y="267.80" width="2.00" height="12.25" fill="#f2e21e" stroke="none" stroke-width="1"/>
<rect x="582.00" y="267.80" width="3.00" height="12.25" fill="#f9d912" stroke="none" stroke-width="1"/>
<rect x="585.00" y="267.80" width="2.00" height="12.25" fill="#f8c816" stroke="none" stroke-width="1"/>
<rect x="587.00" y="267.80" width="1.00" height="12.25" fill="#808080" stroke="none" stroke-width="1"/>
<rect x="588.00" y="267.80" width="1.50" height="12.25" fill="#f6e41c" stroke="none" stroke-width="1"/>
<rect x="589.50" y="267.80" width="2.00" height="12.25" fill="#f6e41c" stroke="none" stroke-width="1"/>
<rect x="591.50" y="267.80" width="1.50" height="12.25" fill="#f5ea26" stroke="none" stroke-width="1"/>
<rect x="593.00" y="267.80" width="1.00" height="12.25" fill="#f6e41c" stroke="none" stroke-width="1"/>
<rect x="594.00" y="267.80" width="2.50" height="12.25" fill="#f8d014" stroke="none" stroke-width="1"/>
<rect x="596.50" y="267.80" width="0.50" height="12.25" fill="#f8d014" stroke="none" stroke-width="1"/>
<rect x="597.00" y="267.80" width="1.00" height="12.25" fill="#808080" stroke="none" stroke-width="1"/>
<rect x="598.00" y="267.80" width="1.00" height="12.25" fill="#f6e41c" stroke="none" stroke-width="1"/>
<rect x="599.00" y="267.80" width="1.00" height="12.25" fill="#808080" stroke="none" stroke-width="1"/>
<rect x="600.00" y="267.80" width="2.50" height="12.25" fill="#ef5a22" stroke="none" stroke-width="1"/>
<rect x="602.50" y="267.80" width="2.00" height="12.25" fill="#ed4c21" stroke="none" stroke-width="1"/>
<rect x="604.50" y="267.80" width="0.50" height="12.25" fill="#ed4c21" stroke="none" stroke-width="1"/>
<rect x="605.00" y="267.80" width="6.00" height="12.25" fill="#e6291f" stroke="none" stroke-width="1"/>
<rect x="611.00" y="267.80" width="3.00" height="12.25" fill="#ee5b22" stroke="none" stroke-width="1"/>
<rect x="614.00" y="267.80" width="1.00" height="12.25" fill="#ee5b22" stroke="none" stroke-width="1"/>
<rect x="615.00" y="267.80" width="2.50" height="12.25" fill="#f58c22" stroke="none" stroke-width="1"/>
<rect x="617.50" y="267.80" width="2.50" height="12.25" fill="#f4821f" stroke="none" stroke-width="1"/>
<rect x="620.00" y="267.80" width="2.00" height="12.25" fill="#f58c22" stroke="none" stroke-width="1"/>
<rect x="622.00" y="267.80" width="1.50" height="12.25" fill="#f58c22" stroke="none" stroke-width="1"/>
<rect x="623.50" y="267.80" width="1.50" height="12.25" fill="#f58c22" stroke="none" stroke-width="1"/>
<rect x="625.00" y="267.80" width="1.50" height="12.25" fill="#f59822" stroke="none" stroke-width="1"/>
<rect x="626.50" y="267.80" width="1.50" height="12.25" fill="#f38622" stroke="none" stroke-width="1"/>
<rect x="628.00" y="267.80" width="1.50" height="12.25" fill="#f48522" stroke="none" stroke-width="1"/>
<rect x="629.50" y="267.80" width="3.00" height="12.25" fill="#f4821f" stroke="none" stroke-width="1"/>
<rect x="632.50" y="267.80" width="0.50" height="12.25" fill="#f4821f" stroke="none" stroke-width="1"/>
<rect x="633.00" y="267.80" width="2.00" height="12.25" fill="#f17c22" stroke="none" stroke-width="1"/>
<rect x="635.00" y="267.80" width="2.00" height="12.25" fill="#ef6c22" stroke="none" stroke-width="1"/>
<rect x="637.00" y="267.80" width="3.00" height="12.25" fill="#f07522" stroke="none" stroke-width="1"/>
<rect x="640.00" y="267.80" width="1.50" height="12.25" fill="#f17c22" stroke="none" stroke-width="1"/>
<rect x="641.50" y="267.80" width="0.50" height="12.25" fill="#f07522" stroke="none" stroke-width="1"/>
<rect x="389.00" y="280.00" width="2.00" height="12.25" fill="#e8301f" stroke="none" stroke-width="1"/>
<rect x="391.00" y="280.00" width="2.50" height="12.25" fill="#f49c20" stroke="none" stroke-width="1"/>
<rect x="393.50" y="280.00" width="2.50" height="12.25" fill="#f6a41f" stroke="none" stroke-width="1"/>
<rect x="396.00" y="280.00" width="2.00" height="12.25" fill="#f7ab1e" stroke="none" stroke-width="1"/>
<rect x="398.00" y="280.00" width="3.00" height="12.25" fill="#f59f20" stroke="none" stroke-width="1"/>
<rect x="401.00" y="280.00" width="1.50" height="12.25" fill="#f49c20" stroke="none" stroke-width="1"/>
<rect x="402.50" y="280.00" width="0.50" height="12.25" fill="#f59f20" stroke="none" stroke-width="1"/>
<rect x="403.00" y="280.00" width="2.00" height="12.25" fill="#f9bb1b" stroke="none" stroke-width="1"/>
<rect x="405.00" y="280.00" width="1.50" height="12.25" fill="#f59f20" stroke="none" stroke-width="1"/>
<rect x="406.50" y="280.00" width="3.00" height="12.25" fill="#f59f20" stroke="none" stroke-width="1"/>
<rect x="409.50" y="280.00" width="0.50" height="12.25" fill="#f59f20" stroke="none" stroke-width="1"/>
<rect x="410.00" y="280.00" width="1.50" height="12.25" fill="#f59f20" stroke="none" stroke-width="1"/>
<rect x="411.50" y="280.00" width="1.50" height="12.25" fill="#f59f20" stroke="none" stroke-width="1"/>
<rect x="413.00" y="280.00" width="3.00" height="12.25" fill="#f8b21c" stroke="none" stroke-width="1"/>
<rect x="416.00" y="280.00" width="2.50" height="12.25" fill="#f8b21c" stroke="none" stroke-width="1"/>
<rect x="418.50" y="280.00" width="1.50" height="12.25" fill="#f8b21c" stroke="none" stroke-width="1"/>
<rect x="420.00" y="280.00" width="2.00" height="12.25" fill="#f39520" stroke="none" stroke-width="1"/>
<rect x="422.00" y="280.00" width="2.50" height="12.25" fill="#f59f20" stroke="none" stroke-width="1"/>
<rect x="424.50" y="280.00" width="0.50" height="12.25" fill="#f6a41f" stroke="none" stroke-width="1"/>
<rect x="425.00" y="280.00" width="3.00" height="12.25" fill="#f9bb1b" stroke="none" stroke-width="1"/>
<rect x="428.00" y="280.00" width="1.00" height="12.25" fill="#808080" stroke="none" stroke-width="1"/>
<rect x="429.00" y="280.00" width="2.00" height="12.25" fill="#f59f20" stroke="none" stroke-width="1"/>
<rect x="431.00" y="280.00" width="1.00" height="12.25" fill="#808080" stroke="none" stroke-width="1"/>
<rect x="432.00" y="280.00" width="2.00" height="12.25" fill="#f9c418" stroke="none" stroke-width="1"/>
<rect x="434.00" y="280.00" width="1.00" height="12.25" fill="#808080" stroke="none" stroke-width="1"/>
<rect x="435.00" y="280.00" width="2.50" height="12.25" fill="#f9bb1b" stroke="none" stroke-width="1"/>
<rect x="437.50" y="280.00" width="0.50" height="12.25" fill="#fac51a" stroke="none" stroke-width="1"/>
<rect x="438.00" y="280.00" width="1.50" height="12.25" fill="#f8bc19" stroke="none" stroke-width="1"/>
<rect x="439.50" y="280.00" width="1.50" height="12.25" fill="#f8bc19" stroke="none" stroke-width="1"/>
<rect x="441.00" y="280.00" width="3.00" height="12.25" fill="#f7ab1e" stroke="none" stroke-width="1"/>
<rect x="444.00" y="280.00" width="3.00" height="12.25" fill="#fad414" stroke="none" stroke-width="1"/>
<rect x="447.00" y="280.00" width="0.30" height="12.25" fill="#f9c418" stroke="none" stroke-width="1"/>
<rect x="447.30" y="280.00" width="1.20" height="12.25" fill="#808080" stroke="none" stroke-width="1"/>
<rect x="448.50" y="280.00" width="2.00" height="12.25" fill="#f9c418" stroke="none" stroke-width="1"/>
<rect x="450.50" y="280.00" width="0.50" height="12.25" fill="#f9cd16" stroke="none" stroke-width="1"/>
<rect x="451.00" y="280.00" width="4.00" height="12.25" fill="#808080" stroke="none" stroke-width="1"/>
<rect x="455.00" y="280.00" width="1.00" height="12.25" fill="#f5ea26" stroke="none" stroke-width="1"/>
<rect x="456.00" y="280.00" width="4.00" height="12.25" fill="#808080" stroke="none" stroke-width="1"/>
<rect x="460.00" y="280.00" width="1.00" height="12.25" fill="#f5ea26" stroke="none" stroke-width="1"/>
<rect x="461.00" y="280.00" width="2.00" height="12.25" fill="#808080" stroke="none" stroke-width="1"/>
<rect x="463.00" y="280.00" width="3.00" height="12.25" fill="#f9c418" stroke="none" stroke-width="1"/>
<rect x="466.00" y="280.00" width="2.00" height="12.25" fill="#808080" stroke="none" stroke-width="1"/>
<rect x="468.00" y="280.00" width="3.00" height="12.25" fill="#f9c418" stroke="none" stroke-width="1"/>
<rect x="471.00" y="280.00" width="2.00" height="12.25" fill="#808080" stroke="none" stroke-width="1"/>
<rect x="473.00" y="280.00" width="1.50" height="12.25" fill="#f9bb1b" stroke="none" stroke-width="1"/>
<rect x="474.50" y="280.00" width="1.50" height="12.25" fill="#f9bb1b" stroke="none" stroke-width="1"/>
<rect x="476.00" y="280.00" width="1.50" height="12.25" fill="#fac51a" stroke="none" stroke-width="1"/>
<rect x="477.50" y="280.00" width="1.50" height="12.25" fill="#f8b21c" stroke="none" stroke-width="1"/>
<rect x="479.00" y="280.00" width="2.50" height="12.25" fill="#f6e41c" stroke="none" stroke-width="1"/>
<rect x="481.50" y="280.00" width="0.50" height="12.25" fill="#f5ea26" stroke="none" stroke-width="1"/>
<rect x="482.00" y="280.00" width="2.00" height="12.25" fill="#808080" stroke="none" stroke-width="1"/>
<rect x="484.00" y="280.00" width="2.00" height="12.25" fill="#f5ea26" stroke="none" stroke-width="1"/>
<rect x="486.00" y="280.00" width="11.00" height="12.25" fill="#808080" stroke="none" stroke-width="1"/>
<rect x="497.00" y="280.00" width="1.50" height="12.25" fill="#f6e41c" stroke="none" stroke-width="1"/>
<rect x="498.50" y="280.00" width="1.00" height="12.25" fill="#808080" stroke="none" stroke-width="1"/>
<rect x="499.50" y="280.00" width="1.50" height="12.25" fill="#f6e41c" stroke="none" stroke-width="1"/>
<rect x="501.00" y="280.00" width="7.00" height="12.25" fill="#808080" stroke="none" stroke-width="1"/>
<rect x="508.00" y="280.00" width="1.00" height="12.25" fill="#f2e21e" stroke="none" stroke-width="1"/>
<rect x="509.00" y="280.00" width="1.00" height="12.25" fill="#808080" stroke="none" stroke-width="1"/>
<rect x="510.00" y="280.00" width="2.00" height="12.25" fill="#f6e41c" stroke="none" stroke-width="1"/>
<rect x="512.00" y="280.00" width="1.00" height="12.25" fill="#808080" stroke="none" stroke-width="1"/>
<rect x="513.00" y="280.00" width="1.00" height="12.25" fill="#f3e61f" stroke="none" stroke-width="1"/>
<rect x="514.00" y="280.00" width="2.00" height="12.25" fill="#808080" stroke="none" stroke-width="1"/>
<rect x="516.00" y="280.00" width="1.00" height="12.25" fill="#f6e41c" stroke="none" stroke-width="1"/>
<rect x="517.00" y="280.00" width="2.00" height="12.25" fill="#808080" stroke="none" stroke-width="1"/>
<rect x="519.00" y="280.00" width="1.00" height="12.25" fill="#f2e21e" stroke="none" stroke-width="1"/>
<rect x="520.00" y="280.00" width="1.00" height="12.25" fill="#808080" stroke="none" stroke-width="1"/>
<rect x="521.00" y="280.00" width="1.50" height="12.25" fill="#f5ea26" stroke="none" stroke-width="1"/>
<rect x="522.50" y="280.00" width="4.50" height="12.25" fill="#808080" stroke="none" stroke-width="1"/>
<rect x="527.00" y="280.00" width="2.00" height="12.25" fill="#f3e61f" stroke="none" stroke-width="1"/>
<rect x="529.00" y="280.00" width="2.00" height="12.25" fill="#808080" stroke="none" stroke-width="1"/>
<rect x="531.00" y="280.00" width="1.00" height="12.25" fill="#f2e21e" stroke="none" stroke-width="1"/>
<rect x="532.00" y="280.00" width="1.00" height="12.25" fill="#808080" stroke="none" stroke-width="1"/>
<rect x="533.00" y="280.00" width="1.00" height="12.25" fill="#f2e21e" stroke="none" stroke-width="1"/>
<rect x="534.00" y="280.00" width="4.00" height="12.25" fill="#808080" stroke="none" stroke-width="1"/>
<rect x="538.00" y="280.00" width="2.00" height="12.25" fill="#f2e21e" stroke="none" stroke-width="1"/>
<rect x="540.00" y="280.00" width="2.50" height="12.25" fill="#f6e41c" stroke="none" stroke-width="1"/>
<rect x="542.50" y="280.00" width="0.50" height="12.25" fill="#f6e41c" stroke="none" stroke-width="1"/>
<rect x="543.00" y="280.00" width="5.00" height="12.25" fill="#808080" stroke="none" stroke-width="1"/>
<rect x="548.00" y="280.00" width="2.00" height="12.25" fill="#f2e21e" stroke="none" stroke-width="1"/>
<rect x="550.00" y="280.00" width="0.50" height="12.25" fill="#f3e61f" stroke="none" stroke-width="1"/>
<rect x="550.50" y="280.00" width="6.50" height="12.25" fill="#808080" stroke="none" stroke-width="1"/>
<rect x="557.00" y="280.00" width="1.00" height="12.25" fill="#f5ea26" stroke="none" stroke-width="1"/>
<rect x="558.00" y="280.00" width="1.00" height="12.25" fill="#808080" stroke="none" stroke-width="1"/>
<rect x="559.00" y="280.00" width="2.50" height="12.25" fill="#f2e21e" stroke="none" stroke-width="1"/>
<rect x="561.50" y="280.00" width="2.00" height="12.25" fill="#f2e21e" stroke="none" stroke-width="1"/>
<rect x="563.50" y="280.00" width="2.00" height="12.25" fill="#f5ea26" stroke="none" stroke-width="1"/>
<rect x="565.50" y="280.00" width="2.00" height="12.25" fill="#f3e61f" stroke="none" stroke-width="1"/>
<rect x="567.50" y="280.00" width="2.00" height="12.25" fill="#f3e61f" stroke="none" stroke-width="1"/>
<rect x="569.50" y="280.00" width="2.00" height="12.25" fill="#f5ea26" stroke="none" stroke-width="1"/>
<rect x="571.50" y="280.00" width="2.50" height="12.25" fill="#f6e41c" stroke="none" stroke-width="1"/>
<rect x="574.00" y="280.00" width="4.00" height="12.25" fill="#808080" stroke="none" stroke-width="1"/>
<rect x="578.00" y="280.00" width="2.50" height="12.25" fill="#f2e21e" stroke="none" stroke-width="1"/>
<rect x="580.50" y="280.00" width="1.50" height="12.25" fill="#f2e21e" stroke="none" stroke-width="1"/>
<rect x="582.00" y="280.00" width="2.50" height="12.25" fill="#f9d912" stroke="none" stroke-width="1"/>
<rect x="584.50" y="280.00" width="1.50" height="12.25" fill="#f9d912" stroke="none" stroke-width="1"/>
<rect x="586.00" y="280.00" width="1.00" height="12.25" fill="#f8d014" stroke="none" stroke-width="1"/>
<rect x="587.00" y="280.00" width="1.00" height="12.25" fill="#808080" stroke="none" stroke-width="1"/>
<rect x="588.00" y="280.00" width="1.50" height="12.25" fill="#f2e21e" stroke="none" stroke-width="1"/>
<rect x="589.50" y="280.00" width="2.00" height="12.25" fill="#f2e21e" stroke="none" stroke-width="1"/>
<rect x="591.50" y="280.00" width="2.00" height="12.25" fill="#f3e61f" stroke="none" stroke-width="1"/>
<rect x="593.50" y="280.00" width="0.50" height="12.25" fill="#f2e21e" stroke="none" stroke-width="1"/>
<rect x="594.00" y="280.00" width="2.50" height="12.25" fill="#f8d014" stroke="none" stroke-width="1"/>
<rect x="596.50" y="280.00" width="0.50" height="12.25" fill="#f8d014" stroke="none" stroke-width="1"/>
<rect x="597.00" y="280.00" width="1.00" height="12.25" fill="#808080" stroke="none" stroke-width="1"/>
<rect x="598.00" y="280.00" width="1.00" height="12.25" fill="#f5ea26" stroke="none" stroke-width="1"/>
<rect x="599.00" y="280.00" width="1.00" height="12.25" fill="#808080" stroke="none" stroke-width="1"/>
<rect x="600.00" y="280.00" width="1.50" height="12.25" fill="#ef5a22" stroke="none" stroke-width="1"/>
<rect x="601.50" y="280.00" width="1.50" height="12.25" fill="#ef5a22" stroke="none" stroke-width="1"/>
<rect x="603.00" y="280.00" width="2.00" height="12.25" fill="#ed4c21" stroke="none" stroke-width="1"/>
<rect x="605.00" y="280.00" width="6.00" height="12.25" fill="#e6291f" stroke="none" stroke-width="1"/>
<rect x="611.00" y="280.00" width="2.50" height="12.25" fill="#ed5222" stroke="none" stroke-width="1"/>
<rect x="613.50" y="280.00" width="1.50" height="12.25" fill="#ed5222" stroke="none" stroke-width="1"/>
<rect x="615.00" y="280.00" width="1.50" height="12.25" fill="#f58c22" stroke="none" stroke-width="1"/>
<rect x="616.50" y="280.00" width="2.00" height="12.25" fill="#f48522" stroke="none" stroke-width="1"/>
<rect x="618.50" y="280.00" width="3.00" height="12.25" fill="#f4821f" stroke="none" stroke-width="1"/>
<rect x="621.50" y="280.00" width="2.00" height="12.25" fill="#f48522" stroke="none" stroke-width="1"/>
<rect x="623.50" y="280.00" width="1.50" height="12.25" fill="#f48522" stroke="none" stroke-width="1"/>
<rect x="625.00" y="280.00" width="2.00" height="12.25" fill="#f59822" stroke="none" stroke-width="1"/>
<rect x="627.00" y="280.00" width="1.00" height="12.25" fill="#f59822" stroke="none" stroke-width="1"/>
<rect x="628.00" y="280.00" width="2.00" height="12.25" fill="#f27a22" stroke="none" stroke-width="1"/>
<rect x="630.00" y="280.00" width="1.50" height="12.25" fill="#f4821f" stroke="none" stroke-width="1"/>
<rect x="631.50" y="280.00" width="1.50" height="12.25" fill="#f48522" stroke="none" stroke-width="1"/>
<rect x="633.00" y="280.00" width="3.00" height="12.25" fill="#ef6c22" stroke="none" stroke-width="1"/>
<rect x="636.00" y="280.00" width="3.00" height="12.25" fill="#ee6422" stroke="none" stroke-width="1"/>
<rect x="639.00" y="280.00" width="3.00" height="12.25" fill="#f17c22" stroke="none" stroke-width="1"/>
<rect x="484.00" y="280.00" width="2.00" height="12.25" fill="#808080" stroke="none" stroke-width="1"/>
<rect x="580.60" y="280.00" width="1.40" height="12.25" fill="#808080" stroke="none" stroke-width="1"/>
<rect x="389.00" y="292.20" width="2.00" height="12.25" fill="#e8301f" stroke="none" stroke-width="1"/>
<rect x="391.00" y="292.20" width="3.00" height="12.25" fill="#f7ab1e" stroke="none" stroke-width="1"/>
<rect x="394.00" y="292.20" width="2.00" height="12.25" fill="#f7ab1e" stroke="none" stroke-width="1"/>
<rect x="396.00" y="292.20" width="2.00" height="12.25" fill="#f8b21c" stroke="none" stroke-width="1"/>
<rect x="398.00" y="292.20" width="1.50" height="12.25" fill="#f9bb1b" stroke="none" stroke-width="1"/>
<rect x="399.50" y="292.20" width="2.50" height="12.25" fill="#f9bb1b" stroke="none" stroke-width="1"/>
<rect x="402.00" y="292.20" width="3.00" height="12.25" fill="#f7ab1e" stroke="none" stroke-width="1"/>
<rect x="405.00" y="292.20" width="1.50" height="12.25" fill="#f49c20" stroke="none" stroke-width="1"/>
<rect x="406.50" y="292.20" width="1.50" height="12.25" fill="#f49c20" stroke="none" stroke-width="1"/>
<rect x="408.00" y="292.20" width="2.00" height="12.25" fill="#f59f20" stroke="none" stroke-width="1"/>
<rect x="410.00" y="292.20" width="3.00" height="12.25" fill="#f6a41f" stroke="none" stroke-width="1"/>
<rect x="413.00" y="292.20" width="2.50" height="12.25" fill="#f49c20" stroke="none" stroke-width="1"/>
<rect x="415.50" y="292.20" width="2.00" height="12.25" fill="#f49c20" stroke="none" stroke-width="1"/>
<rect x="417.50" y="292.20" width="2.50" height="12.25" fill="#f39520" stroke="none" stroke-width="1"/>
<rect x="420.00" y="292.20" width="3.00" height="12.25" fill="#f6a41f" stroke="none" stroke-width="1"/>
<rect x="423.00" y="292.20" width="3.00" height="12.25" fill="#f59f20" stroke="none" stroke-width="1"/>
<rect x="426.00" y="292.20" width="1.50" height="12.25" fill="#f9bb1b" stroke="none" stroke-width="1"/>
<rect x="427.50" y="292.20" width="0.50" height="12.25" fill="#f9bb1b" stroke="none" stroke-width="1"/>
<rect x="428.00" y="292.20" width="2.50" height="12.25" fill="#f59f20" stroke="none" stroke-width="1"/>
<rect x="430.50" y="292.20" width="1.50" height="12.25" fill="#f8b21c" stroke="none" stroke-width="1"/>
<rect x="432.00" y="292.20" width="1.50" height="12.25" fill="#f8bc19" stroke="none" stroke-width="1"/>
<rect x="433.50" y="292.20" width="2.50" height="12.25" fill="#f9cd16" stroke="none" stroke-width="1"/>
<rect x="436.00" y="292.20" width="2.00" height="12.25" fill="#fac51a" stroke="none" stroke-width="1"/>
<rect x="438.00" y="292.20" width="1.50" height="12.25" fill="#f8b21c" stroke="none" stroke-width="1"/>
<rect x="439.50" y="292.20" width="1.50" height="12.25" fill="#f9bb1b" stroke="none" stroke-width="1"/>
<rect x="441.00" y="292.20" width="1.50" height="12.25" fill="#fac51a" stroke="none" stroke-width="1"/>
<rect x="442.50" y="292.20" width="1.50" height="12.25" fill="#f7ab1e" stroke="none" stroke-width="1"/>
<rect x="444.00" y="292.20" width="2.00" height="12.25" fill="#f7ab1e" stroke="none" stroke-width="1"/>
<rect x="446.00" y="292.20" width="1.50" height="12.25" fill="#f8bc19" stroke="none" stroke-width="1"/>
<rect x="447.50" y="292.20" width="2.00" height="12.25" fill="#f9c418" stroke="none" stroke-width="1"/>
<rect x="449.50" y="292.20" width="0.50" height="12.25" fill="#fad414" stroke="none" stroke-width="1"/>
<rect x="450.00" y="292.20" width="3.00" height="12.25" fill="#f9bb1b" stroke="none" stroke-width="1"/>
<rect x="453.00" y="292.20" width="2.50" height="12.25" fill="#f9bb1b" stroke="none" stroke-width="1"/>
<rect x="455.50" y="292.20" width="1.50" height="12.25" fill="#f7ab1e" stroke="none" stroke-width="1"/>
<rect x="457.00" y="292.20" width="1.50" height="12.25" fill="#fac51a" stroke="none" stroke-width="1"/>
<rect x="458.50" y="292.20" width="1.50" height="12.25" fill="#f7ab1e" stroke="none" stroke-width="1"/>
<rect x="460.00" y="292.20" width="2.50" height="12.25" fill="#fad414" stroke="none" stroke-width="1"/>
<rect x="462.50" y="292.20" width="2.00" height="12.25" fill="#fad414" stroke="none" stroke-width="1"/>
<rect x="464.50" y="292.20" width="2.00" height="12.25" fill="#f9cd16" stroke="none" stroke-width="1"/>
<rect x="466.50" y="292.20" width="2.50" height="12.25" fill="#f9c418" stroke="none" stroke-width="1"/>
<rect x="469.00" y="292.20" width="2.00" height="12.25" fill="#f8bc19" stroke="none" stroke-width="1"/>
<rect x="471.00" y="292.20" width="1.00" height="12.25" fill="#fad414" stroke="none" stroke-width="1"/>
<rect x="472.00" y="292.20" width="1.50" height="12.25" fill="#f9bb1b" stroke="none" stroke-width="1"/>
<rect x="473.50" y="292.20" width="2.00" height="12.25" fill="#f9bb1b" stroke="none" stroke-width="1"/>
<rect x="475.50" y="292.20" width="2.00" height="12.25" fill="#f8b21c" stroke="none" stroke-width="1"/>
<rect x="477.50" y="292.20" width="1.50" height="12.25" fill="#f7ab1e" stroke="none" stroke-width="1"/>
<rect x="479.00" y="292.20" width="2.50" height="12.25" fill="#f7ab1e" stroke="none" stroke-width="1"/>
<rect x="481.50" y="292.20" width="0.50" height="12.25" fill="#f9bb1b" stroke="none" stroke-width="1"/>
<rect x="482.00" y="292.20" width="2.50" height="12.25" fill="#f6e41c" stroke="none" stroke-width="1"/>
<rect x="484.50" y="292.20" width="3.00" height="12.25" fill="#f3e61f" stroke="none" stroke-width="1"/>
<rect x="487.50" y="292.20" width="2.00" height="12.25" fill="#f5ea26" stroke="none" stroke-width="1"/>
<rect x="489.50" y="292.20" width="2.50" height="12.25" fill="#f3e61f" stroke="none" stroke-width="1"/>
<rect x="492.00" y="292.20" width="2.00" height="12.25" fill="#f2e21e" stroke="none" stroke-width="1"/>
<rect x="494.00" y="292.20" width="2.00" height="12.25" fill="#f5ea26" stroke="none" stroke-width="1"/>
<rect x="496.00" y="292.20" width="2.50" height="12.25" fill="#f2e21e" stroke="none" stroke-width="1"/>
<rect x="498.50" y="292.20" width="2.50" height="12.25" fill="#f3e61f" stroke="none" stroke-width="1"/>
<rect x="501.00" y="292.20" width="2.00" height="12.25" fill="#f2e21e" stroke="none" stroke-width="1"/>
<rect x="503.00" y="292.20" width="2.00" height="12.25" fill="#f5ea26" stroke="none" stroke-width="1"/>
<rect x="505.00" y="292.20" width="2.50" height="12.25" fill="#f5ea26" stroke="none" stroke-width="1"/>
<rect x="507.50" y="292.20" width="1.50" height="12.25" fill="#f6e41c" stroke="none" stroke-width="1"/>
<rect x="509.00" y="292.20" width="1.50" height="12.25" fill="#f6e41c" stroke="none" stroke-width="1"/>
<rect x="510.50" y="292.20" width="1.50" height="12.25" fill="#f3e61f" stroke="none" stroke-width="1"/>
<rect x="512.00" y="292.20" width="1.50" height="12.25" fill="#f2e21e" stroke="none" stroke-width="1"/>
<rect x="513.50" y="292.20" width="2.50" height="12.25" fill="#f6e41c" stroke="none" stroke-width="1"/>
<rect x="516.00" y="292.20" width="1.50" height="12.25" fill="#f5ea26" stroke="none" stroke-width="1"/>
<rect x="517.50" y="292.20" width="2.50" height="12.25" fill="#f5ea26" stroke="none" stroke-width="1"/>
<rect x="520.00" y="292.20" width="2.00" height="12.25" fill="#f5ea26" stroke="none" stroke-width="1"/>
<rect x="522.00" y="292.20" width="2.50" height="12.25" fill="#f3e61f" stroke="none" stroke-width="1"/>
<rect x="524.50" y="292.20" width="2.00" height="12.25" fill="#f5ea26" stroke="none" stroke-width="1"/>
<rect x="526.50" y="292.20" width="1.50" height="12.25" fill="#f6e41c" stroke="none" stroke-width="1"/>
<rect x="528.00" y="292.20" width="3.00" height="12.25" fill="#f3e61f" stroke="none" stroke-width="1"/>
<rect x="531.00" y="292.20" width="3.00" height="12.25" fill="#f3e61f" stroke="none" stroke-width="1"/>
<rect x="534.00" y="292.20" width="2.00" height="12.25" fill="#f3e61f" stroke="none" stroke-width="1"/>
<rect x="536.00" y="292.20" width="2.50" height="12.25" fill="#f2e21e" stroke="none" stroke-width="1"/>
<rect x="538.50" y="292.20" width="3.00" height="12.25" fill="#f3e61f" stroke="none" stroke-width="1"/>
<rect x="541.50" y="292.20" width="2.50" height="12.25" fill="#f5ea26" stroke="none" stroke-width="1"/>
<rect x="544.00" y="292.20" width="2.00" height="12.25" fill="#f3e61f" stroke="none" stroke-width="1"/>
<rect x="546.00" y="292.20" width="3.00" height="12.25" fill="#f5ea26" stroke="none" stroke-width="1"/>
<rect x="549.00" y="292.20" width="1.00" height="12.25" fill="#808080" stroke="none" stroke-width="1"/>
<rect x="550.00" y="292.20" width="3.00" height="12.25" fill="#f2e21e" stroke="none" stroke-width="1"/>
<rect x="553.00" y="292.20" width="2.00" height="12.25" fill="#f2e21e" stroke="none" stroke-width="1"/>
<rect x="555.00" y="292.20" width="3.00" height="12.25" fill="#f5ea26" stroke="none" stroke-width="1"/>
<rect x="558.00" y="292.20" width="3.00" height="12.25" fill="#f2e21e" stroke="none" stroke-width="1"/>
<rect x="561.00" y="292.20" width="1.50" height="12.25" fill="#f5ea26" stroke="none" stroke-width="1"/>
<rect x="562.50" y="292.20" width="1.50" height="12.25" fill="#f6e41c" stroke="none" stroke-width="1"/>
<rect x="564.00" y="292.20" width="2.00" height="12.25" fill="#f2e21e" stroke="none" stroke-width="1"/>
<rect x="566.00" y="292.20" width="2.00" height="12.25" fill="#f3e61f" stroke="none" stroke-width="1"/>
<rect x="568.00" y="292.20" width="2.00" height="12.25" fill="#f6e41c" stroke="none" stroke-width="1"/>
<rect x="570.00" y="292.20" width="3.00" height="12.25" fill="#f2e21e" stroke="none" stroke-width="1"/>
<rect x="573.00" y="292.20" width="1.50" height="12.25" fill="#f3e61f" stroke="none" stroke-width="1"/>
<rect x="574.50" y="292.20" width="1.50" height="12.25" fill="#f5ea26" stroke="none" stroke-width="1"/>
<rect x="576.00" y="292.20" width="2.00" height="12.25" fill="#f5ea26" stroke="none" stroke-width="1"/>
<rect x="578.00" y="292.20" width="1.50" height="12.25" fill="#f2e21e" stroke="none" stroke-width="1"/>
<rect x="579.50" y="292.20" width="0.50" height="12.25" fill="#f3e61f" stroke="none" stroke-width="1"/>
<rect x="580.00" y="292.20" width="2.50" height="12.25" fill="#f8bc19" stroke="none" stroke-width="1"/>
<rect x="582.50" y="292.20" width="2.50" height="12.25" fill="#f9c418" stroke="none" stroke-width="1"/>
<rect x="585.00" y="292.20" width="2.00" height="12.25" fill="#f6e41c" stroke="none" stroke-width="1"/>
<rect x="587.00" y="292.20" width="2.50" height="12.25" fill="#f5ea26" stroke="none" stroke-width="1"/>
<rect x="589.50" y="292.20" width="2.00" height="12.25" fill="#f6e41c" stroke="none" stroke-width="1"/>
<rect x="591.50" y="292.20" width="3.00" height="12.25" fill="#f3e61f" stroke="none" stroke-width="1"/>
<rect x="594.50" y="292.20" width="0.50" height="12.25" fill="#f6e41c" stroke="none" stroke-width="1"/>
<rect x="595.00" y="292.20" width="3.00" height="12.25" fill="#f9d912" stroke="none" stroke-width="1"/>
<rect x="598.00" y="292.20" width="2.00" height="12.25" fill="#f8c816" stroke="none" stroke-width="1"/>
<rect x="600.00" y="292.20" width="1.00" height="12.25" fill="#f8d014" stroke="none" stroke-width="1"/>
<rect x="601.00" y="292.20" width="3.00" height="12.25" fill="#ed4c21" stroke="none" stroke-width="1"/>
<rect x="604.00" y="292.20" width="1.00" height="12.25" fill="#ee5222" stroke="none" stroke-width="1"/>
<rect x="605.00" y="292.20" width="6.00" height="12.25" fill="#e5231f" stroke="none" stroke-width="1"/>
<rect x="611.00" y="292.20" width="2.00" height="12.25" fill="#fac51a" stroke="none" stroke-width="1"/>
<rect x="613.00" y="292.20" width="1.50" height="12.25" fill="#f4821f" stroke="none" stroke-width="1"/>
<rect x="614.50" y="292.20" width="2.00" height="12.25" fill="#f48522" stroke="none" stroke-width="1"/>
<rect x="616.50" y="292.20" width="2.00" height="12.25" fill="#f4821f" stroke="none" stroke-width="1"/>
<rect x="618.50" y="292.20" width="3.00" height="12.25" fill="#f27a22" stroke="none" stroke-width="1"/>
<rect x="621.50" y="292.20" width="3.00" height="12.25" fill="#f48522" stroke="none" stroke-width="1"/>
<rect x="624.50" y="292.20" width="0.50" height="12.25" fill="#f4821f" stroke="none" stroke-width="1"/>
<rect x="625.00" y="292.20" width="2.00" height="12.25" fill="#f59822" stroke="none" stroke-width="1"/>
<rect x="627.00" y="292.20" width="1.00" height="12.25" fill="#f48e22" stroke="none" stroke-width="1"/>
<rect x="628.00" y="292.20" width="2.00" height="12.25" fill="#f17c22" stroke="none" stroke-width="1"/>
<rect x="630.00" y="292.20" width="3.00" height="12.25" fill="#ef6c22" stroke="none" stroke-width="1"/>
<rect x="633.00" y="292.20" width="2.00" height="12.25" fill="#ee6422" stroke="none" stroke-width="1"/>
<rect x="635.00" y="292.20" width="2.50" height="12.25" fill="#ee6422" stroke="none" stroke-width="1"/>
<rect x="637.50" y="292.20" width="2.00" height="12.25" fill="#ef6c22" stroke="none" stroke-width="1"/>
<rect x="639.50" y="292.20" width="2.00" height="12.25" fill="#f17c22" stroke="none" stroke-width="1"/>
<rect x="641.50" y="292.20" width="0.50" height="12.25" fill="#ee6422" stroke="none" stroke-width="1"/>
<rect x="539.00" y="292.20" width="2.00" height="12.25" fill="#fad414" stroke="none" stroke-width="1"/>
<rect x="541.00" y="292.20" width="2.00" height="12.25" fill="#f9cd16" stroke="none" stroke-width="1"/>
<rect x="389.00" y="304.40" width="2.00" height="12.25" fill="#e8301f" stroke="none" stroke-width="1"/>
<rect x="391.00" y="304.40" width="3.00" height="12.25" fill="#f6a41f" stroke="none" stroke-width="1"/>
<rect x="394.00" y="304.40" width="2.00" height="12.25" fill="#f7ab1e" stroke="none" stroke-width="1"/>
<rect x="396.00" y="304.40" width="2.00" height="12.25" fill="#f7ab1e" stroke="none" stroke-width="1"/>
<rect x="398.00" y="304.40" width="2.00" height="12.25" fill="#f8b21c" stroke="none" stroke-width="1"/>
<rect x="400.00" y="304.40" width="2.00" height="12.25" fill="#f7ab1e" stroke="none" stroke-width="1"/>
<rect x="402.00" y="304.40" width="2.00" height="12.25" fill="#f7ab1e" stroke="none" stroke-width="1"/>
<rect x="404.00" y="304.40" width="1.00" height="12.25" fill="#f9bb1b" stroke="none" stroke-width="1"/>
<rect x="405.00" y="304.40" width="3.00" height="12.25" fill="#f49c20" stroke="none" stroke-width="1"/>
<rect x="408.00" y="304.40" width="2.00" height="12.25" fill="#f7ab1e" stroke="none" stroke-width="1"/>
<rect x="410.00" y="304.40" width="3.00" height="12.25" fill="#f39520" stroke="none" stroke-width="1"/>
<rect x="413.00" y="304.40" width="3.00" height="12.25" fill="#f39520" stroke="none" stroke-width="1"/>
<rect x="416.00" y="304.40" width="3.00" height="12.25" fill="#f59f20" stroke="none" stroke-width="1"/>
<rect x="419.00" y="304.40" width="1.00" height="12.25" fill="#f49c20" stroke="none" stroke-width="1"/>
<rect x="420.00" y="304.40" width="2.50" height="12.25" fill="#f49c20" stroke="none" stroke-width="1"/>
<rect x="422.50" y="304.40" width="2.50" height="12.25" fill="#f9bb1b" stroke="none" stroke-width="1"/>
<rect x="425.00" y="304.40" width="1.50" height="12.25" fill="#f9bb1b" stroke="none" stroke-width="1"/>
<rect x="426.50" y="304.40" width="1.50" height="12.25" fill="#f59f20" stroke="none" stroke-width="1"/>
<rect x="428.00" y="304.40" width="2.50" height="12.25" fill="#f9bb1b" stroke="none" stroke-width="1"/>
<rect x="430.50" y="304.40" width="1.50" height="12.25" fill="#f9bb1b" stroke="none" stroke-width="1"/>
<rect x="432.00" y="304.40" width="2.00" height="12.25" fill="#f8bc19" stroke="none" stroke-width="1"/>
<rect x="434.00" y="304.40" width="1.50" height="12.25" fill="#f8bc19" stroke="none" stroke-width="1"/>
<rect x="435.50" y="304.40" width="0.50" height="12.25" fill="#f9cd16" stroke="none" stroke-width="1"/>
<rect x="436.00" y="304.40" width="2.50" height="12.25" fill="#f9bb1b" stroke="none" stroke-width="1"/>
<rect x="438.50" y="304.40" width="2.00" height="12.25" fill="#f8b21c" stroke="none" stroke-width="1"/>
<rect x="440.50" y="304.40" width="1.50" height="12.25" fill="#f7ab1e" stroke="none" stroke-width="1"/>
<rect x="442.00" y="304.40" width="3.00" height="12.25" fill="#fac51a" stroke="none" stroke-width="1"/>
<rect x="445.00" y="304.40" width="1.00" height="12.25" fill="#fac51a" stroke="none" stroke-width="1"/>
<rect x="446.00" y="304.40" width="2.50" height="12.25" fill="#f8bc19" stroke="none" stroke-width="1"/>
<rect x="448.50" y="304.40" width="1.50" height="12.25" fill="#f8bc19" stroke="none" stroke-width="1"/>
<rect x="450.00" y="304.40" width="3.00" height="12.25" fill="#f9bb1b" stroke="none" stroke-width="1"/>
<rect x="453.00" y="304.40" width="3.00" height="12.25" fill="#f8b21c" stroke="none" stroke-width="1"/>
<rect x="456.00" y="304.40" width="2.00" height="12.25" fill="#f9bb1b" stroke="none" stroke-width="1"/>
<rect x="458.00" y="304.40" width="2.00" height="12.25" fill="#f8b21c" stroke="none" stroke-width="1"/>
<rect x="460.00" y="304.40" width="2.00" height="12.25" fill="#f8bc19" stroke="none" stroke-width="1"/>
<rect x="462.00" y="304.40" width="3.00" height="12.25" fill="#fad414" stroke="none" stroke-width="1"/>
<rect x="465.00" y="304.40" width="3.00" height="12.25" fill="#f9cd16" stroke="none" stroke-width="1"/>
<rect x="468.00" y="304.40" width="2.50" height="12.25" fill="#f8bc19" stroke="none" stroke-width="1"/>
<rect x="470.50" y="304.40" width="1.50" height="12.25" fill="#fad414" stroke="none" stroke-width="1"/>
<rect x="472.00" y="304.40" width="2.00" height="12.25" fill="#f9bb1b" stroke="none" stroke-width="1"/>
<rect x="474.00" y="304.40" width="2.50" height="12.25" fill="#fac51a" stroke="none" stroke-width="1"/>
<rect x="476.50" y="304.40" width="3.00" height="12.25" fill="#f9bb1b" stroke="none" stroke-width="1"/>
<rect x="479.50" y="304.40" width="2.50" height="12.25" fill="#f7ab1e" stroke="none" stroke-width="1"/>
<rect x="482.00" y="304.40" width="2.00" height="12.25" fill="#f3e61f" stroke="none" stroke-width="1"/>
<rect x="484.00" y="304.40" width="2.50" height="12.25" fill="#f2e21e" stroke="none" stroke-width="1"/>
<rect x="486.50" y="304.40" width="2.50" height="12.25" fill="#f5ea26" stroke="none" stroke-width="1"/>
<rect x="489.00" y="304.40" width="2.00" height="12.25" fill="#f3e61f" stroke="none" stroke-width="1"/>
<rect x="491.00" y="304.40" width="1.50" height="12.25" fill="#f6e41c" stroke="none" stroke-width="1"/>
<rect x="492.50" y="304.40" width="1.50" height="12.25" fill="#f2e21e" stroke="none" stroke-width="1"/>
<rect x="494.00" y="304.40" width="1.50" height="12.25" fill="#f5ea26" stroke="none" stroke-width="1"/>
<rect x="495.50" y="304.40" width="2.50" height="12.25" fill="#f3e61f" stroke="none" stroke-width="1"/>
<rect x="498.00" y="304.40" width="2.50" height="12.25" fill="#f5ea26" stroke="none" stroke-width="1"/>
<rect x="500.50" y="304.40" width="2.50" height="12.25" fill="#f3e61f" stroke="none" stroke-width="1"/>
<rect x="503.00" y="304.40" width="3.00" height="12.25" fill="#f3e61f" stroke="none" stroke-width="1"/>
<rect x="506.00" y="304.40" width="3.00" height="12.25" fill="#f6e41c" stroke="none" stroke-width="1"/>
<rect x="509.00" y="304.40" width="1.50" height="12.25" fill="#f6e41c" stroke="none" stroke-width="1"/>
<rect x="510.50" y="304.40" width="3.00" height="12.25" fill="#f2e21e" stroke="none" stroke-width="1"/>
<rect x="513.50" y="304.40" width="2.50" height="12.25" fill="#f6e41c" stroke="none" stroke-width="1"/>
<rect x="516.00" y="304.40" width="2.50" height="12.25" fill="#f5ea26" stroke="none" stroke-width="1"/>
<rect x="518.50" y="304.40" width="2.00" height="12.25" fill="#f6e41c" stroke="none" stroke-width="1"/>
<rect x="520.50" y="304.40" width="2.00" height="12.25" fill="#f6e41c" stroke="none" stroke-width="1"/>
<rect x="522.50" y="304.40" width="2.00" height="12.25" fill="#f2e21e" stroke="none" stroke-width="1"/>
<rect x="524.50" y="304.40" width="2.00" height="12.25" fill="#f3e61f" stroke="none" stroke-width="1"/>
<rect x="526.50" y="304.40" width="2.50" height="12.25" fill="#f6e41c" stroke="none" stroke-width="1"/>
<rect x="529.00" y="304.40" width="2.00" height="12.25" fill="#f6e41c" stroke="none" stroke-width="1"/>
<rect x="531.00" y="304.40" width="2.50" height="12.25" fill="#f2e21e" stroke="none" stroke-width="1"/>
<rect x="533.50" y="304.40" width="1.50" height="12.25" fill="#f6e41c" stroke="none" stroke-width="1"/>
<rect x="535.00" y="304.40" width="1.50" height="12.25" fill="#f2e21e" stroke="none" stroke-width="1"/>
<rect x="536.50" y="304.40" width="1.50" height="12.25" fill="#f6e41c" stroke="none" stroke-width="1"/>
<rect x="538.00" y="304.40" width="2.50" height="12.25" fill="#f3e61f" stroke="none" stroke-width="1"/>
<rect x="540.50" y="304.40" width="3.00" height="12.25" fill="#f6e41c" stroke="none" stroke-width="1"/>
<rect x="543.50" y="304.40" width="2.50" height="12.25" fill="#f6e41c" stroke="none" stroke-width="1"/>
<rect x="546.00" y="304.40" width="2.50" height="12.25" fill="#f2e21e" stroke="none" stroke-width="1"/>
<rect x="548.50" y="304.40" width="0.50" height="12.25" fill="#f3e61f" stroke="none" stroke-width="1"/>
<rect x="549.00" y="304.40" width="1.00" height="12.25" fill="#808080" stroke="none" stroke-width="1"/>
<rect x="550.00" y="304.40" width="1.50" height="12.25" fill="#f2e21e" stroke="none" stroke-width="1"/>
<rect x="551.50" y="304.40" width="2.50" height="12.25" fill="#f2e21e" stroke="none" stroke-width="1"/>
<rect x="554.00" y="304.40" width="2.50" height="12.25" fill="#f2e21e" stroke="none" stroke-width="1"/>
<rect x="556.50" y="304.40" width="2.00" height="12.25" fill="#f6e41c" stroke="none" stroke-width="1"/>
<rect x="558.50" y="304.40" width="3.00" height="12.25" fill="#f2e21e" stroke="none" stroke-width="1"/>
<rect x="561.50" y="304.40" width="2.50" height="12.25" fill="#f3e61f" stroke="none" stroke-width="1"/>
<rect x="564.00" y="304.40" width="2.00" height="12.25" fill="#f3e61f" stroke="none" stroke-width="1"/>
<rect x="566.00" y="304.40" width="1.50" height="12.25" fill="#f6e41c" stroke="none" stroke-width="1"/>
<rect x="567.50" y="304.40" width="2.50" height="12.25" fill="#f3e61f" stroke="none" stroke-width="1"/>
<rect x="570.00" y="304.40" width="2.50" height="12.25" fill="#f3e61f" stroke="none" stroke-width="1"/>
<rect x="572.50" y="304.40" width="3.00" height="12.25" fill="#f6e41c" stroke="none" stroke-width="1"/>
<rect x="575.50" y="304.40" width="3.00" height="12.25" fill="#f6e41c" stroke="none" stroke-width="1"/>
<rect x="578.50" y="304.40" width="1.50" height="12.25" fill="#f5ea26" stroke="none" stroke-width="1"/>
<rect x="580.00" y="304.40" width="2.50" height="12.25" fill="#f8bc19" stroke="none" stroke-width="1"/>
<rect x="582.50" y="304.40" width="2.50" height="12.25" fill="#f8bc19" stroke="none" stroke-width="1"/>
<rect x="585.00" y="304.40" width="3.00" height="12.25" fill="#f3e61f" stroke="none" stroke-width="1"/>
<rect x="588.00" y="304.40" width="2.00" height="12.25" fill="#f5ea26" stroke="none" stroke-width="1"/>
<rect x="590.00" y="304.40" width="2.50" height="12.25" fill="#f5ea26" stroke="none" stroke-width="1"/>
<rect x="592.50" y="304.40" width="2.50" height="12.25" fill="#f5ea26" stroke="none" stroke-width="1"/>
<rect x="595.00" y="304.40" width="2.00" height="12.25" fill="#f8c816" stroke="none" stroke-width="1"/>
<rect x="597.00" y="304.40" width="1.50" height="12.25" fill="#f8c816" stroke="none" stroke-width="1"/>
<rect x="598.50" y="304.40" width="2.50" height="12.25" fill="#f8d014" stroke="none" stroke-width="1"/>
<rect x="601.00" y="304.40" width="2.00" height="12.25" fill="#ed4c21" stroke="none" stroke-width="1"/>
<rect x="603.00" y="304.40" width="2.00" height="12.25" fill="#ed4c21" stroke="none" stroke-width="1"/>
<rect x="605.00" y="304.40" width="6.00" height="12.25" fill="#e5231f" stroke="none" stroke-width="1"/>
<rect x="611.00" y="304.40" width="2.00" height="12.25" fill="#f8b21c" stroke="none" stroke-width="1"/>
<rect x="613.00" y="304.40" width="2.50" height="12.25" fill="#f27a22" stroke="none" stroke-width="1"/>
<rect x="615.50" y="304.40" width="2.50" height="12.25" fill="#f4821f" stroke="none" stroke-width="1"/>
<rect x="618.00" y="304.40" width="1.50" height="12.25" fill="#f27a22" stroke="none" stroke-width="1"/>
<rect x="619.50" y="304.40" width="2.00" height="12.25" fill="#f48522" stroke="none" stroke-width="1"/>
<rect x="621.50" y="304.40" width="2.00" height="12.25" fill="#f58c22" stroke="none" stroke-width="1"/>
<rect x="623.50" y="304.40" width="1.50" height="12.25" fill="#f58c22" stroke="none" stroke-width="1"/>
<rect x="625.00" y="304.40" width="2.50" height="12.25" fill="#f38622" stroke="none" stroke-width="1"/>
<rect x="627.50" y="304.40" width="0.50" height="12.25" fill="#f38622" stroke="none" stroke-width="1"/>
<rect x="628.00" y="304.40" width="2.50" height="12.25" fill="#ee6422" stroke="none" stroke-width="1"/>
<rect x="630.50" y="304.40" width="3.00" height="12.25" fill="#ee6422" stroke="none" stroke-width="1"/>
<rect x="633.50" y="304.40" width="2.50" height="12.25" fill="#f17c22" stroke="none" stroke-width="1"/>
<rect x="636.00" y="304.40" width="2.00" height="12.25" fill="#f07522" stroke="none" stroke-width="1"/>
<rect x="638.00" y="304.40" width="2.50" height="12.25" fill="#ee6422" stroke="none" stroke-width="1"/>
<rect x="640.50" y="304.40" width="1.50" height="12.25" fill="#f07522" stroke="none" stroke-width="1"/>
<rect x="432.00" y="304.40" width="1.50" height="12.25" fill="#f3e61f" stroke="none" stroke-width="1"/>
<rect x="433.50" y="304.40" width="1.50" height="12.25" fill="#f2e21e" stroke="none" stroke-width="1"/>
<rect x="435.00" y="304.40" width="1.00" height="12.25" fill="#f6e41c" stroke="none" stroke-width="1"/>
<rect x="499.00" y="304.40" width="1.00" height="12.25" fill="#808080" stroke="none" stroke-width="1"/>
<rect x="513.00" y="304.40" width="1.00" height="12.25" fill="#808080" stroke="none" stroke-width="1"/>
<rect x="528.00" y="304.40" width="1.00" height="12.25" fill="#808080" stroke="none" stroke-width="1"/>
<rect x="531.00" y="304.40" width="1.00" height="12.25" fill="#808080" stroke="none" stroke-width="1"/>
<rect x="539.00" y="304.40" width="3.00" height="12.25" fill="#f9c418" stroke="none" stroke-width="1"/>
<rect x="542.00" y="304.40" width="1.00" height="12.25" fill="#fad414" stroke="none" stroke-width="1"/>
<rect x="550.00" y="304.40" width="3.00" height="12.25" fill="#f9c418" stroke="none" stroke-width="1"/>
<rect x="553.00" y="304.40" width="2.50" height="12.25" fill="#f8bc19" stroke="none" stroke-width="1"/>
<rect x="555.50" y="304.40" width="3.00" height="12.25" fill="#fad414" stroke="none" stroke-width="1"/>
<rect x="558.50" y="304.40" width="0.50" height="12.25" fill="#f8bc19" stroke="none" stroke-width="1"/>
<rect x="598.00" y="304.40" width="1.00" height="12.25" fill="#808080" stroke="none" stroke-width="1"/>
<rect x="389.00" y="316.60" width="2.00" height="12.25" fill="#e8301f" stroke="none" stroke-width="1"/>
<rect x="391.00" y="316.60" width="2.50" height="12.25" fill="#f8b21c" stroke="none" stroke-width="1"/>
<rect x="393.50" y="316.60" width="2.50" height="12.25" fill="#f8b21c" stroke="none" stroke-width="1"/>
<rect x="396.00" y="316.60" width="2.00" height="12.25" fill="#f9bb1b" stroke="none" stroke-width="1"/>
<rect x="398.00" y="316.60" width="3.00" height="12.25" fill="#f59f20" stroke="none" stroke-width="1"/>
<rect x="401.00" y="316.60" width="2.00" height="12.25" fill="#f9bb1b" stroke="none" stroke-width="1"/>
<rect x="403.00" y="316.60" width="2.00" height="12.25" fill="#f8b21c" stroke="none" stroke-width="1"/>
<rect x="405.00" y="316.60" width="2.00" height="12.25" fill="#f8b21c" stroke="none" stroke-width="1"/>
<rect x="407.00" y="316.60" width="3.00" height="12.25" fill="#f9bb1b" stroke="none" stroke-width="1"/>
<rect x="410.00" y="316.60" width="2.50" height="12.25" fill="#f39520" stroke="none" stroke-width="1"/>
<rect x="412.50" y="316.60" width="2.00" height="12.25" fill="#f49c20" stroke="none" stroke-width="1"/>
<rect x="414.50" y="316.60" width="3.00" height="12.25" fill="#f39520" stroke="none" stroke-width="1"/>
<rect x="417.50" y="316.60" width="2.50" height="12.25" fill="#f6a41f" stroke="none" stroke-width="1"/>
<rect x="420.00" y="316.60" width="3.00" height="12.25" fill="#f49c20" stroke="none" stroke-width="1"/>
<rect x="423.00" y="316.60" width="3.00" height="12.25" fill="#f7ab1e" stroke="none" stroke-width="1"/>
<rect x="426.00" y="316.60" width="2.00" height="12.25" fill="#f6a41f" stroke="none" stroke-width="1"/>
<rect x="428.00" y="316.60" width="2.00" height="12.25" fill="#f59f20" stroke="none" stroke-width="1"/>
<rect x="430.00" y="316.60" width="1.50" height="12.25" fill="#f6a41f" stroke="none" stroke-width="1"/>
<rect x="431.50" y="316.60" width="0.50" height="12.25" fill="#f49c20" stroke="none" stroke-width="1"/>
<rect x="432.00" y="316.60" width="2.50" height="12.25" fill="#f9c418" stroke="none" stroke-width="1"/>
<rect x="434.50" y="316.60" width="1.50" height="12.25" fill="#f8bc19" stroke="none" stroke-width="1"/>
<rect x="436.00" y="316.60" width="1.50" height="12.25" fill="#fac51a" stroke="none" stroke-width="1"/>
<rect x="437.50" y="316.60" width="2.00" height="12.25" fill="#f7ab1e" stroke="none" stroke-width="1"/>
<rect x="439.50" y="316.60" width="1.50" height="12.25" fill="#f7ab1e" stroke="none" stroke-width="1"/>
<rect x="441.00" y="316.60" width="3.00" height="12.25" fill="#f7ab1e" stroke="none" stroke-width="1"/>
<rect x="444.00" y="316.60" width="2.00" height="12.25" fill="#fac51a" stroke="none" stroke-width="1"/>
<rect x="446.00" y="316.60" width="3.00" height="12.25" fill="#f9cd16" stroke="none" stroke-width="1"/>
<rect x="449.00" y="316.60" width="1.00" height="12.25" fill="#f9cd16" stroke="none" stroke-width="1"/>
<rect x="450.00" y="316.60" width="2.50" height="12.25" fill="#f9bb1b" stroke="none" stroke-width="1"/>
<rect x="452.50" y="316.60" width="3.00" height="12.25" fill="#f9bb1b" stroke="none" stroke-width="1"/>
<rect x="455.50" y="316.60" width="1.50" height="12.25" fill="#f7ab1e" stroke="none" stroke-width="1"/>
<rect x="457.00" y="316.60" width="3.00" height="12.25" fill="#fac51a" stroke="none" stroke-width="1"/>
<rect x="460.00" y="316.60" width="1.50" height="12.25" fill="#f9cd16" stroke="none" stroke-width="1"/>
<rect x="461.50" y="316.60" width="2.50" height="12.25" fill="#f9c418" stroke="none" stroke-width="1"/>
<rect x="464.00" y="316.60" width="2.50" height="12.25" fill="#f9cd16" stroke="none" stroke-width="1"/>
<rect x="466.50" y="316.60" width="2.50" height="12.25" fill="#fad414" stroke="none" stroke-width="1"/>
<rect x="469.00" y="316.60" width="2.50" height="12.25" fill="#f8bc19" stroke="none" stroke-width="1"/>
<rect x="471.50" y="316.60" width="0.50" height="12.25" fill="#f9c418" stroke="none" stroke-width="1"/>
<rect x="472.00" y="316.60" width="3.00" height="12.25" fill="#f9bb1b" stroke="none" stroke-width="1"/>
<rect x="475.00" y="316.60" width="2.50" height="12.25" fill="#f7ab1e" stroke="none" stroke-width="1"/>
<rect x="477.50" y="316.60" width="1.50" height="12.25" fill="#f9bb1b" stroke="none" stroke-width="1"/>
<rect x="479.00" y="316.60" width="1.50" height="12.25" fill="#f8b21c" stroke="none" stroke-width="1"/>
<rect x="480.50" y="316.60" width="1.50" height="12.25" fill="#f8b21c" stroke="none" stroke-width="1"/>
<rect x="482.00" y="316.60" width="1.50" height="12.25" fill="#f5ea26" stroke="none" stroke-width="1"/>
<rect x="483.50" y="316.60" width="2.50" height="12.25" fill="#f6e41c" stroke="none" stroke-width="1"/>
<rect x="486.00" y="316.60" width="2.00" height="12.25" fill="#f5ea26" stroke="none" stroke-width="1"/>
<rect x="488.00" y="316.60" width="3.00" height="12.25" fill="#f6e41c" stroke="none" stroke-width="1"/>
<rect x="491.00" y="316.60" width="1.50" height="12.25" fill="#f6e41c" stroke="none" stroke-width="1"/>
<rect x="492.50" y="316.60" width="2.50" height="12.25" fill="#f6e41c" stroke="none" stroke-width="1"/>
<rect x="495.00" y="316.60" width="1.50" height="12.25" fill="#f5ea26" stroke="none" stroke-width="1"/>
<rect x="496.50" y="316.60" width="2.50" height="12.25" fill="#f2e21e" stroke="none" stroke-width="1"/>
<rect x="499.00" y="316.60" width="2.00" height="12.25" fill="#f2e21e" stroke="none" stroke-width="1"/>
<rect x="501.00" y="316.60" width="2.00" height="12.25" fill="#f6e41c" stroke="none" stroke-width="1"/>
<rect x="503.00" y="316.60" width="1.50" height="12.25" fill="#f5ea26" stroke="none" stroke-width="1"/>
<rect x="504.50" y="316.60" width="1.50" height="12.25" fill="#f5ea26" stroke="none" stroke-width="1"/>
<rect x="506.00" y="316.60" width="1.50" height="12.25" fill="#f3e61f" stroke="none" stroke-width="1"/>
<rect x="507.50" y="316.60" width="2.50" height="12.25" fill="#f2e21e" stroke="none" stroke-width="1"/>
<rect x="510.00" y="316.60" width="1.50" height="12.25" fill="#f2e21e" stroke="none" stroke-width="1"/>
<rect x="511.50" y="316.60" width="1.50" height="12.25" fill="#f6e41c" stroke="none" stroke-width="1"/>
<rect x="513.00" y="316.60" width="1.50" height="12.25" fill="#f5ea26" stroke="none" stroke-width="1"/>
<rect x="514.50" y="316.60" width="1.50" height="12.25" fill="#f2e21e" stroke="none" stroke-width="1"/>
<rect x="516.00" y="316.60" width="1.50" height="12.25" fill="#f2e21e" stroke="none" stroke-width="1"/>
<rect x="517.50" y="316.60" width="2.00" height="12.25" fill="#f6e41c" stroke="none" stroke-width="1"/>
<rect x="519.50" y="316.60" width="3.00" height="12.25" fill="#f2e21e" stroke="none" stroke-width="1"/>
<rect x="522.50" y="316.60" width="1.50" height="12.25" fill="#f6e41c" stroke="none" stroke-width="1"/>
<rect x="524.00" y="316.60" width="3.00" height="12.25" fill="#f6e41c" stroke="none" stroke-width="1"/>
<rect x="527.00" y="316.60" width="2.50" height="12.25" fill="#f3e61f" stroke="none" stroke-width="1"/>
<rect x="529.50" y="316.60" width="1.50" height="12.25" fill="#f5ea26" stroke="none" stroke-width="1"/>
<rect x="531.00" y="316.60" width="2.00" height="12.25" fill="#f2e21e" stroke="none" stroke-width="1"/>
<rect x="533.00" y="316.60" width="3.00" height="12.25" fill="#f2e21e" stroke="none" stroke-width="1"/>
<rect x="536.00" y="316.60" width="2.50" height="12.25" fill="#f2e21e" stroke="none" stroke-width="1"/>
<rect x="538.50" y="316.60" width="3.00" height="12.25" fill="#f2e21e" stroke="none" stroke-width="1"/>
<rect x="541.50" y="316.60" width="2.50" height="12.25" fill="#f2e21e" stroke="none" stroke-width="1"/>
<rect x="544.00" y="316.60" width="1.50" height="12.25" fill="#f2e21e" stroke="none" stroke-width="1"/>
<rect x="545.50" y="316.60" width="1.50" height="12.25" fill="#f2e21e" stroke="none" stroke-width="1"/>
<rect x="547.00" y="316.60" width="2.00" height="12.25" fill="#f5ea26" stroke="none" stroke-width="1"/>
<rect x="549.00" y="316.60" width="1.00" height="12.25" fill="#808080" stroke="none" stroke-width="1"/>
<rect x="550.00" y="316.60" width="2.00" height="12.25" fill="#f5ea26" stroke="none" stroke-width="1"/>
<rect x="552.00" y="316.60" width="1.50" height="12.25" fill="#f5ea26" stroke="none" stroke-width="1"/>
<rect x="553.50" y="316.60" width="2.50" height="12.25" fill="#f5ea26" stroke="none" stroke-width="1"/>
<rect x="556.00" y="316.60" width="2.00" height="12.25" fill="#f2e21e" stroke="none" stroke-width="1"/>
<rect x="558.00" y="316.60" width="1.50" height="12.25" fill="#f5ea26" stroke="none" stroke-width="1"/>
<rect x="559.50" y="316.60" width="2.00" height="12.25" fill="#f2e21e" stroke="none" stroke-width="1"/>
<rect x="561.50" y="316.60" width="2.50" height="12.25" fill="#f5ea26" stroke="none" stroke-width="1"/>
<rect x="564.00" y="316.60" width="2.00" height="12.25" fill="#f3e61f" stroke="none" stroke-width="1"/>
<rect x="566.00" y="316.60" width="1.50" height="12.25" fill="#f6e41c" stroke="none" stroke-width="1"/>
<rect x="567.50" y="316.60" width="1.50" height="12.25" fill="#f6e41c" stroke="none" stroke-width="1"/>
<rect x="569.00" y="316.60" width="1.00" height="12.25" fill="#f2e21e" stroke="none" stroke-width="1"/>
<rect x="570.00" y="316.60" width="2.00" height="12.25" fill="#f3e61f" stroke="none" stroke-width="1"/>
<rect x="572.00" y="316.60" width="2.00" height="12.25" fill="#f2e21e" stroke="none" stroke-width="1"/>
<rect x="574.00" y="316.60" width="1.50" height="12.25" fill="#f3e61f" stroke="none" stroke-width="1"/>
<rect x="575.50" y="316.60" width="2.50" height="12.25" fill="#f6e41c" stroke="none" stroke-width="1"/>
<rect x="578.00" y="316.60" width="2.00" height="12.25" fill="#f5ea26" stroke="none" stroke-width="1"/>
<rect x="580.00" y="316.60" width="3.00" height="12.25" fill="#fad414" stroke="none" stroke-width="1"/>
<rect x="583.00" y="316.60" width="2.00" height="12.25" fill="#f8bc19" stroke="none" stroke-width="1"/>
<rect x="585.00" y="316.60" width="1.50" height="12.25" fill="#f6e41c" stroke="none" stroke-width="1"/>
<rect x="586.50" y="316.60" width="2.50" height="12.25" fill="#f5ea26" stroke="none" stroke-width="1"/>
<rect x="589.00" y="316.60" width="2.50" height="12.25" fill="#f3e61f" stroke="none" stroke-width="1"/>
<rect x="591.50" y="316.60" width="2.00" height="12.25" fill="#f6e41c" stroke="none" stroke-width="1"/>
<rect x="593.50" y="316.60" width="1.50" height="12.25" fill="#f5ea26" stroke="none" stroke-width="1"/>
<rect x="595.00" y="316.60" width="2.50" height="12.25" fill="#f9d912" stroke="none" stroke-width="1"/>
<rect x="597.50" y="316.60" width="3.00" height="12.25" fill="#f8c816" stroke="none" stroke-width="1"/>
<rect x="600.50" y="316.60" width="0.50" height="12.25" fill="#f8d014" stroke="none" stroke-width="1"/>
<rect x="601.00" y="316.60" width="3.00" height="12.25" fill="#ef5a22" stroke="none" stroke-width="1"/>
<rect x="604.00" y="316.60" width="1.00" height="12.25" fill="#ef5a22" stroke="none" stroke-width="1"/>
<rect x="605.00" y="316.60" width="6.00" height="12.25" fill="#e8301f" stroke="none" stroke-width="1"/>
<rect x="611.00" y="316.60" width="2.00" height="12.25" fill="#f9bb1b" stroke="none" stroke-width="1"/>
<rect x="613.00" y="316.60" width="3.00" height="12.25" fill="#f4821f" stroke="none" stroke-width="1"/>
<rect x="616.00" y="316.60" width="1.50" height="12.25" fill="#f48522" stroke="none" stroke-width="1"/>
<rect x="617.50" y="316.60" width="3.00" height="12.25" fill="#f27a22" stroke="none" stroke-width="1"/>
<rect x="620.50" y="316.60" width="1.50" height="12.25" fill="#f4821f" stroke="none" stroke-width="1"/>
<rect x="622.00" y="316.60" width="2.50" height="12.25" fill="#f58c22" stroke="none" stroke-width="1"/>
<rect x="624.50" y="316.60" width="0.50" height="12.25" fill="#f27a22" stroke="none" stroke-width="1"/>
<rect x="625.00" y="316.60" width="2.50" height="12.25" fill="#f38622" stroke="none" stroke-width="1"/>
<rect x="627.50" y="316.60" width="0.50" height="12.25" fill="#f48e22" stroke="none" stroke-width="1"/>
<rect x="628.00" y="316.60" width="3.00" height="12.25" fill="#f17c22" stroke="none" stroke-width="1"/>
<rect x="631.00" y="316.60" width="1.50" height="12.25" fill="#f07522" stroke="none" stroke-width="1"/>
<rect x="632.50" y="316.60" width="3.00" height="12.25" fill="#ef6c22" stroke="none" stroke-width="1"/>
<rect x="635.50" y="316.60" width="2.00" height="12.25" fill="#f07522" stroke="none" stroke-width="1"/>
<rect x="637.50" y="316.60" width="2.00" height="12.25" fill="#ef6c22" stroke="none" stroke-width="1"/>
<rect x="639.50" y="316.60" width="1.50" height="12.25" fill="#ee6422" stroke="none" stroke-width="1"/>
<rect x="641.00" y="316.60" width="1.00" height="12.25" fill="#ef6c22" stroke="none" stroke-width="1"/>
<rect x="389.00" y="328.80" width="2.00" height="12.25" fill="#e6291f" stroke="none" stroke-width="1"/>
<rect x="391.00" y="328.80" width="1.50" height="12.25" fill="#f59f20" stroke="none" stroke-width="1"/>
<rect x="392.50" y="328.80" width="2.50" height="12.25" fill="#f49c20" stroke="none" stroke-width="1"/>
<rect x="395.00" y="328.80" width="1.00" height="12.25" fill="#f7ab1e" stroke="none" stroke-width="1"/>
<rect x="396.00" y="328.80" width="2.00" height="12.25" fill="#f9bb1b" stroke="none" stroke-width="1"/>
<rect x="398.00" y="328.80" width="1.50" height="12.25" fill="#f7ab1e" stroke="none" stroke-width="1"/>
<rect x="399.50" y="328.80" width="2.00" height="12.25" fill="#f7ab1e" stroke="none" stroke-width="1"/>
<rect x="401.50" y="328.80" width="2.50" height="12.25" fill="#f59f20" stroke="none" stroke-width="1"/>
<rect x="404.00" y="328.80" width="1.00" height="12.25" fill="#f6a41f" stroke="none" stroke-width="1"/>
<rect x="405.00" y="328.80" width="1.50" height="12.25" fill="#f9bb1b" stroke="none" stroke-width="1"/>
<rect x="406.50" y="328.80" width="3.00" height="12.25" fill="#f7ab1e" stroke="none" stroke-width="1"/>
<rect x="409.50" y="328.80" width="0.50" height="12.25" fill="#f6a41f" stroke="none" stroke-width="1"/>
<rect x="410.00" y="328.80" width="3.00" height="12.25" fill="#f49c20" stroke="none" stroke-width="1"/>
<rect x="413.00" y="328.80" width="1.50" height="12.25" fill="#f39520" stroke="none" stroke-width="1"/>
<rect x="414.50" y="328.80" width="2.50" height="12.25" fill="#f39520" stroke="none" stroke-width="1"/>
<rect x="417.00" y="328.80" width="1.50" height="12.25" fill="#f6a41f" stroke="none" stroke-width="1"/>
<rect x="418.50" y="328.80" width="1.50" height="12.25" fill="#f6a41f" stroke="none" stroke-width="1"/>
<rect x="420.00" y="328.80" width="2.00" height="12.25" fill="#f49c20" stroke="none" stroke-width="1"/>
<rect x="422.00" y="328.80" width="1.50" height="12.25" fill="#f7ab1e" stroke="none" stroke-width="1"/>
<rect x="423.50" y="328.80" width="2.00" height="12.25" fill="#f9bb1b" stroke="none" stroke-width="1"/>
<rect x="425.50" y="328.80" width="2.50" height="12.25" fill="#f6a41f" stroke="none" stroke-width="1"/>
<rect x="428.00" y="328.80" width="3.00" height="12.25" fill="#f7ab1e" stroke="none" stroke-width="1"/>
<rect x="431.00" y="328.80" width="1.00" height="12.25" fill="#f6a41f" stroke="none" stroke-width="1"/>
<rect x="432.00" y="328.80" width="2.00" height="12.25" fill="#f8bc19" stroke="none" stroke-width="1"/>
<rect x="434.00" y="328.80" width="2.00" height="12.25" fill="#fad414" stroke="none" stroke-width="1"/>
<rect x="436.00" y="328.80" width="3.00" height="12.25" fill="#f8b21c" stroke="none" stroke-width="1"/>
<rect x="439.00" y="328.80" width="2.50" height="12.25" fill="#f7ab1e" stroke="none" stroke-width="1"/>
<rect x="441.50" y="328.80" width="2.50" height="12.25" fill="#f9bb1b" stroke="none" stroke-width="1"/>
<rect x="444.00" y="328.80" width="2.00" height="12.25" fill="#f9bb1b" stroke="none" stroke-width="1"/>
<rect x="446.00" y="328.80" width="2.00" height="12.25" fill="#f9cd16" stroke="none" stroke-width="1"/>
<rect x="448.00" y="328.80" width="2.00" height="12.25" fill="#f9c418" stroke="none" stroke-width="1"/>
<rect x="450.00" y="328.80" width="2.00" height="12.25" fill="#f7ab1e" stroke="none" stroke-width="1"/>
<rect x="452.00" y="328.80" width="1.50" height="12.25" fill="#f7ab1e" stroke="none" stroke-width="1"/>
<rect x="453.50" y="328.80" width="2.50" height="12.25" fill="#f7ab1e" stroke="none" stroke-width="1"/>
<rect x="456.00" y="328.80" width="2.50" height="12.25" fill="#f9bb1b" stroke="none" stroke-width="1"/>
<rect x="458.50" y="328.80" width="1.50" height="12.25" fill="#f8b21c" stroke="none" stroke-width="1"/>
<rect x="460.00" y="328.80" width="2.00" height="12.25" fill="#f8bc19" stroke="none" stroke-width="1"/>
<rect x="462.00" y="328.80" width="2.50" height="12.25" fill="#fad414" stroke="none" stroke-width="1"/>
<rect x="464.50" y="328.80" width="2.00" height="12.25" fill="#f9cd16" stroke="none" stroke-width="1"/>
<rect x="466.50" y="328.80" width="1.50" height="12.25" fill="#f8bc19" stroke="none" stroke-width="1"/>
<rect x="468.00" y="328.80" width="3.00" height="12.25" fill="#f8bc19" stroke="none" stroke-width="1"/>
<rect x="471.00" y="328.80" width="1.00" height="12.25" fill="#f8bc19" stroke="none" stroke-width="1"/>
<rect x="472.00" y="328.80" width="3.00" height="12.25" fill="#f9bb1b" stroke="none" stroke-width="1"/>
<rect x="475.00" y="328.80" width="1.50" height="12.25" fill="#f8b21c" stroke="none" stroke-width="1"/>
<rect x="476.50" y="328.80" width="2.50" height="12.25" fill="#fac51a" stroke="none" stroke-width="1"/>
<rect x="479.00" y="328.80" width="2.00" height="12.25" fill="#fac51a" stroke="none" stroke-width="1"/>
<rect x="481.00" y="328.80" width="1.00" height="12.25" fill="#f7ab1e" stroke="none" stroke-width="1"/>
<rect x="482.00" y="328.80" width="1.50" height="12.25" fill="#f2e21e" stroke="none" stroke-width="1"/>
<rect x="483.50" y="328.80" width="1.50" height="12.25" fill="#f6e41c" stroke="none" stroke-width="1"/>
<rect x="485.00" y="328.80" width="2.00" height="12.25" fill="#f6e41c" stroke="none" stroke-width="1"/>
<rect x="487.00" y="328.80" width="3.00" height="12.25" fill="#f5ea26" stroke="none" stroke-width="1"/>
<rect x="490.00" y="328.80" width="3.00" height="12.25" fill="#f5ea26" stroke="none" stroke-width="1"/>
<rect x="493.00" y="328.80" width="3.00" height="12.25" fill="#f3e61f" stroke="none" stroke-width="1"/>
<rect x="496.00" y="328.80" width="2.50" height="12.25" fill="#f6e41c" stroke="none" stroke-width="1"/>
<rect x="498.50" y="328.80" width="2.50" height="12.25" fill="#f2e21e" stroke="none" stroke-width="1"/>
<rect x="501.00" y="328.80" width="3.00" height="12.25" fill="#f2e21e" stroke="none" stroke-width="1"/>
<rect x="504.00" y="328.80" width="2.50" height="12.25" fill="#f3e61f" stroke="none" stroke-width="1"/>
<rect x="506.50" y="328.80" width="2.00" height="12.25" fill="#f3e61f" stroke="none" stroke-width="1"/>
<rect x="508.50" y="328.80" width="3.00" height="12.25" fill="#f2e21e" stroke="none" stroke-width="1"/>
<rect x="511.50" y="328.80" width="2.00" height="12.25" fill="#f2e21e" stroke="none" stroke-width="1"/>
<rect x="513.50" y="328.80" width="3.00" height="12.25" fill="#f6e41c" stroke="none" stroke-width="1"/>
<rect x="516.50" y="328.80" width="2.50" height="12.25" fill="#f2e21e" stroke="none" stroke-width="1"/>
<rect x="519.00" y="328.80" width="1.50" height="12.25" fill="#f3e61f" stroke="none" stroke-width="1"/>
<rect x="520.50" y="328.80" width="1.50" height="12.25" fill="#f6e41c" stroke="none" stroke-width="1"/>
<rect x="522.00" y="328.80" width="2.00" height="12.25" fill="#f3e61f" stroke="none" stroke-width="1"/>
<rect x="524.00" y="328.80" width="2.50" height="12.25" fill="#f3e61f" stroke="none" stroke-width="1"/>
<rect x="526.50" y="328.80" width="2.50" height="12.25" fill="#f3e61f" stroke="none" stroke-width="1"/>
<rect x="529.00" y="328.80" width="2.50" height="12.25" fill="#f3e61f" stroke="none" stroke-width="1"/>
<rect x="531.50" y="328.80" width="2.00" height="12.25" fill="#f6e41c" stroke="none" stroke-width="1"/>
<rect x="533.50" y="328.80" width="1.50" height="12.25" fill="#f2e21e" stroke="none" stroke-width="1"/>
<rect x="535.00" y="328.80" width="2.00" height="12.25" fill="#f6e41c" stroke="none" stroke-width="1"/>
<rect x="537.00" y="328.80" width="2.50" height="12.25" fill="#f6e41c" stroke="none" stroke-width="1"/>
<rect x="539.50" y="328.80" width="1.50" height="12.25" fill="#f5ea26" stroke="none" stroke-width="1"/>
<rect x="541.00" y="328.80" width="1.50" height="12.25" fill="#f6e41c" stroke="none" stroke-width="1"/>
<rect x="542.50" y="328.80" width="3.00" height="12.25" fill="#f5ea26" stroke="none" stroke-width="1"/>
<rect x="545.50" y="328.80" width="1.50" height="12.25" fill="#f3e61f" stroke="none" stroke-width="1"/>
<rect x="547.00" y="328.80" width="1.50" height="12.25" fill="#f6e41c" stroke="none" stroke-width="1"/>
<rect x="548.50" y="328.80" width="0.50" height="12.25" fill="#f5ea26" stroke="none" stroke-width="1"/>
<rect x="549.00" y="328.80" width="1.00" height="12.25" fill="#808080" stroke="none" stroke-width="1"/>
<rect x="550.00" y="328.80" width="2.00" height="12.25" fill="#f6e41c" stroke="none" stroke-width="1"/>
<rect x="552.00" y="328.80" width="2.50" height="12.25" fill="#f5ea26" stroke="none" stroke-width="1"/>
<rect x="554.50" y="328.80" width="3.00" height="12.25" fill="#f3e61f" stroke="none" stroke-width="1"/>
<rect x="557.50" y="328.80" width="1.50" height="12.25" fill="#f3e61f" stroke="none" stroke-width="1"/>
<rect x="559.00" y="328.80" width="2.00" height="12.25" fill="#f2e21e" stroke="none" stroke-width="1"/>
<rect x="561.00" y="328.80" width="3.00" height="12.25" fill="#f3e61f" stroke="none" stroke-width="1"/>
<rect x="564.00" y="328.80" width="2.00" height="12.25" fill="#f6e41c" stroke="none" stroke-width="1"/>
<rect x="566.00" y="328.80" width="2.00" height="12.25" fill="#f3e61f" stroke="none" stroke-width="1"/>
<rect x="568.00" y="328.80" width="2.00" height="12.25" fill="#f2e21e" stroke="none" stroke-width="1"/>
<rect x="570.00" y="328.80" width="1.50" height="12.25" fill="#f3e61f" stroke="none" stroke-width="1"/>
<rect x="571.50" y="328.80" width="2.50" height="12.25" fill="#f6e41c" stroke="none" stroke-width="1"/>
<rect x="574.00" y="328.80" width="1.50" height="12.25" fill="#f3e61f" stroke="none" stroke-width="1"/>
<rect x="575.50" y="328.80" width="2.50" height="12.25" fill="#f3e61f" stroke="none" stroke-width="1"/>
<rect x="578.00" y="328.80" width="1.50" height="12.25" fill="#f5ea26" stroke="none" stroke-width="1"/>
<rect x="579.50" y="328.80" width="0.50" height="12.25" fill="#f3e61f" stroke="none" stroke-width="1"/>
<rect x="580.00" y="328.80" width="2.50" height="12.25" fill="#f8bc19" stroke="none" stroke-width="1"/>
<rect x="582.50" y="328.80" width="2.50" height="12.25" fill="#f9cd16" stroke="none" stroke-width="1"/>
<rect x="585.00" y="328.80" width="2.00" height="12.25" fill="#f6e41c" stroke="none" stroke-width="1"/>
<rect x="587.00" y="328.80" width="3.00" height="12.25" fill="#f3e61f" stroke="none" stroke-width="1"/>
<rect x="590.00" y="328.80" width="2.00" height="12.25" fill="#f6e41c" stroke="none" stroke-width="1"/>
<rect x="592.00" y="328.80" width="2.00" height="12.25" fill="#f3e61f" stroke="none" stroke-width="1"/>
<rect x="594.00" y="328.80" width="1.00" height="12.25" fill="#f5ea26" stroke="none" stroke-width="1"/>
<rect x="595.00" y="328.80" width="1.50" height="12.25" fill="#f8c816" stroke="none" stroke-width="1"/>
<rect x="596.50" y="328.80" width="2.00" height="12.25" fill="#f8d014" stroke="none" stroke-width="1"/>
<rect x="598.50" y="328.80" width="2.00" height="12.25" fill="#f9d912" stroke="none" stroke-width="1"/>
<rect x="600.50" y="328.80" width="0.50" height="12.25" fill="#f9d912" stroke="none" stroke-width="1"/>
<rect x="601.00" y="328.80" width="1.50" height="12.25" fill="#ee5222" stroke="none" stroke-width="1"/>
<rect x="602.50" y="328.80" width="2.00" height="12.25" fill="#ee5222" stroke="none" stroke-width="1"/>
<rect x="604.50" y="328.80" width="0.50" height="12.25" fill="#ee5222" stroke="none" stroke-width="1"/>
<rect x="605.00" y="328.80" width="6.00" height="12.25" fill="#e8301f" stroke="none" stroke-width="1"/>
<rect x="611.00" y="328.80" width="2.00" height="12.25" fill="#f8b21c" stroke="none" stroke-width="1"/>
<rect x="613.00" y="328.80" width="3.00" height="12.25" fill="#f4821f" stroke="none" stroke-width="1"/>
<rect x="616.00" y="328.80" width="3.00" height="12.25" fill="#f27a22" stroke="none" stroke-width="1"/>
<rect x="619.00" y="328.80" width="1.50" height="12.25" fill="#f48522" stroke="none" stroke-width="1"/>
<rect x="620.50" y="328.80" width="3.00" height="12.25" fill="#f27a22" stroke="none" stroke-width="1"/>
<rect x="623.50" y="328.80" width="1.50" height="12.25" fill="#f58c22" stroke="none" stroke-width="1"/>
<rect x="625.00" y="328.80" width="2.50" height="12.25" fill="#f38622" stroke="none" stroke-width="1"/>
<rect x="627.50" y="328.80" width="0.50" height="12.25" fill="#f38622" stroke="none" stroke-width="1"/>
<rect x="628.00" y="328.80" width="3.00" height="12.25" fill="#ee6422" stroke="none" stroke-width="1"/>
<rect x="631.00" y="328.80" width="3.00" height="12.25" fill="#f07522" stroke="none" stroke-width="1"/>
<rect x="634.00" y="328.80" width="2.00" height="12.25" fill="#ef6c22" stroke="none" stroke-width="1"/>
<rect x="636.00" y="328.80" width="3.00" height="12.25" fill="#ee6422" stroke="none" stroke-width="1"/>
<rect x="639.00" y="328.80" width="2.50" height="12.25" fill="#ee6422" stroke="none" stroke-width="1"/>
<rect x="641.50" y="328.80" width="0.50" height="12.25" fill="#ee6422" stroke="none" stroke-width="1"/>
<rect x="518.00" y="328.80" width="1.00" height="12.25" fill="#808080" stroke="none" stroke-width="1"/>
<rect x="528.00" y="328.80" width="1.00" height="12.25" fill="#808080" stroke="none" stroke-width="1"/>
<rect x="598.00" y="328.80" width="1.00" height="12.25" fill="#808080" stroke="none" stroke-width="1"/>
<rect x="389.00" y="341.00" width="2.00" height="12.25" fill="#e6291f" stroke="none" stroke-width="1"/>
<rect x="391.00" y="341.00" width="3.00" height="12.25" fill="#f7ab1e" stroke="none" stroke-width="1"/>
<rect x="394.00" y="341.00" width="2.00" height="12.25" fill="#f49c20" stroke="none" stroke-width="1"/>
<rect x="396.00" y="341.00" width="2.00" height="12.25" fill="#fac51a" stroke="none" stroke-width="1"/>
<rect x="398.00" y="341.00" width="2.50" height="12.25" fill="#f7ab1e" stroke="none" stroke-width="1"/>
<rect x="400.50" y="341.00" width="1.50" height="12.25" fill="#f6a41f" stroke="none" stroke-width="1"/>
<rect x="402.00" y="341.00" width="2.50" height="12.25" fill="#f9bb1b" stroke="none" stroke-width="1"/>
<rect x="404.50" y="341.00" width="0.50" height="12.25" fill="#f8b21c" stroke="none" stroke-width="1"/>
<rect x="405.00" y="341.00" width="3.00" height="12.25" fill="#f9bb1b" stroke="none" stroke-width="1"/>
<rect x="408.00" y="341.00" width="2.00" height="12.25" fill="#f7ab1e" stroke="none" stroke-width="1"/>
<rect x="410.00" y="341.00" width="2.00" height="12.25" fill="#f49c20" stroke="none" stroke-width="1"/>
<rect x="412.00" y="341.00" width="2.50" height="12.25" fill="#f49c20" stroke="none" stroke-width="1"/>
<rect x="414.50" y="341.00" width="2.50" height="12.25" fill="#f6a41f" stroke="none" stroke-width="1"/>
<rect x="417.00" y="341.00" width="3.00" height="12.25" fill="#f39520" stroke="none" stroke-width="1"/>
<rect x="420.00" y="341.00" width="3.00" height="12.25" fill="#f59f20" stroke="none" stroke-width="1"/>
<rect x="423.00" y="341.00" width="1.50" height="12.25" fill="#f49c20" stroke="none" stroke-width="1"/>
<rect x="424.50" y="341.00" width="3.00" height="12.25" fill="#f9bb1b" stroke="none" stroke-width="1"/>
<rect x="427.50" y="341.00" width="0.50" height="12.25" fill="#f6a41f" stroke="none" stroke-width="1"/>
<rect x="428.00" y="341.00" width="2.50" height="12.25" fill="#f8b21c" stroke="none" stroke-width="1"/>
<rect x="430.50" y="341.00" width="1.50" height="12.25" fill="#f9bb1b" stroke="none" stroke-width="1"/>
<rect x="432.00" y="341.00" width="2.50" height="12.25" fill="#f8bc19" stroke="none" stroke-width="1"/>
<rect x="434.50" y="341.00" width="1.50" height="12.25" fill="#f9c418" stroke="none" stroke-width="1"/>
<rect x="436.00" y="341.00" width="2.50" height="12.25" fill="#f9bb1b" stroke="none" stroke-width="1"/>
<rect x="438.50" y="341.00" width="3.00" height="12.25" fill="#f8b21c" stroke="none" stroke-width="1"/>
<rect x="441.50" y="341.00" width="2.50" height="12.25" fill="#f8b21c" stroke="none" stroke-width="1"/>
<rect x="444.00" y="341.00" width="1.50" height="12.25" fill="#f9bb1b" stroke="none" stroke-width="1"/>
<rect x="445.50" y="341.00" width="0.50" height="12.25" fill="#f7ab1e" stroke="none" stroke-width="1"/>
<rect x="446.00" y="341.00" width="3.00" height="12.25" fill="#f8bc19" stroke="none" stroke-width="1"/>
<rect x="449.00" y="341.00" width="1.00" height="12.25" fill="#f9c418" stroke="none" stroke-width="1"/>
<rect x="450.00" y="341.00" width="2.50" height="12.25" fill="#f8b21c" stroke="none" stroke-width="1"/>
<rect x="452.50" y="341.00" width="1.50" height="12.25" fill="#fac51a" stroke="none" stroke-width="1"/>
<rect x="454.00" y="341.00" width="2.00" height="12.25" fill="#f7ab1e" stroke="none" stroke-width="1"/>
<rect x="456.00" y="341.00" width="2.50" height="12.25" fill="#f8b21c" stroke="none" stroke-width="1"/>
<rect x="458.50" y="341.00" width="1.50" height="12.25" fill="#f9bb1b" stroke="none" stroke-width="1"/>
<rect x="460.00" y="341.00" width="2.00" height="12.25" fill="#f8bc19" stroke="none" stroke-width="1"/>
<rect x="462.00" y="341.00" width="2.50" height="12.25" fill="#f9c418" stroke="none" stroke-width="1"/>
<rect x="464.50" y="341.00" width="3.00" height="12.25" fill="#f9c418" stroke="none" stroke-width="1"/>
<rect x="467.50" y="341.00" width="3.00" height="12.25" fill="#f9c418" stroke="none" stroke-width="1"/>
<rect x="470.50" y="341.00" width="1.50" height="12.25" fill="#f8bc19" stroke="none" stroke-width="1"/>
<rect x="472.00" y="341.00" width="1.50" height="12.25" fill="#f9bb1b" stroke="none" stroke-width="1"/>
<rect x="473.50" y="341.00" width="1.50" height="12.25" fill="#fac51a" stroke="none" stroke-width="1"/>
<rect x="475.00" y="341.00" width="3.00" height="12.25" fill="#f7ab1e" stroke="none" stroke-width="1"/>
<rect x="478.00" y="341.00" width="1.50" height="12.25" fill="#f9bb1b" stroke="none" stroke-width="1"/>
<rect x="479.50" y="341.00" width="1.50" height="12.25" fill="#fac51a" stroke="none" stroke-width="1"/>
<rect x="481.00" y="341.00" width="1.00" height="12.25" fill="#fac51a" stroke="none" stroke-width="1"/>
<rect x="482.00" y="341.00" width="3.00" height="12.25" fill="#f6e41c" stroke="none" stroke-width="1"/>
<rect x="485.00" y="341.00" width="1.50" height="12.25" fill="#f6e41c" stroke="none" stroke-width="1"/>
<rect x="486.50" y="341.00" width="2.50" height="12.25" fill="#f3e61f" stroke="none" stroke-width="1"/>
<rect x="489.00" y="341.00" width="1.50" height="12.25" fill="#f2e21e" stroke="none" stroke-width="1"/>
<rect x="490.50" y="341.00" width="1.50" height="12.25" fill="#f3e61f" stroke="none" stroke-width="1"/>
<rect x="492.00" y="341.00" width="3.00" height="12.25" fill="#f2e21e" stroke="none" stroke-width="1"/>
<rect x="495.00" y="341.00" width="1.50" height="12.25" fill="#f5ea26" stroke="none" stroke-width="1"/>
<rect x="496.50" y="341.00" width="1.50" height="12.25" fill="#f6e41c" stroke="none" stroke-width="1"/>
<rect x="498.00" y="341.00" width="2.50" height="12.25" fill="#f5ea26" stroke="none" stroke-width="1"/>
<rect x="500.50" y="341.00" width="1.50" height="12.25" fill="#f5ea26" stroke="none" stroke-width="1"/>
<rect x="502.00" y="341.00" width="2.50" height="12.25" fill="#f6e41c" stroke="none" stroke-width="1"/>
<rect x="504.50" y="341.00" width="3.00" height="12.25" fill="#f3e61f" stroke="none" stroke-width="1"/>
<rect x="507.50" y="341.00" width="3.00" height="12.25" fill="#f6e41c" stroke="none" stroke-width="1"/>
<rect x="510.50" y="341.00" width="2.00" height="12.25" fill="#f6e41c" stroke="none" stroke-width="1"/>
<rect x="512.50" y="341.00" width="3.00" height="12.25" fill="#f6e41c" stroke="none" stroke-width="1"/>
<rect x="515.50" y="341.00" width="3.00" height="12.25" fill="#f6e41c" stroke="none" stroke-width="1"/>
<rect x="518.50" y="341.00" width="1.50" height="12.25" fill="#f5ea26" stroke="none" stroke-width="1"/>
<rect x="520.00" y="341.00" width="2.50" height="12.25" fill="#f5ea26" stroke="none" stroke-width="1"/>
<rect x="522.50" y="341.00" width="1.50" height="12.25" fill="#f2e21e" stroke="none" stroke-width="1"/>
<rect x="524.00" y="341.00" width="2.00" height="12.25" fill="#f2e21e" stroke="none" stroke-width="1"/>
<rect x="526.00" y="341.00" width="3.00" height="12.25" fill="#f6e41c" stroke="none" stroke-width="1"/>
<rect x="529.00" y="341.00" width="3.00" height="12.25" fill="#f6e41c" stroke="none" stroke-width="1"/>
<rect x="532.00" y="341.00" width="2.50" height="12.25" fill="#f5ea26" stroke="none" stroke-width="1"/>
<rect x="534.50" y="341.00" width="3.00" height="12.25" fill="#f6e41c" stroke="none" stroke-width="1"/>
<rect x="537.50" y="341.00" width="2.50" height="12.25" fill="#f3e61f" stroke="none" stroke-width="1"/>
<rect x="540.00" y="341.00" width="3.00" height="12.25" fill="#f5ea26" stroke="none" stroke-width="1"/>
<rect x="543.00" y="341.00" width="2.50" height="12.25" fill="#f2e21e" stroke="none" stroke-width="1"/>
<rect x="545.50" y="341.00" width="3.00" height="12.25" fill="#f3e61f" stroke="none" stroke-width="1"/>
<rect x="548.50" y="341.00" width="0.50" height="12.25" fill="#f3e61f" stroke="none" stroke-width="1"/>
<rect x="549.00" y="341.00" width="1.00" height="12.25" fill="#808080" stroke="none" stroke-width="1"/>
<rect x="550.00" y="341.00" width="2.50" height="12.25" fill="#f6e41c" stroke="none" stroke-width="1"/>
<rect x="552.50" y="341.00" width="2.00" height="12.25" fill="#f5ea26" stroke="none" stroke-width="1"/>
<rect x="554.50" y="341.00" width="3.00" height="12.25" fill="#f3e61f" stroke="none" stroke-width="1"/>
<rect x="557.50" y="341.00" width="2.00" height="12.25" fill="#f6e41c" stroke="none" stroke-width="1"/>
<rect x="559.50" y="341.00" width="3.00" height="12.25" fill="#f6e41c" stroke="none" stroke-width="1"/>
<rect x="562.50" y="341.00" width="3.00" height="12.25" fill="#f3e61f" stroke="none" stroke-width="1"/>
<rect x="565.50" y="341.00" width="0.50" height="12.25" fill="#f5ea26" stroke="none" stroke-width="1"/>
<rect x="566.00" y="341.00" width="1.50" height="12.25" fill="#f2e21e" stroke="none" stroke-width="1"/>
<rect x="567.50" y="341.00" width="2.00" height="12.25" fill="#f3e61f" stroke="none" stroke-width="1"/>
<rect x="569.50" y="341.00" width="0.50" height="12.25" fill="#f5ea26" stroke="none" stroke-width="1"/>
<rect x="570.00" y="341.00" width="3.00" height="12.25" fill="#f2e21e" stroke="none" stroke-width="1"/>
<rect x="573.00" y="341.00" width="3.00" height="12.25" fill="#f5ea26" stroke="none" stroke-width="1"/>
<rect x="576.00" y="341.00" width="3.00" height="12.25" fill="#f2e21e" stroke="none" stroke-width="1"/>
<rect x="579.00" y="341.00" width="1.00" height="12.25" fill="#f3e61f" stroke="none" stroke-width="1"/>
<rect x="580.00" y="341.00" width="2.00" height="12.25" fill="#f9cd16" stroke="none" stroke-width="1"/>
<rect x="582.00" y="341.00" width="2.00" height="12.25" fill="#f9cd16" stroke="none" stroke-width="1"/>
<rect x="584.00" y="341.00" width="1.00" height="12.25" fill="#f9c418" stroke="none" stroke-width="1"/>
<rect x="585.00" y="341.00" width="2.00" height="12.25" fill="#f5ea26" stroke="none" stroke-width="1"/>
<rect x="587.00" y="341.00" width="2.00" height="12.25" fill="#f2e21e" stroke="none" stroke-width="1"/>
<rect x="589.00" y="341.00" width="2.50" height="12.25" fill="#f2e21e" stroke="none" stroke-width="1"/>
<rect x="591.50" y="341.00" width="1.50" height="12.25" fill="#f2e21e" stroke="none" stroke-width="1"/>
<rect x="593.00" y="341.00" width="2.00" height="12.25" fill="#f3e61f" stroke="none" stroke-width="1"/>
<rect x="595.00" y="341.00" width="2.00" height="12.25" fill="#f9d912" stroke="none" stroke-width="1"/>
<rect x="597.00" y="341.00" width="1.50" height="12.25" fill="#f8d014" stroke="none" stroke-width="1"/>
<rect x="598.50" y="341.00" width="2.50" height="12.25" fill="#f8c816" stroke="none" stroke-width="1"/>
<rect x="601.00" y="341.00" width="2.50" height="12.25" fill="#ef5a22" stroke="none" stroke-width="1"/>
<rect x="603.50" y="341.00" width="1.50" height="12.25" fill="#ed4c21" stroke="none" stroke-width="1"/>
<rect x="605.00" y="341.00" width="6.00" height="12.25" fill="#e6291f" stroke="none" stroke-width="1"/>
<rect x="611.00" y="341.00" width="2.00" height="12.25" fill="#f7ab1e" stroke="none" stroke-width="1"/>
<rect x="613.00" y="341.00" width="3.00" height="12.25" fill="#f4821f" stroke="none" stroke-width="1"/>
<rect x="616.00" y="341.00" width="2.50" height="12.25" fill="#f4821f" stroke="none" stroke-width="1"/>
<rect x="618.50" y="341.00" width="2.50" height="12.25" fill="#f27a22" stroke="none" stroke-width="1"/>
<rect x="621.00" y="341.00" width="2.00" height="12.25" fill="#f48522" stroke="none" stroke-width="1"/>
<rect x="623.00" y="341.00" width="2.00" height="12.25" fill="#f58c22" stroke="none" stroke-width="1"/>
<rect x="625.00" y="341.00" width="1.50" height="12.25" fill="#f38622" stroke="none" stroke-width="1"/>
<rect x="626.50" y="341.00" width="1.50" height="12.25" fill="#f38622" stroke="none" stroke-width="1"/>
<rect x="628.00" y="341.00" width="2.50" height="12.25" fill="#ee6422" stroke="none" stroke-width="1"/>
<rect x="630.50" y="341.00" width="1.50" height="12.25" fill="#f17c22" stroke="none" stroke-width="1"/>
<rect x="632.00" y="341.00" width="2.50" height="12.25" fill="#f07522" stroke="none" stroke-width="1"/>
<rect x="634.50" y="341.00" width="3.00" height="12.25" fill="#f17c22" stroke="none" stroke-width="1"/>
<rect x="637.50" y="341.00" width="2.50" height="12.25" fill="#ee6422" stroke="none" stroke-width="1"/>
<rect x="640.00" y="341.00" width="2.00" height="12.25" fill="#ee6422" stroke="none" stroke-width="1"/>
<rect x="499.00" y="341.00" width="1.00" height="12.25" fill="#808080" stroke="none" stroke-width="1"/>
<rect x="528.00" y="341.00" width="1.00" height="12.25" fill="#808080" stroke="none" stroke-width="1"/>
<rect x="543.00" y="341.00" width="2.50" height="12.25" fill="#f9cd16" stroke="none" stroke-width="1"/>
<rect x="545.50" y="341.00" width="1.50" height="12.25" fill="#f9c418" stroke="none" stroke-width="1"/>
<rect x="547.00" y="341.00" width="1.50" height="12.25" fill="#f8bc19" stroke="none" stroke-width="1"/>
<rect x="548.50" y="341.00" width="0.50" height="12.25" fill="#f9c418" stroke="none" stroke-width="1"/>
<rect x="550.00" y="341.00" width="1.50" height="12.25" fill="#f9cd16" stroke="none" stroke-width="1"/>
<rect x="551.50" y="341.00" width="2.50" height="12.25" fill="#f8bc19" stroke="none" stroke-width="1"/>
<rect x="554.00" y="341.00" width="2.50" height="12.25" fill="#f9cd16" stroke="none" stroke-width="1"/>
<rect x="556.50" y="341.00" width="1.50" height="12.25" fill="#f9c418" stroke="none" stroke-width="1"/>
<rect x="558.00" y="341.00" width="1.00" height="12.25" fill="#f9c418" stroke="none" stroke-width="1"/>
<rect x="391.00" y="341.00" width="3.00" height="12.25" fill="#f9bb1b" stroke="none" stroke-width="1"/>
<rect x="394.00" y="341.00" width="1.50" height="12.25" fill="#fac51a" stroke="none" stroke-width="1"/>
<rect x="395.50" y="341.00" width="2.00" height="12.25" fill="#f8b21c" stroke="none" stroke-width="1"/>
<rect x="397.50" y="341.00" width="2.50" height="12.25" fill="#fac51a" stroke="none" stroke-width="1"/>
<rect x="400.00" y="341.00" width="2.00" height="12.25" fill="#f8b21c" stroke="none" stroke-width="1"/>
<rect x="402.00" y="341.00" width="3.00" height="12.25" fill="#f9bb1b" stroke="none" stroke-width="1"/>
<rect x="389.00" y="353.20" width="2.00" height="12.25" fill="#e8301f" stroke="none" stroke-width="1"/>
<rect x="391.00" y="353.20" width="2.00" height="12.25" fill="#f6a41f" stroke="none" stroke-width="1"/>
<rect x="393.00" y="353.20" width="3.00" height="12.25" fill="#f6a41f" stroke="none" stroke-width="1"/>
<rect x="396.00" y="353.20" width="2.00" height="12.25" fill="#f8b21c" stroke="none" stroke-width="1"/>
<rect x="398.00" y="353.20" width="2.00" height="12.25" fill="#f49c20" stroke="none" stroke-width="1"/>
<rect x="400.00" y="353.20" width="2.50" height="12.25" fill="#f49c20" stroke="none" stroke-width="1"/>
<rect x="402.50" y="353.20" width="2.00" height="12.25" fill="#f59f20" stroke="none" stroke-width="1"/>
<rect x="404.50" y="353.20" width="0.50" height="12.25" fill="#f8b21c" stroke="none" stroke-width="1"/>
<rect x="405.00" y="353.20" width="2.00" height="12.25" fill="#f7ab1e" stroke="none" stroke-width="1"/>
<rect x="407.00" y="353.20" width="1.50" height="12.25" fill="#f9bb1b" stroke="none" stroke-width="1"/>
<rect x="408.50" y="353.20" width="3.00" height="12.25" fill="#f9bb1b" stroke="none" stroke-width="1"/>
<rect x="411.50" y="353.20" width="2.50" height="12.25" fill="#f8b21c" stroke="none" stroke-width="1"/>
<rect x="414.00" y="353.20" width="1.50" height="12.25" fill="#f9bb1b" stroke="none" stroke-width="1"/>
<rect x="415.50" y="353.20" width="2.00" height="12.25" fill="#f6a41f" stroke="none" stroke-width="1"/>
<rect x="417.50" y="353.20" width="1.50" height="12.25" fill="#f6a41f" stroke="none" stroke-width="1"/>
<rect x="419.00" y="353.20" width="2.50" height="12.25" fill="#f49c20" stroke="none" stroke-width="1"/>
<rect x="421.50" y="353.20" width="1.50" height="12.25" fill="#f7ab1e" stroke="none" stroke-width="1"/>
<rect x="423.00" y="353.20" width="1.50" height="12.25" fill="#f8b21c" stroke="none" stroke-width="1"/>
<rect x="424.50" y="353.20" width="2.00" height="12.25" fill="#f59f20" stroke="none" stroke-width="1"/>
<rect x="426.50" y="353.20" width="1.50" height="12.25" fill="#f6a41f" stroke="none" stroke-width="1"/>
<rect x="428.00" y="353.20" width="2.50" height="12.25" fill="#f6a41f" stroke="none" stroke-width="1"/>
<rect x="430.50" y="353.20" width="1.50" height="12.25" fill="#f7ab1e" stroke="none" stroke-width="1"/>
<rect x="432.00" y="353.20" width="2.00" height="12.25" fill="#f6e41c" stroke="none" stroke-width="1"/>
<rect x="434.00" y="353.20" width="1.00" height="12.25" fill="#f2e21e" stroke="none" stroke-width="1"/>
<rect x="435.00" y="353.20" width="2.00" height="12.25" fill="#f8bc19" stroke="none" stroke-width="1"/>
<rect x="437.00" y="353.20" width="2.60" height="12.25" fill="#f9c418" stroke="none" stroke-width="1"/>
<rect x="439.60" y="353.20" width="1.20" height="12.25" fill="#808080" stroke="none" stroke-width="1"/>
<rect x="440.80" y="353.20" width="2.00" height="12.25" fill="#f8bc19" stroke="none" stroke-width="1"/>
<rect x="442.80" y="353.20" width="1.50" height="12.25" fill="#f8bc19" stroke="none" stroke-width="1"/>
<rect x="444.30" y="353.20" width="2.50" height="12.25" fill="#f8bc19" stroke="none" stroke-width="1"/>
<rect x="446.80" y="353.20" width="3.00" height="12.25" fill="#f9cd16" stroke="none" stroke-width="1"/>
<rect x="449.80" y="353.20" width="0.20" height="12.25" fill="#f9cd16" stroke="none" stroke-width="1"/>
<rect x="450.00" y="353.20" width="1.00" height="12.25" fill="#808080" stroke="none" stroke-width="1"/>
<rect x="451.00" y="353.20" width="2.00" height="12.25" fill="#f5ea26" stroke="none" stroke-width="1"/>
<rect x="453.00" y="353.20" width="1.50" height="12.25" fill="#f2e21e" stroke="none" stroke-width="1"/>
<rect x="454.50" y="353.20" width="1.00" height="12.25" fill="#808080" stroke="none" stroke-width="1"/>
<rect x="455.50" y="353.20" width="3.00" height="12.25" fill="#fad414" stroke="none" stroke-width="1"/>
<rect x="458.50" y="353.20" width="2.00" height="12.25" fill="#f8bc19" stroke="none" stroke-width="1"/>
<rect x="460.50" y="353.20" width="2.00" height="12.25" fill="#f9cd16" stroke="none" stroke-width="1"/>
<rect x="462.50" y="353.20" width="2.50" height="12.25" fill="#f8bc19" stroke="none" stroke-width="1"/>
<rect x="465.00" y="353.20" width="1.50" height="12.25" fill="#f9cd16" stroke="none" stroke-width="1"/>
<rect x="466.50" y="353.20" width="2.50" height="12.25" fill="#f9cd16" stroke="none" stroke-width="1"/>
<rect x="469.00" y="353.20" width="1.50" height="12.25" fill="#f8bc19" stroke="none" stroke-width="1"/>
<rect x="470.50" y="353.20" width="0.50" height="12.25" fill="#f9cd16" stroke="none" stroke-width="1"/>
<rect x="471.00" y="353.20" width="1.00" height="12.25" fill="#808080" stroke="none" stroke-width="1"/>
<rect x="472.00" y="353.20" width="1.50" height="12.25" fill="#f9bb1b" stroke="none" stroke-width="1"/>
<rect x="473.50" y="353.20" width="1.50" height="12.25" fill="#f8b21c" stroke="none" stroke-width="1"/>
<rect x="475.00" y="353.20" width="2.00" height="12.25" fill="#fac51a" stroke="none" stroke-width="1"/>
<rect x="477.00" y="353.20" width="2.00" height="12.25" fill="#f8b21c" stroke="none" stroke-width="1"/>
<rect x="479.00" y="353.20" width="3.00" height="12.25" fill="#f9bb1b" stroke="none" stroke-width="1"/>
<rect x="482.00" y="353.20" width="8.00" height="12.25" fill="#808080" stroke="none" stroke-width="1"/>
<rect x="490.00" y="353.20" width="1.50" height="12.25" fill="#f2e21e" stroke="none" stroke-width="1"/>
<rect x="491.50" y="353.20" width="8.50" height="12.25" fill="#808080" stroke="none" stroke-width="1"/>
<rect x="500.00" y="353.20" width="2.00" height="12.25" fill="#f2e21e" stroke="none" stroke-width="1"/>
<rect x="502.00" y="353.20" width="4.00" height="12.25" fill="#808080" stroke="none" stroke-width="1"/>
<rect x="506.00" y="353.20" width="2.00" height="12.25" fill="#f3e61f" stroke="none" stroke-width="1"/>
<rect x="508.00" y="353.20" width="2.00" height="12.25" fill="#808080" stroke="none" stroke-width="1"/>
<rect x="510.00" y="353.20" width="1.50" height="12.25" fill="#f6e41c" stroke="none" stroke-width="1"/>
<rect x="511.50" y="353.20" width="1.50" height="12.25" fill="#f6e41c" stroke="none" stroke-width="1"/>
<rect x="513.00" y="353.20" width="3.00" height="12.25" fill="#808080" stroke="none" stroke-width="1"/>
<rect x="516.00" y="353.20" width="2.00" height="12.25" fill="#f5ea26" stroke="none" stroke-width="1"/>
<rect x="518.00" y="353.20" width="3.00" height="12.25" fill="#808080" stroke="none" stroke-width="1"/>
<rect x="521.00" y="353.20" width="2.00" height="12.25" fill="#f2e21e" stroke="none" stroke-width="1"/>
<rect x="523.00" y="353.20" width="5.00" height="12.25" fill="#808080" stroke="none" stroke-width="1"/>
<rect x="528.00" y="353.20" width="1.00" height="12.25" fill="#f5ea26" stroke="none" stroke-width="1"/>
<rect x="529.00" y="353.20" width="3.00" height="12.25" fill="#808080" stroke="none" stroke-width="1"/>
<rect x="532.00" y="353.20" width="3.00" height="12.25" fill="#f2e21e" stroke="none" stroke-width="1"/>
<rect x="535.00" y="353.20" width="2.00" height="12.25" fill="#808080" stroke="none" stroke-width="1"/>
<rect x="537.00" y="353.20" width="1.50" height="12.25" fill="#f6e41c" stroke="none" stroke-width="1"/>
<rect x="538.50" y="353.20" width="1.50" height="12.25" fill="#f3e61f" stroke="none" stroke-width="1"/>
<rect x="540.00" y="353.20" width="1.00" height="12.25" fill="#f3e61f" stroke="none" stroke-width="1"/>
<rect x="541.00" y="353.20" width="2.00" height="12.25" fill="#808080" stroke="none" stroke-width="1"/>
<rect x="543.00" y="353.20" width="3.00" height="12.25" fill="#f3e61f" stroke="none" stroke-width="1"/>
<rect x="546.00" y="353.20" width="3.00" height="12.25" fill="#f5ea26" stroke="none" stroke-width="1"/>
<rect x="549.00" y="353.20" width="2.00" height="12.25" fill="#808080" stroke="none" stroke-width="1"/>
<rect x="551.00" y="353.20" width="2.00" height="12.25" fill="#f3e61f" stroke="none" stroke-width="1"/>
<rect x="553.00" y="353.20" width="2.00" height="12.25" fill="#f5ea26" stroke="none" stroke-width="1"/>
<rect x="555.00" y="353.20" width="1.00" height="12.25" fill="#f5ea26" stroke="none" stroke-width="1"/>
<rect x="556.00" y="353.20" width="2.00" height="12.25" fill="#808080" stroke="none" stroke-width="1"/>
<rect x="558.00" y="353.20" width="2.50" height="12.25" fill="#f2e21e" stroke="none" stroke-width="1"/>
<rect x="560.50" y="353.20" width="0.50" height="12.25" fill="#f5ea26" stroke="none" stroke-width="1"/>
<rect x="561.00" y="353.20" width="3.00" height="12.25" fill="#808080" stroke="none" stroke-width="1"/>
<rect x="564.00" y="353.20" width="2.00" height="12.25" fill="#f2e21e" stroke="none" stroke-width="1"/>
<rect x="566.00" y="353.20" width="1.00" height="12.25" fill="#f5ea26" stroke="none" stroke-width="1"/>
<rect x="567.00" y="353.20" width="4.00" height="12.25" fill="#808080" stroke="none" stroke-width="1"/>
<rect x="571.00" y="353.20" width="2.00" height="12.25" fill="#f5ea26" stroke="none" stroke-width="1"/>
<rect x="573.00" y="353.20" width="1.00" height="12.25" fill="#808080" stroke="none" stroke-width="1"/>
<rect x="574.00" y="353.20" width="2.00" height="12.25" fill="#f5ea26" stroke="none" stroke-width="1"/>
<rect x="576.00" y="353.20" width="1.00" height="12.25" fill="#f2e21e" stroke="none" stroke-width="1"/>
<rect x="577.00" y="353.20" width="1.00" height="12.25" fill="#808080" stroke="none" stroke-width="1"/>
<rect x="578.00" y="353.20" width="2.50" height="12.25" fill="#f3e61f" stroke="none" stroke-width="1"/>
<rect x="580.50" y="353.20" width="3.50" height="12.25" fill="#808080" stroke="none" stroke-width="1"/>
<rect x="584.00" y="353.20" width="2.50" height="12.25" fill="#f5ea26" stroke="none" stroke-width="1"/>
<rect x="586.50" y="353.20" width="1.50" height="12.25" fill="#f5ea26" stroke="none" stroke-width="1"/>
<rect x="588.00" y="353.20" width="2.50" height="12.25" fill="#f3e61f" stroke="none" stroke-width="1"/>
<rect x="590.50" y="353.20" width="1.50" height="12.25" fill="#f2e21e" stroke="none" stroke-width="1"/>
<rect x="592.00" y="353.20" width="1.00" height="12.25" fill="#f5ea26" stroke="none" stroke-width="1"/>
<rect x="593.00" y="353.20" width="1.50" height="12.25" fill="#808080" stroke="none" stroke-width="1"/>
<rect x="594.50" y="353.20" width="1.50" height="12.25" fill="#f2e21e" stroke="none" stroke-width="1"/>
<rect x="596.00" y="353.20" width="1.00" height="12.25" fill="#f2e21e" stroke="none" stroke-width="1"/>
<rect x="597.00" y="353.20" width="1.50" height="12.25" fill="#808080" stroke="none" stroke-width="1"/>
<rect x="598.50" y="353.20" width="1.00" height="12.25" fill="#f3e61f" stroke="none" stroke-width="1"/>
<rect x="599.50" y="353.20" width="1.50" height="12.25" fill="#808080" stroke="none" stroke-width="1"/>
<rect x="601.00" y="353.20" width="1.50" height="12.25" fill="#ed4c21" stroke="none" stroke-width="1"/>
<rect x="602.50" y="353.20" width="2.00" height="12.25" fill="#ee5222" stroke="none" stroke-width="1"/>
<rect x="604.50" y="353.20" width="0.50" height="12.25" fill="#ef5a22" stroke="none" stroke-width="1"/>
<rect x="605.00" y="353.20" width="6.00" height="12.25" fill="#e5231f" stroke="none" stroke-width="1"/>
<rect x="611.00" y="353.20" width="2.00" height="12.25" fill="#f9bb1b" stroke="none" stroke-width="1"/>
<rect x="613.00" y="353.20" width="2.00" height="12.25" fill="#f27a22" stroke="none" stroke-width="1"/>
<rect x="615.00" y="353.20" width="1.50" height="12.25" fill="#f27a22" stroke="none" stroke-width="1"/>
<rect x="616.50" y="353.20" width="3.00" height="12.25" fill="#f48522" stroke="none" stroke-width="1"/>
<rect x="619.50" y="353.20" width="2.50" height="12.25" fill="#f48522" stroke="none" stroke-width="1"/>
<rect x="622.00" y="353.20" width="3.00" height="12.25" fill="#f4821f" stroke="none" stroke-width="1"/>
<rect x="625.00" y="353.20" width="2.00" height="12.25" fill="#f48e22" stroke="none" stroke-width="1"/>
<rect x="627.00" y="353.20" width="1.00" height="12.25" fill="#f38622" stroke="none" stroke-width="1"/>
<rect x="628.00" y="353.20" width="1.50" height="12.25" fill="#f17c22" stroke="none" stroke-width="1"/>
<rect x="629.50" y="353.20" width="3.00" height="12.25" fill="#ef6c22" stroke="none" stroke-width="1"/>
<rect x="632.50" y="353.20" width="2.50" height="12.25" fill="#f07522" stroke="none" stroke-width="1"/>
<rect x="635.00" y="353.20" width="1.50" height="12.25" fill="#f07522" stroke="none" stroke-width="1"/>
<rect x="636.50" y="353.20" width="3.00" height="12.25" fill="#f07522" stroke="none" stroke-width="1"/>
<rect x="639.50" y="353.20" width="1.50" height="12.25" fill="#ef6c22" stroke="none" stroke-width="1"/>
<rect x="641.00" y="353.20" width="1.00" height="12.25" fill="#f17c22" stroke="none" stroke-width="1"/>
</g>
<g shape-rendering="crispEdges">
<rect x="480.00" y="219.00" width="1.00" height="12.25" fill="#f6e41c" stroke="none" stroke-width="1"/>
<rect x="481.00" y="219.00" width="1.00" height="12.25" fill="#f3e61f" stroke="none" stroke-width="1"/>
<rect x="482.00" y="219.00" width="1.00" height="12.25" fill="#808080" stroke="none" stroke-width="1"/>
<rect x="483.00" y="219.00" width="1.00" height="12.25" fill="#808080" stroke="none" stroke-width="1"/>
<rect x="484.00" y="219.00" width="1.00" height="12.25" fill="#f6e41c" stroke="none" stroke-width="1"/>
<rect x="485.00" y="219.00" width="1.00" height="12.25" fill="#f3e61f" stroke="none" stroke-width="1"/>
<rect x="486.00" y="219.00" width="1.00" height="12.25" fill="#808080" stroke="none" stroke-width="1"/>
<rect x="487.00" y="219.00" width="1.00" height="12.25" fill="#808080" stroke="none" stroke-width="1"/>
<rect x="488.00" y="219.00" width="1.00" height="12.25" fill="#808080" stroke="none" stroke-width="1"/>
<rect x="489.00" y="219.00" width="1.00" height="12.25" fill="#808080" stroke="none" stroke-width="1"/>
<rect x="490.00" y="219.00" width="1.00" height="12.25" fill="#808080" stroke="none" stroke-width="1"/>
<rect x="491.00" y="219.00" width="1.00" height="12.25" fill="#808080" stroke="none" stroke-width="1"/>
<rect x="492.00" y="219.00" width="1.00" height="12.25" fill="#808080" stroke="none" stroke-width="1"/>
<rect x="493.00" y="219.00" width="1.00" height="12.25" fill="#808080" stroke="none" stroke-width="1"/>
<rect x="494.00" y="219.00" width="1.00" height="12.25" fill="#f5ea26" stroke="none" stroke-width="1"/>
<rect x="495.00" y="219.00" width="1.00" height="12.25" fill="#808080" stroke="none" stroke-width="1"/>
<rect x="496.00" y="219.00" width="1.00" height="12.25" fill="#f2e21e" stroke="none" stroke-width="1"/>
<rect x="497.00" y="219.00" width="1.00" height="12.25" fill="#f3e61f" stroke="none" stroke-width="1"/>
<rect x="498.00" y="219.00" width="1.00" height="12.25" fill="#808080" stroke="none" stroke-width="1"/>
<rect x="499.00" y="219.00" width="1.00" height="12.25" fill="#f5ea26" stroke="none" stroke-width="1"/>
<rect x="500.00" y="219.00" width="1.00" height="12.25" fill="#808080" stroke="none" stroke-width="1"/>
<rect x="501.00" y="219.00" width="1.00" height="12.25" fill="#808080" stroke="none" stroke-width="1"/>
<rect x="502.00" y="219.00" width="1.00" height="12.25" fill="#808080" stroke="none" stroke-width="1"/>
<rect x="503.00" y="219.00" width="1.00" height="12.25" fill="#808080" stroke="none" stroke-width="1"/>
<rect x="504.00" y="219.00" width="1.00" height="12.25" fill="#808080" stroke="none" stroke-width="1"/>
<rect x="505.00" y="219.00" width="1.00" height="12.25" fill="#808080" stroke="none" stroke-width="1"/>
<rect x="506.00" y="219.00" width="1.00" height="12.25" fill="#808080" stroke="none" stroke-width="1"/>
<rect x="507.00" y="219.00" width="1.00" height="12.25" fill="#808080" stroke="none" stroke-width="1"/>
<rect x="508.00" y="219.00" width="1.00" height="12.25" fill="#f2e21e" stroke="none" stroke-width="1"/>
<rect x="509.00" y="219.00" width="1.00" height="12.25" fill="#f3e61f" stroke="none" stroke-width="1"/>
<rect x="510.00" y="219.00" width="1.00" height="12.25" fill="#808080" stroke="none" stroke-width="1"/>
<rect x="511.00" y="219.00" width="1.00" height="12.25" fill="#f2e21e" stroke="none" stroke-width="1"/>
<rect x="512.00" y="219.00" width="1.00" height="12.25" fill="#f2e21e" stroke="none" stroke-width="1"/>
<rect x="513.00" y="219.00" width="1.00" height="12.25" fill="#f2e21e" stroke="none" stroke-width="1"/>
<rect x="514.00" y="219.00" width="1.00" height="12.25" fill="#f6e41c" stroke="none" stroke-width="1"/>
<rect x="515.00" y="219.00" width="1.00" height="12.25" fill="#808080" stroke="none" stroke-width="1"/>
<rect x="516.00" y="219.00" width="1.00" height="12.25" fill="#f2e21e" stroke="none" stroke-width="1"/>
<rect x="517.00" y="219.00" width="1.00" height="12.25" fill="#808080" stroke="none" stroke-width="1"/>
<rect x="518.00" y="219.00" width="1.00" height="12.25" fill="#808080" stroke="none" stroke-width="1"/>
<rect x="519.00" y="219.00" width="1.00" height="12.25" fill="#808080" stroke="none" stroke-width="1"/>
<rect x="520.00" y="219.00" width="1.00" height="12.25" fill="#808080" stroke="none" stroke-width="1"/>
<rect x="521.00" y="219.00" width="1.00" height="12.25" fill="#f2e21e" stroke="none" stroke-width="1"/>
<rect x="522.00" y="219.00" width="1.00" height="12.25" fill="#808080" stroke="none" stroke-width="1"/>
<rect x="523.00" y="219.00" width="1.00" height="12.25" fill="#808080" stroke="none" stroke-width="1"/>
<rect x="524.00" y="219.00" width="1.00" height="12.25" fill="#808080" stroke="none" stroke-width="1"/>
<rect x="525.00" y="219.00" width="1.00" height="12.25" fill="#808080" stroke="none" stroke-width="1"/>
<rect x="526.00" y="219.00" width="1.00" height="12.25" fill="#808080" stroke="none" stroke-width="1"/>
<rect x="527.00" y="219.00" width="1.00" height="12.25" fill="#808080" stroke="none" stroke-width="1"/>
<rect x="528.00" y="219.00" width="1.00" height="12.25" fill="#808080" stroke="none" stroke-width="1"/>
<rect x="529.00" y="219.00" width="1.00" height="12.25" fill="#f5ea26" stroke="none" stroke-width="1"/>
<rect x="530.00" y="219.00" width="1.00" height="12.25" fill="#f2e21e" stroke="none" stroke-width="1"/>
<rect x="531.00" y="219.00" width="1.00" height="12.25" fill="#808080" stroke="none" stroke-width="1"/>
<rect x="532.00" y="219.00" width="1.00" height="12.25" fill="#808080" stroke="none" stroke-width="1"/>
<rect x="533.00" y="219.00" width="1.00" height="12.25" fill="#f5ea26" stroke="none" stroke-width="1"/>
<rect x="534.00" y="219.00" width="1.00" height="12.25" fill="#808080" stroke="none" stroke-width="1"/>
<rect x="535.00" y="219.00" width="1.00" height="12.25" fill="#808080" stroke="none" stroke-width="1"/>
<rect x="536.00" y="219.00" width="1.00" height="12.25" fill="#f6e41c" stroke="none" stroke-width="1"/>
<rect x="537.00" y="219.00" width="1.00" height="12.25" fill="#f6e41c" stroke="none" stroke-width="1"/>
<rect x="538.00" y="219.00" width="1.00" height="12.25" fill="#f6e41c" stroke="none" stroke-width="1"/>
<rect x="539.00" y="219.00" width="1.00" height="12.25" fill="#f2e21e" stroke="none" stroke-width="1"/>
<rect x="540.00" y="219.00" width="1.00" height="12.25" fill="#f2e21e" stroke="none" stroke-width="1"/>
<rect x="541.00" y="219.00" width="1.00" height="12.25" fill="#808080" stroke="none" stroke-width="1"/>
<rect x="542.00" y="219.00" width="1.00" height="12.25" fill="#f6e41c" stroke="none" stroke-width="1"/>
<rect x="543.00" y="219.00" width="1.00" height="12.25" fill="#808080" stroke="none" stroke-width="1"/>
<rect x="544.00" y="219.00" width="1.00" height="12.25" fill="#808080" stroke="none" stroke-width="1"/>
<rect x="545.00" y="219.00" width="1.00" height="12.25" fill="#808080" stroke="none" stroke-width="1"/>
<rect x="546.00" y="219.00" width="1.00" height="12.25" fill="#f5ea26" stroke="none" stroke-width="1"/>
<rect x="547.00" y="219.00" width="1.00" height="12.25" fill="#808080" stroke="none" stroke-width="1"/>
<rect x="548.00" y="219.00" width="1.00" height="12.25" fill="#f5ea26" stroke="none" stroke-width="1"/>
<rect x="549.00" y="219.00" width="1.00" height="12.25" fill="#fad414" stroke="none" stroke-width="1"/>
<rect x="550.00" y="219.00" width="1.00" height="12.25" fill="#f2e21e" stroke="none" stroke-width="1"/>
<rect x="551.00" y="219.00" width="1.00" height="12.25" fill="#808080" stroke="none" stroke-width="1"/>
<rect x="552.00" y="219.00" width="1.00" height="12.25" fill="#808080" stroke="none" stroke-width="1"/>
<rect x="553.00" y="219.00" width="1.00" height="12.25" fill="#808080" stroke="none" stroke-width="1"/>
<rect x="554.00" y="219.00" width="1.00" height="12.25" fill="#808080" stroke="none" stroke-width="1"/>
<rect x="555.00" y="219.00" width="1.00" height="12.25" fill="#808080" stroke="none" stroke-width="1"/>
<rect x="556.00" y="219.00" width="1.00" height="12.25" fill="#808080" stroke="none" stroke-width="1"/>
<rect x="557.00" y="219.00" width="1.00" height="12.25" fill="#808080" stroke="none" stroke-width="1"/>
<rect x="558.00" y="219.00" width="1.00" height="12.25" fill="#f5ea26" stroke="none" stroke-width="1"/>
<rect x="559.00" y="219.00" width="1.00" height="12.25" fill="#f2e21e" stroke="none" stroke-width="1"/>
<rect x="480.00" y="231.20" width="1.00" height="12.25" fill="#f5ea26" stroke="none" stroke-width="1"/>
<rect x="481.00" y="231.20" width="1.00" height="12.25" fill="#f6e41c" stroke="none" stroke-width="1"/>
<rect x="482.00" y="231.20" width="1.00" height="12.25" fill="#808080" stroke="none" stroke-width="1"/>
<rect x="483.00" y="231.20" width="1.00" height="12.25" fill="#808080" stroke="none" stroke-width="1"/>
<rect x="484.00" y="231.20" width="1.00" height="12.25" fill="#f5ea26" stroke="none" stroke-width="1"/>
<rect x="485.00" y="231.20" width="1.00" height="12.25" fill="#f2e21e" stroke="none" stroke-width="1"/>
<rect x="486.00" y="231.20" width="1.00" height="12.25" fill="#808080" stroke="none" stroke-width="1"/>
<rect x="487.00" y="231.20" width="1.00" height="12.25" fill="#808080" stroke="none" stroke-width="1"/>
<rect x="488.00" y="231.20" width="1.00" height="12.25" fill="#808080" stroke="none" stroke-width="1"/>
<rect x="489.00" y="231.20" width="1.00" height="12.25" fill="#808080" stroke="none" stroke-width="1"/>
<rect x="490.00" y="231.20" width="1.00" height="12.25" fill="#808080" stroke="none" stroke-width="1"/>
<rect x="491.00" y="231.20" width="1.00" height="12.25" fill="#808080" stroke="none" stroke-width="1"/>
<rect x="492.00" y="231.20" width="1.00" height="12.25" fill="#808080" stroke="none" stroke-width="1"/>
<rect x="493.00" y="231.20" width="1.00" height="12.25" fill="#808080" stroke="none" stroke-width="1"/>
<rect x="494.00" y="231.20" width="1.00" height="12.25" fill="#808080" stroke="none" stroke-width="1"/>
<rect x="495.00" y="231.20" width="1.00" height="12.25" fill="#808080" stroke="none" stroke-width="1"/>
<rect x="496.00" y="231.20" width="1.00" height="12.25" fill="#f2e21e" stroke="none" stroke-width="1"/>
<rect x="497.00" y="231.20" width="1.00" height="12.25" fill="#f3e61f" stroke="none" stroke-width="1"/>
<rect x="498.00" y="231.20" width="1.00" height="12.25" fill="#808080" stroke="none" stroke-width="1"/>
<rect x="499.00" y="231.20" width="1.00" height="12.25" fill="#f3e61f" stroke="none" stroke-width="1"/>
<rect x="500.00" y="231.20" width="1.00" height="12.25" fill="#808080" stroke="none" stroke-width="1"/>
<rect x="501.00" y="231.20" width="1.00" height="12.25" fill="#808080" stroke="none" stroke-width="1"/>
<rect x="502.00" y="231.20" width="1.00" height="12.25" fill="#808080" stroke="none" stroke-width="1"/>
<rect x="503.00" y="231.20" width="1.00" height="12.25" fill="#808080" stroke="none" stroke-width="1"/>
<rect x="504.00" y="231.20" width="1.00" height="12.25" fill="#808080" stroke="none" stroke-width="1"/>
<rect x="505.00" y="231.20" width="1.00" height="12.25" fill="#808080" stroke="none" stroke-width="1"/>
<rect x="506.00" y="231.20" width="1.00" height="12.25" fill="#808080" stroke="none" stroke-width="1"/>
<rect x="507.00" y="231.20" width="1.00" height="12.25" fill="#808080" stroke="none" stroke-width="1"/>
<rect x="508.00" y="231.20" width="1.00" height="12.25" fill="#f2e21e" stroke="none" stroke-width="1"/>
<rect x="509.00" y="231.20" width="1.00" height="12.25" fill="#f6e41c" stroke="none" stroke-width="1"/>
<rect x="510.00" y="231.20" width="1.00" height="12.25" fill="#808080" stroke="none" stroke-width="1"/>
<rect x="511.00" y="231.20" width="1.00" height="12.25" fill="#808080" stroke="none" stroke-width="1"/>
<rect x="512.00" y="231.20" width="1.00" height="12.25" fill="#808080" stroke="none" stroke-width="1"/>
<rect x="513.00" y="231.20" width="1.00" height="12.25" fill="#808080" stroke="none" stroke-width="1"/>
<rect x="514.00" y="231.20" width="1.00" height="12.25" fill="#808080" stroke="none" stroke-width="1"/>
<rect x="515.00" y="231.20" width="1.00" height="12.25" fill="#808080" stroke="none" stroke-width="1"/>
<rect x="516.00" y="231.20" width="1.00" height="12.25" fill="#808080" stroke="none" stroke-width="1"/>
<rect x="517.00" y="231.20" width="1.00" height="12.25" fill="#808080" stroke="none" stroke-width="1"/>
<rect x="518.00" y="231.20" width="1.00" height="12.25" fill="#808080" stroke="none" stroke-width="1"/>
<rect x="519.00" y="231.20" width="1.00" height="12.25" fill="#808080" stroke="none" stroke-width="1"/>
<rect x="520.00" y="231.20" width="1.00" height="12.25" fill="#808080" stroke="none" stroke-width="1"/>
<rect x="521.00" y="231.20" width="1.00" height="12.25" fill="#808080" stroke="none" stroke-width="1"/>
<rect x="522.00" y="231.20" width="1.00" height="12.25" fill="#808080" stroke="none" stroke-width="1"/>
<rect x="523.00" y="231.20" width="1.00" height="12.25" fill="#808080" stroke="none" stroke-width="1"/>
<rect x="524.00" y="231.20" width="1.00" height="12.25" fill="#808080" stroke="none" stroke-width="1"/>
<rect x="525.00" y="231.20" width="1.00" height="12.25" fill="#808080" stroke="none" stroke-width="1"/>
<rect x="526.00" y="231.20" width="1.00" height="12.25" fill="#808080" stroke="none" stroke-width="1"/>
<rect x="527.00" y="231.20" width="1.00" height="12.25" fill="#808080" stroke="none" stroke-width="1"/>
<rect x="528.00" y="231.20" width="1.00" height="12.25" fill="#808080" stroke="none" stroke-width="1"/>
<rect x="529.00" y="231.20" width="1.00" height="12.25" fill="#f3e61f" stroke="none" stroke-width="1"/>
<rect x="530.00" y="231.20" width="1.00" height="12.25" fill="#f6e41c" stroke="none" stroke-width="1"/>
<rect x="531.00" y="231.20" width="1.00" height="12.25" fill="#808080" stroke="none" stroke-width="1"/>
<rect x="532.00" y="231.20" width="1.00" height="12.25" fill="#808080" stroke="none" stroke-width="1"/>
<rect x="533.00" y="231.20" width="1.00" height="12.25" fill="#808080" stroke="none" stroke-width="1"/>
<rect x="534.00" y="231.20" width="1.00" height="12.25" fill="#808080" stroke="none" stroke-width="1"/>
<rect x="535.00" y="231.20" width="1.00" height="12.25" fill="#808080" stroke="none" stroke-width="1"/>
<rect x="536.00" y="231.20" width="1.00" height="12.25" fill="#808080" stroke="none" stroke-width="1"/>
<rect x="537.00" y="231.20" width="1.00" height="12.25" fill="#808080" stroke="none" stroke-width="1"/>
<rect x="538.00" y="231.20" width="1.00" height="12.25" fill="#f6e41c" stroke="none" stroke-width="1"/>
<rect x="539.00" y="231.20" width="1.00" height="12.25" fill="#f3e61f" stroke="none" stroke-width="1"/>
<rect x="540.00" y="231.20" width="1.00" height="12.25" fill="#f6e41c" stroke="none" stroke-width="1"/>
<rect x="541.00" y="231.20" width="1.00" height="12.25" fill="#808080" stroke="none" stroke-width="1"/>
<rect x="542.00" y="231.20" width="1.00" height="12.25" fill="#f6e41c" stroke="none" stroke-width="1"/>
<rect x="543.00" y="231.20" width="1.00" height="12.25" fill="#808080" stroke="none" stroke-width="1"/>
<rect x="544.00" y="231.20" width="1.00" height="12.25" fill="#808080" stroke="none" stroke-width="1"/>
<rect x="545.00" y="231.20" width="1.00" height="12.25" fill="#808080" stroke="none" stroke-width="1"/>
<rect x="546.00" y="231.20" width="1.00" height="12.25" fill="#808080" stroke="none" stroke-width="1"/>
<rect x="547.00" y="231.20" width="1.00" height="12.25" fill="#808080" stroke="none" stroke-width="1"/>
<rect x="548.00" y="231.20" width="1.00" height="12.25" fill="#f2e21e" stroke="none" stroke-width="1"/>
<rect x="549.00" y="231.20" width="1.00" height="12.25" fill="#fad414" stroke="none" stroke-width="1"/>
<rect x="550.00" y="231.20" width="1.00" height="12.25" fill="#f6e41c" stroke="none" stroke-width="1"/>
<rect x="551.00" y="231.20" width="1.00" height="12.25" fill="#808080" stroke="none" stroke-width="1"/>
<rect x="552.00" y="231.20" width="1.00" height="12.25" fill="#808080" stroke="none" stroke-width="1"/>
<rect x="553.00" y="231.20" width="1.00" height="12.25" fill="#808080" stroke="none" stroke-width="1"/>
<rect x="554.00" y="231.20" width="1.00" height="12.25" fill="#808080" stroke="none" stroke-width="1"/>
<rect x="555.00" y="231.20" width="1.00" height="12.25" fill="#808080" stroke="none" stroke-width="1"/>
<rect x="556.00" y="231.20" width="1.00" height="12.25" fill="#808080" stroke="none" stroke-width="1"/>
<rect x="557.00" y="231.20" width="1.00" height="12.25" fill="#808080" stroke="none" stroke-width="1"/>
<rect x="558.00" y="231.20" width="1.00" height="12.25" fill="#f3e61f" stroke="none" stroke-width="1"/>
<rect x="559.00" y="231.20" width="1.00" height="12.25" fill="#f3e61f" stroke="none" stroke-width="1"/>
<rect x="480.00" y="243.40" width="1.00" height="12.25" fill="#f2e21e" stroke="none" stroke-width="1"/>
<rect x="481.00" y="243.40" width="1.00" height="12.25" fill="#f6e41c" stroke="none" stroke-width="1"/>
<rect x="482.00" y="243.40" width="1.00" height="12.25" fill="#808080" stroke="none" stroke-width="1"/>
<rect x="483.00" y="243.40" width="1.00" height="12.25" fill="#808080" stroke="none" stroke-width="1"/>
<rect x="484.00" y="243.40" width="1.00" height="12.25" fill="#808080" stroke="none" stroke-width="1"/>
<rect x="485.00" y="243.40" width="1.00" height="12.25" fill="#808080" stroke="none" stroke-width="1"/>
<rect x="486.00" y="243.40" width="1.00" height="12.25" fill="#808080" stroke="none" stroke-width="1"/>
<rect x="487.00" y="243.40" width="1.00" height="12.25" fill="#808080" stroke="none" stroke-width="1"/>
<rect x="488.00" y="243.40" width="1.00" height="12.25" fill="#808080" stroke="none" stroke-width="1"/>
<rect x="489.00" y="243.40" width="1.00" height="12.25" fill="#808080" stroke="none" stroke-width="1"/>
<rect x="490.00" y="243.40" width="1.00" height="12.25" fill="#808080" stroke="none" stroke-width="1"/>
<rect x="491.00" y="243.40" width="1.00" height="12.25" fill="#808080" stroke="none" stroke-width="1"/>
<rect x="492.00" y="243.40" width="1.00" height="12.25" fill="#808080" stroke="none" stroke-width="1"/>
<rect x="493.00" y="243.40" width="1.00" height="12.25" fill="#808080" stroke="none" stroke-width="1"/>
<rect x="494.00" y="243.40" width="1.00" height="12.25" fill="#808080" stroke="none" stroke-width="1"/>
<rect x="495.00" y="243.40" width="1.00" height="12.25" fill="#808080" stroke="none" stroke-width="1"/>
<rect x="496.00" y="243.40" width="1.00" height="12.25" fill="#f6e41c" stroke="none" stroke-width="1"/>
<rect x="497.00" y="243.40" width="1.00" height="12.25" fill="#808080" stroke="none" stroke-width="1"/>
<rect x="498.00" y="243.40" width="1.00" height="12.25" fill="#808080" stroke="none" stroke-width="1"/>
<rect x="499.00" y="243.40" width="1.00" height="12.25" fill="#808080" stroke="none" stroke-width="1"/>
<rect x="500.00" y="243.40" width="1.00" height="12.25" fill="#808080" stroke="none" stroke-width="1"/>
<rect x="501.00" y="243.40" width="1.00" height="12.25" fill="#808080" stroke="none" stroke-width="1"/>
<rect x="502.00" y="243.40" width="1.00" height="12.25" fill="#808080" stroke="none" stroke-width="1"/>
<rect x="503.00" y="243.40" width="1.00" height="12.25" fill="#808080" stroke="none" stroke-width="1"/>
<rect x="504.00" y="243.40" width="1.00" height="12.25" fill="#808080" stroke="none" stroke-width="1"/>
<rect x="505.00" y="243.40" width="1.00" height="12.25" fill="#808080" stroke="none" stroke-width="1"/>
<rect x="506.00" y="243.40" width="1.00" height="12.25" fill="#f3e61f" stroke="none" stroke-width="1"/>
<rect x="507.00" y="243.40" width="1.00" height="12.25" fill="#f5ea26" stroke="none" stroke-width="1"/>
<rect x="508.00" y="243.40" width="1.00" height="12.25" fill="#f3e61f" stroke="none" stroke-width="1"/>
<rect x="509.00" y="243.40" width="1.00" height="12.25" fill="#f2e21e" stroke="none" stroke-width="1"/>
<rect x="510.00" y="243.40" width="1.00" height="12.25" fill="#808080" stroke="none" stroke-width="1"/>
<rect x="511.00" y="243.40" width="1.00" height="12.25" fill="#808080" stroke="none" stroke-width="1"/>
<rect x="512.00" y="243.40" width="1.00" height="12.25" fill="#f6e41c" stroke="none" stroke-width="1"/>
<rect x="513.00" y="243.40" width="1.00" height="12.25" fill="#808080" stroke="none" stroke-width="1"/>
<rect x="514.00" y="243.40" width="1.00" height="12.25" fill="#f3e61f" stroke="none" stroke-width="1"/>
<rect x="515.00" y="243.40" width="1.00" height="12.25" fill="#808080" stroke="none" stroke-width="1"/>
<rect x="516.00" y="243.40" width="1.00" height="12.25" fill="#808080" stroke="none" stroke-width="1"/>
<rect x="517.00" y="243.40" width="1.00" height="12.25" fill="#808080" stroke="none" stroke-width="1"/>
<rect x="518.00" y="243.40" width="1.00" height="12.25" fill="#808080" stroke="none" stroke-width="1"/>
<rect x="519.00" y="243.40" width="1.00" height="12.25" fill="#808080" stroke="none" stroke-width="1"/>
<rect x="520.00" y="243.40" width="1.00" height="12.25" fill="#808080" stroke="none" stroke-width="1"/>
<rect x="521.00" y="243.40" width="1.00" height="12.25" fill="#808080" stroke="none" stroke-width="1"/>
<rect x="522.00" y="243.40" width="1.00" height="12.25" fill="#808080" stroke="none" stroke-width="1"/>
<rect x="523.00" y="243.40" width="1.00" height="12.25" fill="#f3e61f" stroke="none" stroke-width="1"/>
<rect x="524.00" y="243.40" width="1.00" height="12.25" fill="#808080" stroke="none" stroke-width="1"/>
<rect x="525.00" y="243.40" width="1.00" height="12.25" fill="#808080" stroke="none" stroke-width="1"/>
<rect x="526.00" y="243.40" width="1.00" height="12.25" fill="#808080" stroke="none" stroke-width="1"/>
<rect x="527.00" y="243.40" width="1.00" height="12.25" fill="#808080" stroke="none" stroke-width="1"/>
<rect x="528.00" y="243.40" width="1.00" height="12.25" fill="#808080" stroke="none" stroke-width="1"/>
<rect x="529.00" y="243.40" width="1.00" height="12.25" fill="#f2e21e" stroke="none" stroke-width="1"/>
<rect x="530.00" y="243.40" width="1.00" height="12.25" fill="#f3e61f" stroke="none" stroke-width="1"/>
<rect x="531.00" y="243.40" width="1.00" height="12.25" fill="#808080" stroke="none" stroke-width="1"/>
<rect x="532.00" y="243.40" width="1.00" height="12.25" fill="#808080" stroke="none" stroke-width="1"/>
<rect x="533.00" y="243.40" width="1.00" height="12.25" fill="#808080" stroke="none" stroke-width="1"/>
<rect x="534.00" y="243.40" width="1.00" height="12.25" fill="#808080" stroke="none" stroke-width="1"/>
<rect x="535.00" y="243.40" width="1.00" height="12.25" fill="#808080" stroke="none" stroke-width="1"/>
<rect x="536.00" y="243.40" width="1.00" height="12.25" fill="#808080" stroke="none" stroke-width="1"/>
<rect x="537.00" y="243.40" width="1.00" height="12.25" fill="#808080" stroke="none" stroke-width="1"/>
<rect x="538.00" y="243.40" width="1.00" height="12.25" fill="#f5ea26" stroke="none" stroke-width="1"/>
<rect x="539.00" y="243.40" width="1.00" height="12.25" fill="#f6e41c" stroke="none" stroke-width="1"/>
<rect x="540.00" y="243.40" width="1.00" height="12.25" fill="#f3e61f" stroke="none" stroke-width="1"/>
<rect x="541.00" y="243.40" width="1.00" height="12.25" fill="#808080" stroke="none" stroke-width="1"/>
<rect x="542.00" y="243.40" width="1.00" height="12.25" fill="#f2e21e" stroke="none" stroke-width="1"/>
<rect x="543.00" y="243.40" width="1.00" height="12.25" fill="#808080" stroke="none" stroke-width="1"/>
<rect x="544.00" y="243.40" width="1.00" height="12.25" fill="#808080" stroke="none" stroke-width="1"/>
<rect x="545.00" y="243.40" width="1.00" height="12.25" fill="#808080" stroke="none" stroke-width="1"/>
<rect x="546.00" y="243.40" width="1.00" height="12.25" fill="#808080" stroke="none" stroke-width="1"/>
<rect x="547.00" y="243.40" width="1.00" height="12.25" fill="#808080" stroke="none" stroke-width="1"/>
<rect x="548.00" y="243.40" width="1.00" height="12.25" fill="#f5ea26" stroke="none" stroke-width="1"/>
<rect x="549.00" y="243.40" width="1.00" height="12.25" fill="#f9c418" stroke="none" stroke-width="1"/>
<rect x="550.00" y="243.40" width="1.00" height="12.25" fill="#f6e41c" stroke="none" stroke-width="1"/>
<rect x="551.00" y="243.40" width="1.00" height="12.25" fill="#808080" stroke="none" stroke-width="1"/>
<rect x="552.00" y="243.40" width="1.00" height="12.25" fill="#808080" stroke="none" stroke-width="1"/>
<rect x="553.00" y="243.40" width="1.00" height="12.25" fill="#808080" stroke="none" stroke-width="1"/>
<rect x="554.00" y="243.40" width="1.00" height="12.25" fill="#808080" stroke="none" stroke-width="1"/>
<rect x="555.00" y="243.40" width="1.00" height="12.25" fill="#808080" stroke="none" stroke-width="1"/>
<rect x="556.00" y="243.40" width="1.00" height="12.25" fill="#808080" stroke="none" stroke-width="1"/>
<rect x="557.00" y="243.40" width="1.00" height="12.25" fill="#808080" stroke="none" stroke-width="1"/>
<rect x="558.00" y="243.40" width="1.00" height="12.25" fill="#f2e21e" stroke="none" stroke-width="1"/>
<rect x="559.00" y="243.40" width="1.00" height="12.25" fill="#f3e61f" stroke="none" stroke-width="1"/>
<rect x="480.00" y="255.60" width="1.00" height="12.25" fill="#f3e61f" stroke="none" stroke-width="1"/>
<rect x="481.00" y="255.60" width="1.00" height="12.25" fill="#f6e41c" stroke="none" stroke-width="1"/>
<rect x="482.00" y="255.60" width="1.00" height="12.25" fill="#808080" stroke="none" stroke-width="1"/>
<rect x="483.00" y="255.60" width="1.00" height="12.25" fill="#808080" stroke="none" stroke-width="1"/>
<rect x="484.00" y="255.60" width="1.00" height="12.25" fill="#808080" stroke="none" stroke-width="1"/>
<rect x="485.00" y="255.60" width="1.00" height="12.25" fill="#808080" stroke="none" stroke-width="1"/>
<rect x="486.00" y="255.60" width="1.00" height="12.25" fill="#808080" stroke="none" stroke-width="1"/>
<rect x="487.00" y="255.60" width="1.00" height="12.25" fill="#808080" stroke="none" stroke-width="1"/>
<rect x="488.00" y="255.60" width="1.00" height="12.25" fill="#808080" stroke="none" stroke-width="1"/>
<rect x="489.00" y="255.60" width="1.00" height="12.25" fill="#808080" stroke="none" stroke-width="1"/>
<rect x="490.00" y="255.60" width="1.00" height="12.25" fill="#808080" stroke="none" stroke-width="1"/>
<rect x="491.00" y="255.60" width="1.00" height="12.25" fill="#808080" stroke="none" stroke-width="1"/>
<rect x="492.00" y="255.60" width="1.00" height="12.25" fill="#808080" stroke="none" stroke-width="1"/>
<rect x="493.00" y="255.60" width="1.00" height="12.25" fill="#808080" stroke="none" stroke-width="1"/>
<rect x="494.00" y="255.60" width="1.00" height="12.25" fill="#808080" stroke="none" stroke-width="1"/>
<rect x="495.00" y="255.60" width="1.00" height="12.25" fill="#808080" stroke="none" stroke-width="1"/>
<rect x="496.00" y="255.60" width="1.00" height="12.25" fill="#f6e41c" stroke="none" stroke-width="1"/>
<rect x="497.00" y="255.60" width="1.00" height="12.25" fill="#808080" stroke="none" stroke-width="1"/>
<rect x="498.00" y="255.60" width="1.00" height="12.25" fill="#808080" stroke="none" stroke-width="1"/>
<rect x="499.00" y="255.60" width="1.00" height="12.25" fill="#f5ea26" stroke="none" stroke-width="1"/>
<rect x="500.00" y="255.60" width="1.00" height="12.25" fill="#808080" stroke="none" stroke-width="1"/>
<rect x="501.00" y="255.60" width="1.00" height="12.25" fill="#808080" stroke="none" stroke-width="1"/>
<rect x="502.00" y="255.60" width="1.00" height="12.25" fill="#808080" stroke="none" stroke-width="1"/>
<rect x="503.00" y="255.60" width="1.00" height="12.25" fill="#808080" stroke="none" stroke-width="1"/>
<rect x="504.00" y="255.60" width="1.00" height="12.25" fill="#808080" stroke="none" stroke-width="1"/>
<rect x="505.00" y="255.60" width="1.00" height="12.25" fill="#808080" stroke="none" stroke-width="1"/>
<rect x="506.00" y="255.60" width="1.00" height="12.25" fill="#f2e21e" stroke="none" stroke-width="1"/>
<rect x="507.00" y="255.60" width="1.00" height="12.25" fill="#f2e21e" stroke="none" stroke-width="1"/>
<rect x="508.00" y="255.60" width="1.00" height="12.25" fill="#f2e21e" stroke="none" stroke-width="1"/>
<rect x="509.00" y="255.60" width="1.00" height="12.25" fill="#f5ea26" stroke="none" stroke-width="1"/>
<rect x="510.00" y="255.60" width="1.00" height="12.25" fill="#808080" stroke="none" stroke-width="1"/>
<rect x="511.00" y="255.60" width="1.00" height="12.25" fill="#808080" stroke="none" stroke-width="1"/>
<rect x="512.00" y="255.60" width="1.00" height="12.25" fill="#f5ea26" stroke="none" stroke-width="1"/>
<rect x="513.00" y="255.60" width="1.00" height="12.25" fill="#808080" stroke="none" stroke-width="1"/>
<rect x="514.00" y="255.60" width="1.00" height="12.25" fill="#f6e41c" stroke="none" stroke-width="1"/>
<rect x="515.00" y="255.60" width="1.00" height="12.25" fill="#808080" stroke="none" stroke-width="1"/>
<rect x="516.00" y="255.60" width="1.00" height="12.25" fill="#f2e21e" stroke="none" stroke-width="1"/>
<rect x="517.00" y="255.60" width="1.00" height="12.25" fill="#808080" stroke="none" stroke-width="1"/>
<rect x="518.00" y="255.60" width="1.00" height="12.25" fill="#808080" stroke="none" stroke-width="1"/>
<rect x="519.00" y="255.60" width="1.00" height="12.25" fill="#f5ea26" stroke="none" stroke-width="1"/>
<rect x="520.00" y="255.60" width="1.00" height="12.25" fill="#808080" stroke="none" stroke-width="1"/>
<rect x="521.00" y="255.60" width="1.00" height="12.25" fill="#808080" stroke="none" stroke-width="1"/>
<rect x="522.00" y="255.60" width="1.00" height="12.25" fill="#808080" stroke="none" stroke-width="1"/>
<rect x="523.00" y="255.60" width="1.00" height="12.25" fill="#f5ea26" stroke="none" stroke-width="1"/>
<rect x="524.00" y="255.60" width="1.00" height="12.25" fill="#808080" stroke="none" stroke-width="1"/>
<rect x="525.00" y="255.60" width="1.00" height="12.25" fill="#808080" stroke="none" stroke-width="1"/>
<rect x="526.00" y="255.60" width="1.00" height="12.25" fill="#808080" stroke="none" stroke-width="1"/>
<rect x="527.00" y="255.60" width="1.00" height="12.25" fill="#808080" stroke="none" stroke-width="1"/>
<rect x="528.00" y="255.60" width="1.00" height="12.25" fill="#808080" stroke="none" stroke-width="1"/>
<rect x="529.00" y="255.60" width="1.00" height="12.25" fill="#f2e21e" stroke="none" stroke-width="1"/>
<rect x="530.00" y="255.60" width="1.00" height="12.25" fill="#808080" stroke="none" stroke-width="1"/>
<rect x="531.00" y="255.60" width="1.00" height="12.25" fill="#808080" stroke="none" stroke-width="1"/>
<rect x="532.00" y="255.60" width="1.00" height="12.25" fill="#808080" stroke="none" stroke-width="1"/>
<rect x="533.00" y="255.60" width="1.00" height="12.25" fill="#808080" stroke="none" stroke-width="1"/>
<rect x="534.00" y="255.60" width="1.00" height="12.25" fill="#808080" stroke="none" stroke-width="1"/>
<rect x="535.00" y="255.60" width="1.00" height="12.25" fill="#808080" stroke="none" stroke-width="1"/>
<rect x="536.00" y="255.60" width="1.00" height="12.25" fill="#f2e21e" stroke="none" stroke-width="1"/>
<rect x="537.00" y="255.60" width="1.00" height="12.25" fill="#f5ea26" stroke="none" stroke-width="1"/>
<rect x="538.00" y="255.60" width="1.00" height="12.25" fill="#f3e61f" stroke="none" stroke-width="1"/>
<rect x="539.00" y="255.60" width="1.00" height="12.25" fill="#f6e41c" stroke="none" stroke-width="1"/>
<rect x="540.00" y="255.60" width="1.00" height="12.25" fill="#f2e21e" stroke="none" stroke-width="1"/>
<rect x="541.00" y="255.60" width="1.00" height="12.25" fill="#f5ea26" stroke="none" stroke-width="1"/>
<rect x="542.00" y="255.60" width="1.00" height="12.25" fill="#f3e61f" stroke="none" stroke-width="1"/>
<rect x="543.00" y="255.60" width="1.00" height="12.25" fill="#808080" stroke="none" stroke-width="1"/>
<rect x="544.00" y="255.60" width="1.00" height="12.25" fill="#808080" stroke="none" stroke-width="1"/>
<rect x="545.00" y="255.60" width="1.00" height="12.25" fill="#808080" stroke="none" stroke-width="1"/>
<rect x="546.00" y="255.60" width="1.00" height="12.25" fill="#808080" stroke="none" stroke-width="1"/>
<rect x="547.00" y="255.60" width="1.00" height="12.25" fill="#808080" stroke="none" stroke-width="1"/>
<rect x="548.00" y="255.60" width="1.00" height="12.25" fill="#f3e61f" stroke="none" stroke-width="1"/>
<rect x="549.00" y="255.60" width="1.00" height="12.25" fill="#f8bc19" stroke="none" stroke-width="1"/>
<rect x="550.00" y="255.60" width="1.00" height="12.25" fill="#f6e41c" stroke="none" stroke-width="1"/>
<rect x="551.00" y="255.60" width="1.00" height="12.25" fill="#808080" stroke="none" stroke-width="1"/>
<rect x="552.00" y="255.60" width="1.00" height="12.25" fill="#808080" stroke="none" stroke-width="1"/>
<rect x="553.00" y="255.60" width="1.00" height="12.25" fill="#808080" stroke="none" stroke-width="1"/>
<rect x="554.00" y="255.60" width="1.00" height="12.25" fill="#808080" stroke="none" stroke-width="1"/>
<rect x="555.00" y="255.60" width="1.00" height="12.25" fill="#808080" stroke="none" stroke-width="1"/>
<rect x="556.00" y="255.60" width="1.00" height="12.25" fill="#808080" stroke="none" stroke-width="1"/>
<rect x="557.00" y="255.60" width="1.00" height="12.25" fill="#808080" stroke="none" stroke-width="1"/>
<rect x="558.00" y="255.60" width="1.00" height="12.25" fill="#f6e41c" stroke="none" stroke-width="1"/>
<rect x="559.00" y="255.60" width="1.00" height="12.25" fill="#f3e61f" stroke="none" stroke-width="1"/>
<rect x="480.00" y="267.80" width="1.00" height="12.25" fill="#f5ea26" stroke="none" stroke-width="1"/>
<rect x="481.00" y="267.80" width="1.00" height="12.25" fill="#f3e61f" stroke="none" stroke-width="1"/>
<rect x="482.00" y="267.80" width="1.00" height="12.25" fill="#808080" stroke="none" stroke-width="1"/>
<rect x="483.00" y="267.80" width="1.00" height="12.25" fill="#808080" stroke="none" stroke-width="1"/>
<rect x="484.00" y="267.80" width="1.00" height="12.25" fill="#f2e21e" stroke="none" stroke-width="1"/>
<rect x="485.00" y="267.80" width="1.00" height="12.25" fill="#f2e21e" stroke="none" stroke-width="1"/>
<rect x="486.00" y="267.80" width="1.00" height="12.25" fill="#808080" stroke="none" stroke-width="1"/>
<rect x="487.00" y="267.80" width="1.00" height="12.25" fill="#808080" stroke="none" stroke-width="1"/>
<rect x="488.00" y="267.80" width="1.00" height="12.25" fill="#808080" stroke="none" stroke-width="1"/>
<rect x="489.00" y="267.80" width="1.00" height="12.25" fill="#808080" stroke="none" stroke-width="1"/>
<rect x="490.00" y="267.80" width="1.00" height="12.25" fill="#808080" stroke="none" stroke-width="1"/>
<rect x="491.00" y="267.80" width="1.00" height="12.25" fill="#808080" stroke="none" stroke-width="1"/>
<rect x="492.00" y="267.80" width="1.00" height="12.25" fill="#808080" stroke="none" stroke-width="1"/>
<rect x="493.00" y="267.80" width="1.00" height="12.25" fill="#808080" stroke="none" stroke-width="1"/>
<rect x="494.00" y="267.80" width="1.00" height="12.25" fill="#808080" stroke="none" stroke-width="1"/>
<rect x="495.00" y="267.80" width="1.00" height="12.25" fill="#808080" stroke="none" stroke-width="1"/>
<rect x="496.00" y="267.80" width="1.00" height="12.25" fill="#f6e41c" stroke="none" stroke-width="1"/>
<rect x="497.00" y="267.80" width="1.00" height="12.25" fill="#808080" stroke="none" stroke-width="1"/>
<rect x="498.00" y="267.80" width="1.00" height="12.25" fill="#808080" stroke="none" stroke-width="1"/>
<rect x="499.00" y="267.80" width="1.00" height="12.25" fill="#f2e21e" stroke="none" stroke-width="1"/>
<rect x="500.00" y="267.80" width="1.00" height="12.25" fill="#808080" stroke="none" stroke-width="1"/>
<rect x="501.00" y="267.80" width="1.00" height="12.25" fill="#808080" stroke="none" stroke-width="1"/>
<rect x="502.00" y="267.80" width="1.00" height="12.25" fill="#808080" stroke="none" stroke-width="1"/>
<rect x="503.00" y="267.80" width="1.00" height="12.25" fill="#808080" stroke="none" stroke-width="1"/>
<rect x="504.00" y="267.80" width="1.00" height="12.25" fill="#808080" stroke="none" stroke-width="1"/>
<rect x="505.00" y="267.80" width="1.00" height="12.25" fill="#808080" stroke="none" stroke-width="1"/>
<rect x="506.00" y="267.80" width="1.00" height="12.25" fill="#808080" stroke="none" stroke-width="1"/>
<rect x="507.00" y="267.80" width="1.00" height="12.25" fill="#808080" stroke="none" stroke-width="1"/>
<rect x="508.00" y="267.80" width="1.00" height="12.25" fill="#f2e21e" stroke="none" stroke-width="1"/>
<rect x="509.00" y="267.80" width="1.00" height="12.25" fill="#f5ea26" stroke="none" stroke-width="1"/>
<rect x="510.00" y="267.80" width="1.00" height="12.25" fill="#808080" stroke="none" stroke-width="1"/>
<rect x="511.00" y="267.80" width="1.00" height="12.25" fill="#808080" stroke="none" stroke-width="1"/>
<rect x="512.00" y="267.80" width="1.00" height="12.25" fill="#f2e21e" stroke="none" stroke-width="1"/>
<rect x="513.00" y="267.80" width="1.00" height="12.25" fill="#808080" stroke="none" stroke-width="1"/>
<rect x="514.00" y="267.80" width="1.00" height="12.25" fill="#f5ea26" stroke="none" stroke-width="1"/>
<rect x="515.00" y="267.80" width="1.00" height="12.25" fill="#808080" stroke="none" stroke-width="1"/>
<rect x="516.00" y="267.80" width="1.00" height="12.25" fill="#f3e61f" stroke="none" stroke-width="1"/>
<rect x="517.00" y="267.80" width="1.00" height="12.25" fill="#808080" stroke="none" stroke-width="1"/>
<rect x="518.00" y="267.80" width="1.00" height="12.25" fill="#808080" stroke="none" stroke-width="1"/>
<rect x="519.00" y="267.80" width="1.00" height="12.25" fill="#f6e41c" stroke="none" stroke-width="1"/>
<rect x="520.00" y="267.80" width="1.00" height="12.25" fill="#808080" stroke="none" stroke-width="1"/>
<rect x="521.00" y="267.80" width="1.00" height="12.25" fill="#808080" stroke="none" stroke-width="1"/>
<rect x="522.00" y="267.80" width="1.00" height="12.25" fill="#808080" stroke="none" stroke-width="1"/>
<rect x="523.00" y="267.80" width="1.00" height="12.25" fill="#f6e41c" stroke="none" stroke-width="1"/>
<rect x="524.00" y="267.80" width="1.00" height="12.25" fill="#808080" stroke="none" stroke-width="1"/>
<rect x="525.00" y="267.80" width="1.00" height="12.25" fill="#808080" stroke="none" stroke-width="1"/>
<rect x="526.00" y="267.80" width="1.00" height="12.25" fill="#808080" stroke="none" stroke-width="1"/>
<rect x="527.00" y="267.80" width="1.00" height="12.25" fill="#808080" stroke="none" stroke-width="1"/>
<rect x="528.00" y="267.80" width="1.00" height="12.25" fill="#808080" stroke="none" stroke-width="1"/>
<rect x="529.00" y="267.80" width="1.00" height="12.25" fill="#f6e41c" stroke="none" stroke-width="1"/>
<rect x="530.00" y="267.80" width="1.00" height="12.25" fill="#808080" stroke="none" stroke-width="1"/>
<rect x="531.00" y="267.80" width="1.00" height="12.25" fill="#808080" stroke="none" stroke-width="1"/>
<rect x="532.00" y="267.80" width="1.00" height="12.25" fill="#808080" stroke="none" stroke-width="1"/>
<rect x="533.00" y="267.80" width="1.00" height="12.25" fill="#f3e61f" stroke="none" stroke-width="1"/>
<rect x="534.00" y="267.80" width="1.00" height="12.25" fill="#808080" stroke="none" stroke-width="1"/>
<rect x="535.00" y="267.80" width="1.00" height="12.25" fill="#808080" stroke="none" stroke-width="1"/>
<rect x="536.00" y="267.80" width="1.00" height="12.25" fill="#f2e21e" stroke="none" stroke-width="1"/>
<rect x="537.00" y="267.80" width="1.00" height="12.25" fill="#f6e41c" stroke="none" stroke-width="1"/>
<rect x="538.00" y="267.80" width="1.00" height="12.25" fill="#f6e41c" stroke="none" stroke-width="1"/>
<rect x="539.00" y="267.80" width="1.00" height="12.25" fill="#f5ea26" stroke="none" stroke-width="1"/>
<rect x="540.00" y="267.80" width="1.00" height="12.25" fill="#f6e41c" stroke="none" stroke-width="1"/>
<rect x="541.00" y="267.80" width="1.00" height="12.25" fill="#f2e21e" stroke="none" stroke-width="1"/>
<rect x="542.00" y="267.80" width="1.00" height="12.25" fill="#f3e61f" stroke="none" stroke-width="1"/>
<rect x="543.00" y="267.80" width="1.00" height="12.25" fill="#808080" stroke="none" stroke-width="1"/>
<rect x="544.00" y="267.80" width="1.00" height="12.25" fill="#808080" stroke="none" stroke-width="1"/>
<rect x="545.00" y="267.80" width="1.00" height="12.25" fill="#808080" stroke="none" stroke-width="1"/>
<rect x="546.00" y="267.80" width="1.00" height="12.25" fill="#808080" stroke="none" stroke-width="1"/>
<rect x="547.00" y="267.80" width="1.00" height="12.25" fill="#808080" stroke="none" stroke-width="1"/>
<rect x="548.00" y="267.80" width="1.00" height="12.25" fill="#f3e61f" stroke="none" stroke-width="1"/>
<rect x="549.00" y="267.80" width="1.00" height="12.25" fill="#f9cd16" stroke="none" stroke-width="1"/>
<rect x="550.00" y="267.80" width="1.00" height="12.25" fill="#f6e41c" stroke="none" stroke-width="1"/>
<rect x="551.00" y="267.80" width="1.00" height="12.25" fill="#808080" stroke="none" stroke-width="1"/>
<rect x="552.00" y="267.80" width="1.00" height="12.25" fill="#808080" stroke="none" stroke-width="1"/>
<rect x="553.00" y="267.80" width="1.00" height="12.25" fill="#808080" stroke="none" stroke-width="1"/>
<rect x="554.00" y="267.80" width="1.00" height="12.25" fill="#808080" stroke="none" stroke-width="1"/>
<rect x="555.00" y="267.80" width="1.00" height="12.25" fill="#808080" stroke="none" stroke-width="1"/>
<rect x="556.00" y="267.80" width="1.00" height="12.25" fill="#808080" stroke="none" stroke-width="1"/>
<rect x="557.00" y="267.80" width="1.00" height="12.25" fill="#808080" stroke="none" stroke-width="1"/>
<rect x="558.00" y="267.80" width="1.00" height="12.25" fill="#f5ea26" stroke="none" stroke-width="1"/>
<rect x="559.00" y="267.80" width="1.00" height="12.25" fill="#f5ea26" stroke="none" stroke-width="1"/>
<rect x="480.00" y="280.00" width="1.00" height="12.25" fill="#f3e61f" stroke="none" stroke-width="1"/>
<rect x="481.00" y="280.00" width="1.00" height="12.25" fill="#f5ea26" stroke="none" stroke-width="1"/>
<rect x="482.00" y="280.00" width="1.00" height="12.25" fill="#808080" stroke="none" stroke-width="1"/>
<rect x="483.00" y="280.00" width="1.00" height="12.25" fill="#808080" stroke="none" stroke-width="1"/>
<rect x="484.00" y="280.00" width="1.00" height="12.25" fill="#808080" stroke="none" stroke-width="1"/>
<rect x="485.00" y="280.00" width="1.00" height="12.25" fill="#808080" stroke="none" stroke-width="1"/>
<rect x="486.00" y="280.00" width="1.00" height="12.25" fill="#808080" stroke="none" stroke-width="1"/>
<rect x="487.00" y="280.00" width="1.00" height="12.25" fill="#808080" stroke="none" stroke-width="1"/>
<rect x="488.00" y="280.00" width="1.00" height="12.25" fill="#808080" stroke="none" stroke-width="1"/>
<rect x="489.00" y="280.00" width="1.00" height="12.25" fill="#808080" stroke="none" stroke-width="1"/>
<rect x="490.00" y="280.00" width="1.00" height="12.25" fill="#808080" stroke="none" stroke-width="1"/>
<rect x="491.00" y="280.00" width="1.00" height="12.25" fill="#808080" stroke="none" stroke-width="1"/>
<rect x="492.00" y="280.00" width="1.00" height="12.25" fill="#808080" stroke="none" stroke-width="1"/>
<rect x="493.00" y="280.00" width="1.00" height="12.25" fill="#808080" stroke="none" stroke-width="1"/>
<rect x="494.00" y="280.00" width="1.00" height="12.25" fill="#808080" stroke="none" stroke-width="1"/>
<rect x="495.00" y="280.00" width="1.00" height="12.25" fill="#808080" stroke="none" stroke-width="1"/>
<rect x="496.00" y="280.00" width="1.00" height="12.25" fill="#f6e41c" stroke="none" stroke-width="1"/>
<rect x="497.00" y="280.00" width="1.00" height="12.25" fill="#808080" stroke="none" stroke-width="1"/>
<rect x="498.00" y="280.00" width="1.00" height="12.25" fill="#808080" stroke="none" stroke-width="1"/>
<rect x="499.00" y="280.00" width="1.00" height="12.25" fill="#f2e21e" stroke="none" stroke-width="1"/>
<rect x="500.00" y="280.00" width="1.00" height="12.25" fill="#808080" stroke="none" stroke-width="1"/>
<rect x="501.00" y="280.00" width="1.00" height="12.25" fill="#808080" stroke="none" stroke-width="1"/>
<rect x="502.00" y="280.00" width="1.00" height="12.25" fill="#808080" stroke="none" stroke-width="1"/>
<rect x="503.00" y="280.00" width="1.00" height="12.25" fill="#808080" stroke="none" stroke-width="1"/>
<rect x="504.00" y="280.00" width="1.00" height="12.25" fill="#808080" stroke="none" stroke-width="1"/>
<rect x="505.00" y="280.00" width="1.00" height="12.25" fill="#808080" stroke="none" stroke-width="1"/>
<rect x="506.00" y="280.00" width="1.00" height="12.25" fill="#808080" stroke="none" stroke-width="1"/>
<rect x="507.00" y="280.00" width="1.00" height="12.25" fill="#808080" stroke="none" stroke-width="1"/>
<rect x="508.00" y="280.00" width="1.00" height="12.25" fill="#f6e41c" stroke="none" stroke-width="1"/>
<rect x="509.00" y="280.00" width="1.00" height="12.25" fill="#f2e21e" stroke="none" stroke-width="1"/>
<rect x="510.00" y="280.00" width="1.00" height="12.25" fill="#808080" stroke="none" stroke-width="1"/>
<rect x="511.00" y="280.00" width="1.00" height="12.25" fill="#808080" stroke="none" stroke-width="1"/>
<rect x="512.00" y="280.00" width="1.00" height="12.25" fill="#f5ea26" stroke="none" stroke-width="1"/>
<rect x="513.00" y="280.00" width="1.00" height="12.25" fill="#808080" stroke="none" stroke-width="1"/>
<rect x="514.00" y="280.00" width="1.00" height="12.25" fill="#f3e61f" stroke="none" stroke-width="1"/>
<rect x="515.00" y="280.00" width="1.00" height="12.25" fill="#808080" stroke="none" stroke-width="1"/>
<rect x="516.00" y="280.00" width="1.00" height="12.25" fill="#f2e21e" stroke="none" stroke-width="1"/>
<rect x="517.00" y="280.00" width="1.00" height="12.25" fill="#808080" stroke="none" stroke-width="1"/>
<rect x="518.00" y="280.00" width="1.00" height="12.25" fill="#808080" stroke="none" stroke-width="1"/>
<rect x="519.00" y="280.00" width="1.00" height="12.25" fill="#f3e61f" stroke="none" stroke-width="1"/>
<rect x="520.00" y="280.00" width="1.00" height="12.25" fill="#808080" stroke="none" stroke-width="1"/>
<rect x="521.00" y="280.00" width="1.00" height="12.25" fill="#808080" stroke="none" stroke-width="1"/>
<rect x="522.00" y="280.00" width="1.00" height="12.25" fill="#808080" stroke="none" stroke-width="1"/>
<rect x="523.00" y="280.00" width="1.00" height="12.25" fill="#808080" stroke="none" stroke-width="1"/>
<rect x="524.00" y="280.00" width="1.00" height="12.25" fill="#808080" stroke="none" stroke-width="1"/>
<rect x="525.00" y="280.00" width="1.00" height="12.25" fill="#808080" stroke="none" stroke-width="1"/>
<rect x="526.00" y="280.00" width="1.00" height="12.25" fill="#808080" stroke="none" stroke-width="1"/>
<rect x="527.00" y="280.00" width="1.00" height="12.25" fill="#808080" stroke="none" stroke-width="1"/>
<rect x="528.00" y="280.00" width="1.00" height="12.25" fill="#808080" stroke="none" stroke-width="1"/>
<rect x="529.00" y="280.00" width="1.00" height="12.25" fill="#f2e21e" stroke="none" stroke-width="1"/>
<rect x="530.00" y="280.00" width="1.00" height="12.25" fill="#808080" stroke="none" stroke-width="1"/>
<rect x="531.00" y="280.00" width="1.00" height="12.25" fill="#808080" stroke="none" stroke-width="1"/>
<rect x="532.00" y="280.00" width="1.00" height="12.25" fill="#808080" stroke="none" stroke-width="1"/>
<rect x="533.00" y="280.00" width="1.00" height="12.25" fill="#f2e21e" stroke="none" stroke-width="1"/>
<rect x="534.00" y="280.00" width="1.00" height="12.25" fill="#808080" stroke="none" stroke-width="1"/>
<rect x="535.00" y="280.00" width="1.00" height="12.25" fill="#808080" stroke="none" stroke-width="1"/>
<rect x="536.00" y="280.00" width="1.00" height="12.25" fill="#f3e61f" stroke="none" stroke-width="1"/>
<rect x="537.00" y="280.00" width="1.00" height="12.25" fill="#f3e61f" stroke="none" stroke-width="1"/>
<rect x="538.00" y="280.00" width="1.00" height="12.25" fill="#f2e21e" stroke="none" stroke-width="1"/>
<rect x="539.00" y="280.00" width="1.00" height="12.25" fill="#f2e21e" stroke="none" stroke-width="1"/>
<rect x="540.00" y="280.00" width="1.00" height="12.25" fill="#f6e41c" stroke="none" stroke-width="1"/>
<rect x="541.00" y="280.00" width="1.00" height="12.25" fill="#f3e61f" stroke="none" stroke-width="1"/>
<rect x="542.00" y="280.00" width="1.00" height="12.25" fill="#f2e21e" stroke="none" stroke-width="1"/>
<rect x="543.00" y="280.00" width="1.00" height="12.25" fill="#808080" stroke="none" stroke-width="1"/>
<rect x="544.00" y="280.00" width="1.00" height="12.25" fill="#808080" stroke="none" stroke-width="1"/>
<rect x="545.00" y="280.00" width="1.00" height="12.25" fill="#808080" stroke="none" stroke-width="1"/>
<rect x="546.00" y="280.00" width="1.00" height="12.25" fill="#808080" stroke="none" stroke-width="1"/>
<rect x="547.00" y="280.00" width="1.00" height="12.25" fill="#808080" stroke="none" stroke-width="1"/>
<rect x="548.00" y="280.00" width="1.00" height="12.25" fill="#f3e61f" stroke="none" stroke-width="1"/>
<rect x="549.00" y="280.00" width="1.00" height="12.25" fill="#f8bc19" stroke="none" stroke-width="1"/>
<rect x="550.00" y="280.00" width="1.00" height="12.25" fill="#f5ea26" stroke="none" stroke-width="1"/>
<rect x="551.00" y="280.00" width="1.00" height="12.25" fill="#808080" stroke="none" stroke-width="1"/>
<rect x="552.00" y="280.00" width="1.00" height="12.25" fill="#808080" stroke="none" stroke-width="1"/>
<rect x="553.00" y="280.00" width="1.00" height="12.25" fill="#808080" stroke="none" stroke-width="1"/>
<rect x="554.00" y="280.00" width="1.00" height="12.25" fill="#808080" stroke="none" stroke-width="1"/>
<rect x="555.00" y="280.00" width="1.00" height="12.25" fill="#808080" stroke="none" stroke-width="1"/>
<rect x="556.00" y="280.00" width="1.00" height="12.25" fill="#808080" stroke="none" stroke-width="1"/>
<rect x="557.00" y="280.00" width="1.00" height="12.25" fill="#808080" stroke="none" stroke-width="1"/>
<rect x="558.00" y="280.00" width="1.00" height="12.25" fill="#f6e41c" stroke="none" stroke-width="1"/>
<rect x="559.00" y="280.00" width="1.00" height="12.25" fill="#f3e61f" stroke="none" stroke-width="1"/>
</g>
<line x1="332.00" y1="225.30" x2="353.80" y2="225.30" stroke="#444" stroke-width="0.9"/>
<line x1="332.00" y1="237.49" x2="353.80" y2="237.49" stroke="#444" stroke-width="0.9"/>
<line x1="332.00" y1="225.30" x2="332.00" y2="237.49" stroke="#444" stroke-width="0.9"/>
<line x1="341.80" y1="249.68" x2="353.80" y2="249.68" stroke="#444" stroke-width="0.9"/>
<line x1="341.80" y1="261.87" x2="353.80" y2="261.87" stroke="#444" stroke-width="0.9"/>
<line x1="341.80" y1="249.68" x2="341.80" y2="261.87" stroke="#444" stroke-width="0.9"/>
<line x1="339.10" y1="274.06" x2="353.80" y2="274.06" stroke="#444" stroke-width="0.9"/>
<line x1="339.10" y1="286.25" x2="353.80" y2="286.25" stroke="#444" stroke-width="0.9"/>
<line x1="339.10" y1="274.06" x2="339.10" y2="286.25" stroke="#444" stroke-width="0.9"/>
<line x1="337.20" y1="255.78" x2="341.80" y2="255.78" stroke="#444" stroke-width="0.9"/>
<line x1="337.20" y1="280.15" x2="339.10" y2="280.15" stroke="#444" stroke-width="0.9"/>
<line x1="337.20" y1="255.78" x2="337.20" y2="280.15" stroke="#444" stroke-width="0.9"/>
<line x1="330.80" y1="231.40" x2="332.00" y2="231.40" stroke="#444" stroke-width="0.9"/>
<line x1="330.80" y1="267.96" x2="337.20" y2="267.96" stroke="#444" stroke-width="0.9"/>
<line x1="330.80" y1="231.40" x2="330.80" y2="267.96" stroke="#444" stroke-width="0.9"/>
<line x1="339.30" y1="310.63" x2="353.80" y2="310.63" stroke="#444" stroke-width="0.9"/>
<line x1="339.30" y1="322.82" x2="353.80" y2="322.82" stroke="#444" stroke-width="0.9"/>
<line x1="339.30" y1="310.63" x2="339.30" y2="322.82" stroke="#444" stroke-width="0.9"/>
<line x1="337.80" y1="316.73" x2="339.30" y2="316.73" stroke="#444" stroke-width="0.9"/>
<line x1="337.80" y1="335.01" x2="353.80" y2="335.01" stroke="#444" stroke-width="0.9"/>
<line x1="337.80" y1="316.73" x2="337.80" y2="335.01" stroke="#444" stroke-width="0.9"/>
<line x1="332.30" y1="298.44" x2="353.80" y2="298.44" stroke="#444" stroke-width="0.9"/>
<line x1="332.30" y1="325.87" x2="337.80" y2="325.87" stroke="#444" stroke-width="0.9"/>
<line x1="332.30" y1="298.44" x2="332.30" y2="325.87" stroke="#444" stroke-width="0.9"/>
<line x1="327.10" y1="312.15" x2="332.30" y2="312.15" stroke="#444" stroke-width="0.9"/>
<line x1="327.10" y1="347.20" x2="353.80" y2="347.20" stroke="#444" stroke-width="0.9"/>
<line x1="327.10" y1="312.15" x2="327.10" y2="347.20" stroke="#444" stroke-width="0.9"/>
<line x1="325.50" y1="249.68" x2="330.80" y2="249.68" stroke="#444" stroke-width="0.9"/>
<line x1="325.50" y1="329.68" x2="327.10" y2="329.68" stroke="#444" stroke-width="0.9"/>
<line x1="325.50" y1="249.68" x2="325.50" y2="329.68" stroke="#444" stroke-width="0.9"/>
<line x1="319.30" y1="289.68" x2="325.50" y2="289.68" stroke="#444" stroke-width="0.9"/>
<line x1="319.30" y1="359.39" x2="353.80" y2="359.39" stroke="#444" stroke-width="0.9"/>
<line x1="319.30" y1="289.68" x2="319.30" y2="359.39" stroke="#444" stroke-width="0.9"/>
<text x="354.59" y="226.61" font-size="4.70" font-weight="normal" font-style="normal" fill="#5a5a66" textLength="14.43" lengthAdjust="spacingAndGlyphs">Sham1</text>
<text x="354.59" y="238.80" font-size="4.70" font-weight="normal" font-style="normal" fill="#5a5a66" textLength="14.44" lengthAdjust="spacingAndGlyphs">Sham2</text>
<text x="354.59" y="250.99" font-size="4.70" font-weight="normal" font-style="normal" fill="#5a5a66" textLength="14.41" lengthAdjust="spacingAndGlyphs">Sham3</text>
<text x="354.59" y="263.18" font-size="4.70" font-weight="normal" font-style="normal" fill="#5a5a66" textLength="14.34" lengthAdjust="spacingAndGlyphs">Sham4</text>
<text x="354.59" y="275.37" font-size="4.70" font-weight="normal" font-style="normal" fill="#5a5a66" textLength="14.40" lengthAdjust="spacingAndGlyphs">Sham5</text>
<text x="354.59" y="287.56" font-size="4.70" font-weight="normal" font-style="normal" fill="#5a5a66" textLength="14.41" lengthAdjust="spacingAndGlyphs">Sham6</text>
<text x="354.43" y="299.57" font-size="4.70" font-weight="normal" font-style="normal" fill="#5a5a66" textLength="11.40" lengthAdjust="spacingAndGlyphs">BDL1</text>
<text x="354.43" y="311.81" font-size="4.70" font-weight="normal" font-style="normal" fill="#5a5a66" textLength="11.40" lengthAdjust="spacingAndGlyphs">BDL2</text>
<text x="354.43" y="324.00" font-size="4.70" font-weight="normal" font-style="normal" fill="#5a5a66" textLength="11.37" lengthAdjust="spacingAndGlyphs">BDL6</text>
<text x="354.43" y="336.14" font-size="4.70" font-weight="normal" font-style="normal" fill="#5a5a66" textLength="11.30" lengthAdjust="spacingAndGlyphs">BDL4</text>
<text x="354.43" y="348.38" font-size="4.70" font-weight="normal" font-style="normal" fill="#5a5a66" textLength="11.37" lengthAdjust="spacingAndGlyphs">BDL3</text>
<text x="354.43" y="360.52" font-size="4.70" font-weight="normal" font-style="normal" fill="#5a5a66" textLength="11.36" lengthAdjust="spacingAndGlyphs">BDL5</text>
<defs><linearGradient id="ck" x1="0" y1="0" x2="0" y2="1"><stop offset="0" stop-color="#f4f01e"/><stop offset="0.35" stop-color="#f7c01a"/><stop offset="0.65" stop-color="#f48a22"/><stop offset="1" stop-color="#e6201f"/></linearGradient></defs>
<rect x="647.00" y="220.50" width="3.80" height="148.00" fill="url(#ck)" stroke="none" stroke-width="1"/>
<line x1="658.40" y1="220.80" x2="658.40" y2="368.40" stroke="#666" stroke-width="0.9"/>
<line x1="658.40" y1="229.50" x2="660.20" y2="229.50" stroke="#666" stroke-width="0.8"/>
<text x="660.80" y="230.70" font-size="3.20" text-anchor="start" font-weight="normal" font-style="normal" fill="#888">84</text>
<line x1="658.40" y1="246.10" x2="660.20" y2="246.10" stroke="#666" stroke-width="0.8"/>
<text x="660.80" y="247.30" font-size="3.20" text-anchor="start" font-weight="normal" font-style="normal" fill="#888">78</text>
<line x1="658.40" y1="262.70" x2="660.20" y2="262.70" stroke="#666" stroke-width="0.8"/>
<text x="660.80" y="263.90" font-size="3.20" text-anchor="start" font-weight="normal" font-style="normal" fill="#888">72</text>
<line x1="658.40" y1="279.30" x2="660.20" y2="279.30" stroke="#666" stroke-width="0.8"/>
<text x="660.80" y="280.50" font-size="3.20" text-anchor="start" font-weight="normal" font-style="normal" fill="#888">66</text>
<line x1="658.40" y1="295.90" x2="660.20" y2="295.90" stroke="#666" stroke-width="0.8"/>
<text x="660.80" y="297.10" font-size="3.20" text-anchor="start" font-weight="normal" font-style="normal" fill="#888">60</text>
<line x1="658.40" y1="312.50" x2="660.20" y2="312.50" stroke="#666" stroke-width="0.8"/>
<text x="660.80" y="313.70" font-size="3.20" text-anchor="start" font-weight="normal" font-style="normal" fill="#888">54</text>
<line x1="658.40" y1="329.10" x2="660.20" y2="329.10" stroke="#666" stroke-width="0.8"/>
<text x="660.80" y="330.30" font-size="3.20" text-anchor="start" font-weight="normal" font-style="normal" fill="#888">48</text>
<line x1="658.40" y1="345.70" x2="660.20" y2="345.70" stroke="#666" stroke-width="0.8"/>
<text x="660.80" y="346.90" font-size="3.20" text-anchor="start" font-weight="normal" font-style="normal" fill="#888">42</text>
<line x1="658.40" y1="362.30" x2="660.20" y2="362.30" stroke="#666" stroke-width="0.8"/>
<text x="660.80" y="363.50" font-size="3.20" text-anchor="start" font-weight="normal" font-style="normal" fill="#888">36</text>
<line x1="651.00" y1="229.50" x2="658.40" y2="229.50" stroke="#777" stroke-width="0.9"/>
<line x1="651.00" y1="361.90" x2="658.40" y2="361.90" stroke="#a55" stroke-width="0.9"/>
<text x="0.00" y="0.00" font-size="8.90" font-weight="normal" font-style="normal" fill="#222" textLength="76.49" lengthAdjust="spacingAndGlyphs" transform="translate(676.35 253.83) rotate(90)" stroke="#222" stroke-width="0.22">normalised intensity</text>
<line x1="389.70" y1="366.00" x2="389.70" y2="412.80" stroke="#333" stroke-width="0.9"/>
<line x1="389.70" y1="412.80" x2="537.50" y2="412.80" stroke="#333" stroke-width="0.9"/>
<line x1="537.50" y1="388.60" x2="537.50" y2="412.80" stroke="#333" stroke-width="0.9"/>
<line x1="464.40" y1="388.60" x2="611.50" y2="388.60" stroke="#333" stroke-width="0.9"/>
<line x1="464.40" y1="378.50" x2="464.40" y2="388.60" stroke="#333" stroke-width="0.9"/>
<line x1="611.50" y1="379.10" x2="611.50" y2="388.60" stroke="#333" stroke-width="0.9"/>
<line x1="411.70" y1="378.20" x2="517.20" y2="378.20" stroke="#333" stroke-width="0.9"/>
<line x1="411.70" y1="374.50" x2="411.70" y2="378.20" stroke="#333" stroke-width="0.9"/>
<line x1="517.20" y1="371.50" x2="517.20" y2="378.20" stroke="#333" stroke-width="0.9"/>
<line x1="401.90" y1="374.40" x2="432.70" y2="374.40" stroke="#333" stroke-width="0.9"/>
<line x1="401.90" y1="370.00" x2="401.90" y2="374.40" stroke="#333" stroke-width="0.9"/>
<line x1="432.70" y1="370.00" x2="432.70" y2="374.40" stroke="#333" stroke-width="0.9"/>
<line x1="389.70" y1="374.80" x2="401.00" y2="374.80" stroke="#333" stroke-width="0.9"/>
<line x1="401.00" y1="369.50" x2="401.00" y2="374.80" stroke="#333" stroke-width="0.9"/>
<line x1="433.70" y1="372.00" x2="481.50" y2="372.00" stroke="#333" stroke-width="0.9"/>
<line x1="433.70" y1="366.00" x2="433.70" y2="372.00" stroke="#333" stroke-width="0.9"/>
<line x1="481.50" y1="366.00" x2="481.50" y2="372.00" stroke="#333" stroke-width="0.9"/>
<line x1="482.70" y1="377.80" x2="575.00" y2="377.80" stroke="#333" stroke-width="0.9"/>
<line x1="482.70" y1="366.00" x2="482.70" y2="377.80" stroke="#333" stroke-width="0.9"/>
<line x1="506.00" y1="371.50" x2="600.00" y2="371.50" stroke="#333" stroke-width="0.9"/>
<line x1="606.60" y1="379.10" x2="616.40" y2="379.10" stroke="#333" stroke-width="0.9"/>
<line x1="606.60" y1="366.00" x2="606.60" y2="379.10" stroke="#333" stroke-width="0.9"/>
<line x1="616.40" y1="372.00" x2="616.40" y2="379.10" stroke="#333" stroke-width="0.9"/>
<line x1="603.00" y1="374.00" x2="612.00" y2="374.00" stroke="#333" stroke-width="0.9"/>
<line x1="614.00" y1="372.50" x2="630.00" y2="372.50" stroke="#333" stroke-width="0.9"/>
<line x1="603.00" y1="366.00" x2="603.00" y2="374.00" stroke="#333" stroke-width="0.9"/>
<line x1="612.00" y1="366.00" x2="612.00" y2="374.00" stroke="#333" stroke-width="0.9"/>
<line x1="389.50" y1="366.00" x2="641.50" y2="366.00" stroke="#666" stroke-width="0.8"/>
<g stroke="#111" stroke-width="0.85" fill="none">
<path d="M389.60 365.60V367.09 M390.61 365.60V367.09 M389.60 367.09H390.61"/>
<path d="M391.61 365.60V367.17 M392.62 365.60V367.17 M391.61 367.17H392.62"/>
<path d="M393.62 365.60V367.02 M394.62 365.60V367.02 M393.62 367.02H394.62"/>
<path d="M395.63 365.60V366.59 M396.64 365.60V366.59 M395.63 366.59H396.64"/>
<path d="M397.64 365.60V367.19 M398.65 365.60V367.19 M399.65 365.60V367.19 M397.64 367.19H399.65"/>
<path d="M400.66 365.60V366.94 M401.66 365.60V366.94 M402.67 365.60V366.94 M400.66 366.94H402.67"/>
<path d="M403.67 365.60V366.51 M404.68 365.60V366.51 M403.67 366.51H404.68"/>
<path d="M405.68 365.60V366.83 M406.69 365.60V366.83 M405.68 366.83H406.69"/>
<path d="M407.69 365.60V367.23 M408.70 365.60V367.23 M407.69 367.23H408.70"/>
<path d="M409.70 365.60V366.63 M410.71 365.60V366.63 M411.71 365.60V366.63 M409.70 366.63H411.71"/>
<path d="M412.72 365.60V366.61 M413.72 365.60V366.61 M412.72 366.61H413.72"/>
<path d="M414.73 365.60V366.60 M415.73 365.60V366.60 M416.74 365.60V366.60 M414.73 366.60H416.74"/>
<path d="M417.74 365.60V367.28 M418.75 365.60V367.28 M417.74 367.28H418.75"/>
<path d="M419.75 365.60V366.67 M420.75 365.60V366.67 M419.75 366.67H420.75"/>
<path d="M421.76 365.60V367.27 M422.77 365.60V367.27 M421.76 367.27H422.77"/>
<path d="M423.77 365.60V367.20 M424.78 365.60V367.20 M423.77 367.20H424.78"/>
<path d="M425.78 365.60V366.75 M426.79 365.60V366.75 M425.78 366.75H426.79"/>
<path d="M427.79 365.60V366.93 M428.80 365.60V366.93 M427.79 366.93H428.80"/>
<path d="M429.80 365.60V366.65 M430.81 365.60V366.65 M429.80 366.65H430.81"/>
<path d="M431.81 365.60V367.27 M432.81 365.60V367.27 M431.81 367.27H432.81"/>
<path d="M433.82 365.60V366.74 M434.83 365.60V366.74 M435.83 365.60V366.74 M433.82 366.74H435.83"/>
<path d="M436.84 365.60V366.83 M437.84 365.60V366.83 M436.84 366.83H437.84"/>
<path d="M438.85 365.60V366.71 M439.85 365.60V366.71 M438.85 366.71H439.85"/>
<path d="M440.86 365.60V366.74 M441.86 365.60V366.74 M440.86 366.74H441.86"/>
<path d="M442.87 365.60V366.98 M443.87 365.60V366.98 M442.87 366.98H443.87"/>
<path d="M444.88 365.60V366.55 M445.88 365.60V366.55 M444.88 366.55H445.88"/>
<path d="M446.88 365.60V367.15 M447.89 365.60V367.15 M446.88 367.15H447.89"/>
<path d="M448.90 365.60V367.06 M449.90 365.60V367.06 M450.91 365.60V367.06 M448.90 367.06H450.91"/>
<path d="M451.91 365.60V366.88 M452.92 365.60V366.88 M451.91 366.88H452.92"/>
<path d="M453.92 365.60V366.55 M454.93 365.60V366.55 M453.92 366.55H454.93"/>
<path d="M455.93 365.60V367.26 M456.94 365.60V367.26 M455.93 367.26H456.94"/>
<path d="M457.94 365.60V367.18 M458.95 365.60V367.18 M457.94 367.18H458.95"/>
<path d="M459.95 365.60V366.94 M460.96 365.60V366.94 M459.95 366.94H460.96"/>
<path d="M461.96 365.60V366.79 M462.97 365.60V366.79 M463.97 365.60V366.79 M461.96 366.79H463.97"/>
<path d="M464.98 365.60V366.86 M465.98 365.60V366.86 M464.98 366.86H465.98"/>
<path d="M466.99 365.60V367.00 M467.99 365.60V367.00 M466.99 367.00H467.99"/>
<path d="M469.00 365.60V366.60 M470.00 365.60V366.60 M469.00 366.60H470.00"/>
<path d="M471.00 365.60V367.24 M472.01 365.60V367.24 M471.00 367.24H472.01"/>
<path d="M473.01 365.60V366.78 M474.02 365.60V366.78 M475.03 365.60V366.78 M473.01 366.78H475.03"/>
<path d="M476.03 365.60V367.21 M477.04 365.60V367.21 M476.03 367.21H477.04"/>
<path d="M478.04 365.60V367.12 M479.05 365.60V367.12 M478.04 367.12H479.05"/>
<path d="M480.05 365.60V366.97 M481.06 365.60V366.97 M480.05 366.97H481.06"/>
<path d="M482.06 365.60V367.19 M483.06 365.60V367.19 M482.06 367.19H483.06"/>
<path d="M484.07 365.60V366.85 M485.08 365.60V366.85 M484.07 366.85H485.08"/>
<path d="M486.08 365.60V366.67 M487.09 365.60V366.67 M486.08 366.67H487.09"/>
<path d="M488.09 365.60V367.23 M489.10 365.60V367.23 M488.09 367.23H489.10"/>
<path d="M490.10 365.60V366.72 M491.11 365.60V366.72 M490.10 366.72H491.11"/>
<path d="M492.11 365.60V366.75 M493.12 365.60V366.75 M492.11 366.75H493.12"/>
<path d="M494.12 365.60V366.74 M495.12 365.60V366.74 M494.12 366.74H495.12"/>
<path d="M496.13 365.60V367.00 M497.13 365.60V367.00 M496.13 367.00H497.13"/>
<path d="M498.14 365.60V367.30 M499.14 365.60V367.30 M498.14 367.30H499.14"/>
<path d="M500.15 365.60V367.08 M501.16 365.60V367.08 M500.15 367.08H501.16"/>
<path d="M502.16 365.60V367.29 M503.17 365.60V367.29 M502.16 367.29H503.17"/>
<path d="M504.17 365.60V366.53 M505.18 365.60V366.53 M506.18 365.60V366.53 M504.17 366.53H506.18"/>
<path d="M507.19 365.60V367.16 M508.19 365.60V367.16 M507.19 367.16H508.19"/>
<path d="M509.19 365.60V367.02 M510.20 365.60V367.02 M511.21 365.60V367.02 M509.19 367.02H511.21"/>
<path d="M512.21 365.60V366.54 M513.22 365.60V366.54 M512.21 366.54H513.22"/>
<path d="M514.22 365.60V367.14 M515.23 365.60V367.14 M514.22 367.14H515.23"/>
<path d="M516.23 365.60V367.17 M517.24 365.60V367.17 M516.23 367.17H517.24"/>
<path d="M518.24 365.60V367.29 M519.25 365.60V367.29 M518.24 367.29H519.25"/>
<path d="M520.25 365.60V367.00 M521.25 365.60V367.00 M520.25 367.00H521.25"/>
<path d="M522.26 365.60V366.59 M523.26 365.60V366.59 M524.27 365.60V366.59 M522.26 366.59H524.27"/>
<path d="M525.27 365.60V366.80 M526.28 365.60V366.80 M527.28 365.60V366.80 M525.27 366.80H527.28"/>
<path d="M528.29 365.60V367.18 M529.30 365.60V367.18 M528.29 367.18H529.30"/>
<path d="M530.30 365.60V366.61 M531.31 365.60V366.61 M530.30 366.61H531.31"/>
<path d="M532.31 365.60V367.28 M533.32 365.60V367.28 M532.31 367.28H533.32"/>
<path d="M534.32 365.60V367.27 M535.33 365.60V367.27 M536.33 365.60V367.27 M534.32 367.27H536.33"/>
<path d="M537.34 365.60V366.88 M538.34 365.60V366.88 M537.34 366.88H538.34"/>
<path d="M539.35 365.60V366.88 M540.35 365.60V366.88 M539.35 366.88H540.35"/>
<path d="M541.36 365.60V366.59 M542.36 365.60V366.59 M541.36 366.59H542.36"/>
<path d="M543.37 365.60V367.00 M544.37 365.60V367.00 M543.37 367.00H544.37"/>
<path d="M545.38 365.60V367.19 M546.38 365.60V367.19 M547.38 365.60V367.19 M545.38 367.19H547.38"/>
<path d="M548.39 365.60V366.57 M549.39 365.60V366.57 M548.39 366.57H549.39"/>
<path d="M550.40 365.60V366.91 M551.40 365.60V366.91 M550.40 366.91H551.40"/>
<path d="M552.41 365.60V366.55 M553.41 365.60V366.55 M552.41 366.55H553.41"/>
<path d="M554.42 365.60V367.06 M555.42 365.60V367.06 M554.42 367.06H555.42"/>
<path d="M556.43 365.60V367.11 M557.43 365.60V367.11 M556.43 367.11H557.43"/>
<path d="M558.44 365.60V366.95 M559.44 365.60V366.95 M558.44 366.95H559.44"/>
<path d="M560.45 365.60V367.17 M561.46 365.60V367.17 M560.45 367.17H561.46"/>
<path d="M562.46 365.60V367.12 M563.47 365.60V367.12 M562.46 367.12H563.47"/>
<path d="M564.47 365.60V367.27 M565.48 365.60V367.27 M564.47 367.27H565.48"/>
<path d="M566.48 365.60V367.02 M567.49 365.60V367.02 M566.48 367.02H567.49"/>
<path d="M568.49 365.60V366.88 M569.50 365.60V366.88 M568.49 366.88H569.50"/>
<path d="M570.50 365.60V366.76 M571.50 365.60V366.76 M570.50 366.76H571.50"/>
<path d="M572.51 365.60V366.87 M573.51 365.60V366.87 M572.51 366.87H573.51"/>
<path d="M574.52 365.60V366.78 M575.52 365.60V366.78 M574.52 366.78H575.52"/>
<path d="M576.53 365.60V367.09 M577.53 365.60V367.09 M576.53 367.09H577.53"/>
<path d="M578.54 365.60V366.78 M579.55 365.60V366.78 M580.55 365.60V366.78 M578.54 366.78H580.55"/>
<path d="M581.56 365.60V367.20 M582.56 365.60V367.20 M581.56 367.20H582.56"/>
<path d="M583.57 365.60V367.28 M584.57 365.60V367.28 M585.58 365.60V367.28 M583.57 367.28H585.58"/>
<path d="M586.58 365.60V366.91 M587.59 365.60V366.91 M586.58 366.91H587.59"/>
<path d="M588.59 365.60V366.66 M589.60 365.60V366.66 M588.59 366.66H589.60"/>
<path d="M590.60 365.60V367.25 M591.61 365.60V367.25 M590.60 367.25H591.61"/>
<path d="M592.61 365.60V366.73 M593.62 365.60V366.73 M594.62 365.60V366.73 M592.61 366.73H594.62"/>
<path d="M595.62 365.60V367.08 M596.63 365.60V367.08 M595.62 367.08H596.63"/>
<path d="M597.63 365.60V366.64 M598.64 365.60V366.64 M599.64 365.60V366.64 M597.63 366.64H599.64"/>
<path d="M600.65 365.60V366.74 M601.65 365.60V366.74 M602.66 365.60V366.74 M600.65 366.74H602.66"/>
<path d="M603.66 365.60V367.08 M604.67 365.60V367.08 M603.66 367.08H604.67"/>
<path d="M605.67 365.60V366.66 M606.68 365.60V366.66 M605.67 366.66H606.68"/>
<path d="M607.68 365.60V367.00 M608.69 365.60V367.00 M609.69 365.60V367.00 M607.68 367.00H609.69"/>
<path d="M610.70 365.60V366.68 M611.71 365.60V366.68 M610.70 366.68H611.71"/>
<path d="M612.71 365.60V367.00 M613.72 365.60V367.00 M612.71 367.00H613.72"/>
<path d="M614.72 365.60V367.29 M615.73 365.60V367.29 M614.72 367.29H615.73"/>
<path d="M616.73 365.60V366.63 M617.74 365.60V366.63 M616.73 366.63H617.74"/>
<path d="M618.74 365.60V366.59 M619.75 365.60V366.59 M618.74 366.59H619.75"/>
<path d="M620.75 365.60V366.89 M621.75 365.60V366.89 M620.75 366.89H621.75"/>
<path d="M622.76 365.60V366.83 M623.76 365.60V366.83 M622.76 366.83H623.76"/>
<path d="M624.77 365.60V366.80 M625.77 365.60V366.80 M624.77 366.80H625.77"/>
<path d="M626.78 365.60V366.97 M627.78 365.60V366.97 M626.78 366.97H627.78"/>
<path d="M628.79 365.60V367.07 M629.79 365.60V367.07 M628.79 367.07H629.79"/>
<path d="M630.80 365.60V366.50 M631.81 365.60V366.50 M630.80 366.50H631.81"/>
<path d="M632.81 365.60V367.26 M633.82 365.60V367.26 M634.82 365.60V367.26 M632.81 367.26H634.82"/>
<path d="M635.83 365.60V367.19 M636.83 365.60V367.19 M637.84 365.60V367.19 M635.83 367.19H637.84"/>
<path d="M638.84 365.60V367.27 M639.85 365.60V367.27 M638.84 367.27H639.85"/>
<path d="M640.85 365.60V366.58 M641.86 365.60V366.58 M640.85 366.58H641.86"/>
<path d="M390.10 367.09V368.26 M392.11 367.17V368.26 M390.10 368.26H392.11"/>
<path d="M394.12 367.02V368.27 M396.13 366.59V368.27 M394.12 368.27H396.13"/>
<path d="M398.65 367.19V367.84 M401.66 366.94V367.84 M398.65 367.84H401.66"/>
<path d="M404.17 366.51V367.87 M406.18 366.83V367.87 M404.17 367.87H406.18"/>
<path d="M408.19 367.23V367.98 M410.71 366.63V367.98 M408.19 367.98H410.71"/>
<path d="M413.22 366.61V368.27 M415.73 366.60V368.27 M418.24 367.28V368.27 M413.22 368.27H418.24"/>
<path d="M420.25 366.67V367.99 M422.26 367.27V367.99 M420.25 367.99H422.26"/>
<path d="M424.27 367.20V368.16 M426.28 366.75V368.16 M424.27 368.16H426.28"/>
<path d="M428.29 366.93V367.81 M430.30 366.65V367.81 M428.29 367.81H430.30"/>
<path d="M432.31 367.27V367.95 M434.83 366.74V367.95 M432.31 367.95H434.83"/>
<path d="M437.34 366.83V367.76 M439.35 366.71V367.76 M437.34 367.76H439.35"/>
<path d="M441.36 366.74V367.84 M443.37 366.98V367.84 M445.38 366.55V367.84 M441.36 367.84H445.38"/>
<path d="M447.39 367.15V367.89 M449.90 367.06V367.89 M447.39 367.89H449.90"/>
<path d="M452.41 366.88V368.28 M454.42 366.55V368.28 M456.43 367.26V368.28 M452.41 368.28H456.43"/>
<path d="M458.44 367.18V367.81 M460.45 366.94V367.81 M462.96 366.79V367.81 M458.44 367.81H462.96"/>
<path d="M465.48 366.86V367.98 M467.49 367.00V367.98 M465.48 367.98H467.49"/>
<path d="M469.50 366.60V368.09 M471.51 367.24V368.09 M469.50 368.09H471.51"/>
<path d="M474.02 366.78V367.90 M476.53 367.21V367.90 M474.02 367.90H476.53"/>
<path d="M478.54 367.12V367.52 M480.55 366.97V367.52 M482.56 367.19V367.52 M478.54 367.52H482.56"/>
<path d="M484.57 366.85V367.89 M486.58 366.67V367.89 M484.57 367.89H486.58"/>
<path d="M488.59 367.23V367.61 M490.60 366.72V367.61 M488.59 367.61H490.60"/>
<path d="M492.61 366.75V367.60 M494.62 366.74V367.60 M492.61 367.60H494.62"/>
<path d="M496.63 367.00V367.70 M498.64 367.30V367.70 M500.65 367.08V367.70 M496.63 367.70H500.65"/>
<path d="M502.66 367.29V368.13 M505.18 366.53V368.13 M502.66 368.13H505.18"/>
<path d="M507.69 367.16V367.51 M510.20 367.02V367.51 M512.71 366.54V367.51 M507.69 367.51H512.71"/>
<path d="M514.72 367.14V367.69 M516.73 367.17V367.69 M514.72 367.69H516.73"/>
<path d="M518.74 367.29V368.13 M520.75 367.00V368.13 M523.26 366.59V368.13 M518.74 368.13H523.26"/>
<path d="M526.28 366.80V367.89 M528.79 367.18V367.89 M526.28 367.89H528.79"/>
<path d="M530.80 366.61V368.08 M532.81 367.28V368.08 M530.80 368.08H532.81"/>
<path d="M535.32 367.27V367.73 M537.84 366.88V367.73 M535.32 367.73H537.84"/>
<path d="M539.85 366.88V367.91 M541.86 366.59V367.91 M543.87 367.00V367.91 M539.85 367.91H543.87"/>
<path d="M546.38 367.19V367.51 M548.89 366.57V367.51 M546.38 367.51H548.89"/>
<path d="M550.90 366.91V367.74 M552.91 366.55V367.74 M550.90 367.74H552.91"/>
<path d="M554.92 367.06V367.99 M556.93 367.11V367.99 M554.92 367.99H556.93"/>
<path d="M558.94 366.95V367.87 M560.95 367.17V367.87 M558.94 367.87H560.95"/>
<path d="M562.96 367.12V368.05 M564.97 367.27V368.05 M562.96 368.05H564.97"/>
<path d="M566.98 367.02V367.53 M568.99 366.88V367.53 M566.98 367.53H568.99"/>
<path d="M571.00 366.76V367.94 M573.01 366.87V367.94 M571.00 367.94H573.01"/>
<path d="M575.02 366.78V368.21 M577.03 367.09V368.21 M575.02 368.21H577.03"/>
<path d="M579.54 366.78V367.51 M582.06 367.20V367.51 M579.54 367.51H582.06"/>
<path d="M584.57 367.28V367.98 M587.08 366.91V367.98 M589.09 366.66V367.98 M584.57 367.98H589.09"/>
<path d="M591.10 367.25V368.19 M593.62 366.73V368.19 M596.13 367.08V368.19 M591.10 368.19H596.13"/>
<path d="M598.64 366.64V367.88 M601.65 366.74V367.88 M604.17 367.08V367.88 M598.64 367.88H604.17"/>
<path d="M606.18 366.66V368.22 M608.69 367.00V368.22 M606.18 368.22H608.69"/>
<path d="M611.20 366.68V368.16 M613.21 367.00V368.16 M615.22 367.29V368.16 M611.20 368.16H615.22"/>
<path d="M617.23 366.63V367.74 M619.24 366.59V367.74 M617.23 367.74H619.24"/>
<path d="M621.25 366.89V368.06 M623.26 366.83V368.06 M621.25 368.06H623.26"/>
<path d="M625.27 366.80V367.97 M627.28 366.97V367.97 M629.29 367.07V367.97 M625.27 367.97H629.29"/>
<path d="M631.30 366.50V368.23 M633.81 367.26V368.23 M636.83 367.19V368.23 M631.30 368.23H636.83"/>
<path d="M639.34 367.27V367.63 M641.35 366.58V367.63 M639.34 367.63H641.35"/>
<path d="M391.11 368.26V369.18 M395.13 368.27V369.18 M400.15 367.84V369.18 M391.11 369.18H400.15"/>
<path d="M405.18 367.87V368.74 M409.45 367.98V368.74 M405.18 368.74H409.45"/>
<path d="M415.73 368.27V368.45 M421.26 367.99V368.45 M415.73 368.45H421.26"/>
<path d="M425.28 368.16V368.61 M429.30 367.81V368.61 M425.28 368.61H429.30"/>
<path d="M433.57 367.95V369.03 M438.34 367.76V369.03 M433.57 369.03H438.34"/>
<path d="M443.37 367.84V368.67 M448.64 367.89V368.67 M443.37 368.67H448.64"/>
<path d="M454.42 368.28V369.18 M460.62 367.81V369.18 M466.48 367.98V369.18 M454.42 369.18H466.48"/>
<path d="M470.50 368.09V368.96 M475.28 367.90V368.96 M480.55 367.52V368.96 M470.50 368.96H480.55"/>
<path d="M485.58 367.89V368.50 M489.60 367.61V368.50 M485.58 368.50H489.60"/>
<path d="M493.62 367.60V368.58 M498.64 367.70V368.58 M493.62 368.58H498.64"/>
<path d="M503.92 368.13V368.97 M510.20 367.51V368.97 M503.92 368.97H510.20"/>
<path d="M515.73 367.69V369.20 M520.92 368.13V369.20 M515.73 369.20H520.92"/>
<path d="M527.54 367.89V368.52 M531.81 368.08V368.52 M536.58 367.73V368.52 M527.54 368.52H536.58"/>
<path d="M541.86 367.91V368.73 M547.64 367.51V368.73 M541.86 368.73H547.64"/>
<path d="M551.91 367.74V368.45 M555.93 367.99V368.45 M551.91 368.45H555.93"/>
<path d="M559.95 367.87V368.43 M563.97 368.05V368.43 M559.95 368.43H563.97"/>
<path d="M567.99 367.53V368.93 M572.01 367.94V368.93 M567.99 368.93H572.01"/>
<path d="M576.03 368.21V368.62 M580.80 367.51V368.62 M576.03 368.62H580.80"/>
<path d="M586.91 367.98V368.99 M593.62 368.19V368.99 M586.91 368.99H593.62"/>
<path d="M601.49 367.88V368.41 M607.43 368.22V368.41 M601.49 368.41H607.43"/>
<path d="M613.21 368.16V368.65 M618.24 367.74V368.65 M613.21 368.65H618.24"/>
<path d="M622.26 368.06V368.79 M627.28 367.97V368.79 M633.98 368.23V368.79 M622.26 368.79H633.98"/>
<path d="M395.46 369.18V369.41 M407.31 368.74V369.41 M395.46 369.41H407.31"/>
<path d="M418.49 368.45V369.42 M427.29 368.61V369.42 M435.96 369.03V369.42 M418.49 369.42H435.96"/>
<path d="M446.01 368.67V370.03 M460.51 369.18V370.03 M475.44 368.96V370.03 M446.01 370.03H475.44"/>
<path d="M487.59 368.50V369.51 M496.13 368.58V369.51 M507.06 368.97V369.51 M487.59 369.51H507.06"/>
<path d="M518.32 369.20V369.50 M531.98 368.52V369.50 M544.75 368.73V369.50 M518.32 369.50H544.75"/>
<path d="M553.92 368.45V369.71 M561.96 368.43V369.71 M570.00 368.93V369.71 M553.92 369.71H570.00"/>
<path d="M578.41 368.62V369.95 M590.26 368.99V369.95 M604.46 368.41V369.95 M578.41 369.95H604.46"/>
<path d="M615.73 368.65V369.66 M627.84 368.79V369.66 M640.35 367.63V369.66 M615.73 369.66H640.35"/>
<path d="M401.39 369.41V370.34 M427.25 369.42V370.34 M460.65 370.03V370.34 M496.93 369.51V370.34 M401.39 370.34H496.93"/>
<path d="M531.68 369.50V370.72 M561.96 369.71V370.72 M531.68 370.72H561.96"/>
<path d="M591.05 369.95V370.66 M627.97 369.66V370.66 M591.05 370.66H627.97"/>
</g>
<text x="3.14" y="470.83" font-size="17.81" font-weight="bold" font-style="normal" fill="#111" textLength="9.33" lengthAdjust="spacingAndGlyphs" stroke="#111" stroke-width="0.55" stroke-linejoin="round">E</text>
<defs><filter id="bl1" x="-30%" y="-30%" width="160%" height="160%"><feGaussianBlur stdDeviation="1.0"/></filter><filter id="bl2" x="-30%" y="-80%" width="160%" height="260%"><feGaussianBlur stdDeviation="0.8"/></filter><filter id="bl3" x="-30%" y="-60%" width="160%" height="220%"><feGaussianBlur stdDeviation="3"/></filter></defs>
<rect x="57.00" y="507.00" width="60.70" height="114.90" fill="#dcdddf" stroke="none" stroke-width="1"/>
<ellipse cx="87" cy="585" rx="28" ry="10" fill="#cdcecf" filter="url(#bl3)" opacity="0.85"/>
<path d="M92.6 516.8 Q100 514.8 109.0 515.6 L108.2 534 Q107.5 539.4 101 539.4 Q96 539.4 95.2 534 Z" fill="#232323" filter="url(#bl1)"/>
<ellipse cx="101" cy="526" rx="3.5" ry="4.5" fill="#3a3a3a" filter="url(#bl1)" opacity="0.5"/>
<path d="M65 609.3 Q72 607.8 80 609.3 L80 615 L65.5 615 Z" fill="#8c8c8c" filter="url(#bl2)"/>
<ellipse cx="69.5" cy="615.6" rx="4.6" ry="2.2" fill="#2e2e2e" filter="url(#bl2)"/>
<ellipse cx="76.5" cy="615.2" rx="3.6" ry="1.9" fill="#3c3c3c" filter="url(#bl2)"/>
<path d="M80.5 609.8 Q88 608.6 95 609.8 L95 615.5 L80.5 615.5 Z" fill="#b4b4b4" filter="url(#bl2)"/>
<ellipse cx="84.5" cy="616.3" rx="3.8" ry="1.8" fill="#484848" filter="url(#bl2)"/>
<ellipse cx="91.5" cy="616.1" rx="3.6" ry="1.8" fill="#4c4c4c" filter="url(#bl2)"/>
<path d="M95.5 609.8 Q102 608.3 109 609.3 L109 615.5 L95.5 615.5 Z" fill="#b6b6b6" filter="url(#bl2)"/>
<ellipse cx="99" cy="616.1" rx="3.6" ry="1.8" fill="#4c4c4c" filter="url(#bl2)"/>
<ellipse cx="106" cy="615.8" rx="3.4" ry="1.8" fill="#484848" filter="url(#bl2)"/>
<text x="8.08" y="530.58" font-size="12.29" font-weight="normal" font-style="normal" fill="#1c1c1c" textLength="31.81" lengthAdjust="spacingAndGlyphs" stroke="#1c1c1c" stroke-width="0.22">CPS1</text>
<line x1="45.90" y1="526.70" x2="55.10" y2="526.70" stroke="#111" stroke-width="2.2"/>
<text x="20.77" y="612.68" font-size="12.12" font-weight="normal" font-style="normal" fill="#1c1c1c" textLength="15.97" lengthAdjust="spacingAndGlyphs" stroke="#1c1c1c" stroke-width="0.22">Ab</text>
<line x1="45.90" y1="608.40" x2="55.10" y2="608.40" stroke="#111" stroke-width="2.2"/>
<line x1="122.00" y1="516.10" x2="131.90" y2="516.10" stroke="#111" stroke-width="2.2"/>
<line x1="122.00" y1="537.70" x2="131.90" y2="537.70" stroke="#111" stroke-width="2.2"/>
<line x1="122.00" y1="608.60" x2="131.90" y2="608.60" stroke="#111" stroke-width="2.2"/>
<text x="138.85" y="520.68" font-size="11.98" font-weight="normal" font-style="normal" fill="#1c1c1c" textLength="46.25" lengthAdjust="spacingAndGlyphs" stroke="#1c1c1c" stroke-width="0.22">140 kDa</text>
<text x="138.88" y="542.28" font-size="11.98" font-weight="normal" font-style="normal" fill="#1c1c1c" textLength="45.02" lengthAdjust="spacingAndGlyphs" stroke="#1c1c1c" stroke-width="0.22">115 kDa</text>
<text x="139.30" y="613.08" font-size="11.98" font-weight="normal" font-style="normal" fill="#1c1c1c" textLength="39.34" lengthAdjust="spacingAndGlyphs" stroke="#1c1c1c" stroke-width="0.22">50 kDa</text>
<text x="0.00" y="0.00" font-size="12.80" font-weight="normal" font-style="normal" fill="#1c1c1c" textLength="31.67" lengthAdjust="spacingAndGlyphs" transform="translate(69.42 621.88) rotate(90)" stroke="#1c1c1c" stroke-width="0.22">Naive</text>
<text x="0.00" y="0.00" font-size="12.94" font-weight="normal" font-style="normal" fill="#1c1c1c" textLength="32.17" lengthAdjust="spacingAndGlyphs" transform="translate(83.03 623.44) rotate(90)" stroke="#1c1c1c" stroke-width="0.22">Sham</text>
<text x="0.00" y="0.00" font-size="13.23" font-weight="normal" font-style="normal" fill="#1c1c1c" textLength="24.13" lengthAdjust="spacingAndGlyphs" transform="translate(98.00 622.98) rotate(90)" stroke="#1c1c1c" stroke-width="0.22">BDL</text>
<text x="228.63" y="474.03" font-size="17.22" font-weight="bold" font-style="normal" fill="#111" textLength="8.61" lengthAdjust="spacingAndGlyphs" stroke="#111" stroke-width="0.55" stroke-linejoin="round">F</text>
<rect x="302.70" y="492.50" width="15.20" height="8.10" fill="#0c0c0c" stroke="#2a2a2a" stroke-width="1"/>
<rect x="302.70" y="505.90" width="15.20" height="8.10" fill="#fff" stroke="#2a2a2a" stroke-width="1"/>
<text x="321.33" y="499.89" font-size="10.89" font-weight="normal" font-style="normal" fill="#1c1c1c" textLength="32.90" lengthAdjust="spacingAndGlyphs" stroke="#1c1c1c" stroke-width="0.22">Sham</text>
<text x="321.88" y="514.20" font-size="11.92" font-weight="normal" font-style="normal" fill="#1c1c1c" textLength="24.24" lengthAdjust="spacingAndGlyphs" stroke="#1c1c1c" stroke-width="0.22">BDL</text>
<line x1="295.70" y1="525.60" x2="295.70" y2="638.60" stroke="#3c3c3c" stroke-width="1.1"/>
<line x1="291.20" y1="526.10" x2="296.20" y2="526.10" stroke="#3c3c3c" stroke-width="1.1"/>
<line x1="291.20" y1="582.30" x2="296.20" y2="582.30" stroke="#3c3c3c" stroke-width="1.1"/>
<line x1="291.20" y1="638.10" x2="296.20" y2="638.10" stroke="#3c3c3c" stroke-width="1.1"/>
<line x1="295.70" y1="638.10" x2="332.80" y2="638.10" stroke="#3c3c3c" stroke-width="1.1"/>
<line x1="305.40" y1="638.10" x2="305.40" y2="642.10" stroke="#3c3c3c" stroke-width="1.1"/>
<line x1="323.40" y1="638.10" x2="323.40" y2="642.10" stroke="#3c3c3c" stroke-width="1.1"/>
<text x="249.17" y="531.13" font-size="14.60" font-weight="normal" font-style="normal" fill="#1c1c1c" textLength="41.82" lengthAdjust="spacingAndGlyphs" stroke="#1c1c1c" stroke-width="0.22">60000</text>
<text x="249.17" y="587.33" font-size="14.60" font-weight="normal" font-style="normal" fill="#1c1c1c" textLength="41.82" lengthAdjust="spacingAndGlyphs" stroke="#1c1c1c" stroke-width="0.22">30000</text>
<text x="282.62" y="643.13" font-size="14.60" font-weight="normal" font-style="normal" fill="#1c1c1c" textLength="8.36" lengthAdjust="spacingAndGlyphs" stroke="#1c1c1c" stroke-width="0.22">0</text>
<rect x="298.80" y="634.50" width="12.50" height="3.60" fill="#0c0c0c" stroke="#3c3c3c" stroke-width="1"/>
<line x1="305.05" y1="633.00" x2="305.05" y2="634.50" stroke="#3c3c3c" stroke-width="1.1"/>
<line x1="301.55" y1="633.00" x2="308.55" y2="633.00" stroke="#3c3c3c" stroke-width="1.1"/>
<rect x="317.80" y="553.20" width="11.40" height="84.90" fill="#fff" stroke="#3c3c3c" stroke-width="1"/>
<line x1="323.50" y1="541.00" x2="323.50" y2="553.20" stroke="#3c3c3c" stroke-width="1.1"/>
<line x1="320.45" y1="541.00" x2="326.55" y2="541.00" stroke="#3c3c3c" stroke-width="1.1"/>
<text x="308.33" y="535.68" font-size="9.72" font-weight="normal" font-style="italic" fill="#3c3c3c" textLength="33.65" lengthAdjust="spacingAndGlyphs" stroke="#3c3c3c" stroke-width="0.22">p&lt;0.001</text>
<text x="0.00" y="0.00" font-size="14.38" font-weight="normal" font-style="normal" fill="#1c1c1c" textLength="65.39" lengthAdjust="spacingAndGlyphs" transform="translate(239.62 614.29) rotate(-90)" stroke="#1c1c1c" stroke-width="0.22">LDH (U/L)</text>
<text x="393.44" y="474.15" font-size="17.73" font-weight="bold" font-style="normal" fill="#111" textLength="12.05" lengthAdjust="spacingAndGlyphs" stroke="#111" stroke-width="0.55" stroke-linejoin="round">G</text>
<rect x="461.50" y="490.60" width="15.00" height="8.40" fill="#0c0c0c" stroke="#2a2a2a" stroke-width="1"/>
<rect x="461.50" y="503.90" width="15.00" height="8.40" fill="#fff" stroke="#2a2a2a" stroke-width="1"/>
<text x="480.23" y="497.90" font-size="10.49" font-weight="normal" font-style="normal" fill="#1c1c1c" textLength="33.01" lengthAdjust="spacingAndGlyphs" stroke="#1c1c1c" stroke-width="0.22">Sham</text>
<text x="480.68" y="512.60" font-size="12.79" font-weight="normal" font-style="normal" fill="#1c1c1c" textLength="24.24" lengthAdjust="spacingAndGlyphs" stroke="#1c1c1c" stroke-width="0.22">BDL</text>
<line x1="451.80" y1="526.50" x2="451.80" y2="639.50" stroke="#3c3c3c" stroke-width="1.1"/>
<line x1="447.20" y1="527.00" x2="452.30" y2="527.00" stroke="#3c3c3c" stroke-width="1.1"/>
<line x1="447.20" y1="583.00" x2="452.30" y2="583.00" stroke="#3c3c3c" stroke-width="1.1"/>
<line x1="447.20" y1="639.00" x2="452.30" y2="639.00" stroke="#3c3c3c" stroke-width="1.1"/>
<line x1="451.80" y1="639.00" x2="488.40" y2="639.00" stroke="#3c3c3c" stroke-width="1.1"/>
<line x1="460.60" y1="639.00" x2="460.60" y2="643.00" stroke="#3c3c3c" stroke-width="1.1"/>
<line x1="479.60" y1="639.00" x2="479.60" y2="643.00" stroke="#3c3c3c" stroke-width="1.1"/>
<text x="413.18" y="532.09" font-size="14.80" font-weight="normal" font-style="normal" fill="#1c1c1c" textLength="33.91" lengthAdjust="spacingAndGlyphs" stroke="#1c1c1c" stroke-width="0.22">8000</text>
<text x="413.18" y="588.09" font-size="14.80" font-weight="normal" font-style="normal" fill="#1c1c1c" textLength="33.91" lengthAdjust="spacingAndGlyphs" stroke="#1c1c1c" stroke-width="0.22">4000</text>
<text x="438.62" y="644.09" font-size="14.80" font-weight="normal" font-style="normal" fill="#1c1c1c" textLength="8.48" lengthAdjust="spacingAndGlyphs" stroke="#1c1c1c" stroke-width="0.22">0</text>
<rect x="454.80" y="638.10" width="11.50" height="0.90" fill="#0c0c0c" stroke="#3c3c3c" stroke-width="1"/>
<rect x="473.90" y="548.50" width="11.30" height="90.50" fill="#fff" stroke="#3c3c3c" stroke-width="1"/>
<line x1="479.55" y1="541.40" x2="479.55" y2="548.50" stroke="#3c3c3c" stroke-width="1.1"/>
<line x1="476.30" y1="541.40" x2="482.80" y2="541.40" stroke="#3c3c3c" stroke-width="1.1"/>
<text x="458.73" y="533.94" font-size="8.94" font-weight="normal" font-style="italic" fill="#3c3c3c" textLength="39.05" lengthAdjust="spacingAndGlyphs" stroke="#3c3c3c" stroke-width="0.22">p&lt;0.0001</text>
<text x="0.00" y="0.00" font-size="14.38" font-weight="normal" font-style="normal" fill="#1c1c1c" textLength="64.12" lengthAdjust="spacingAndGlyphs" transform="translate(404.22 614.63) rotate(-90)" stroke="#1c1c1c" stroke-width="0.22">AST (U/L)</text>
<text x="541.20" y="474.03" font-size="17.22" font-weight="bold" font-style="normal" fill="#111" textLength="12.71" lengthAdjust="spacingAndGlyphs" stroke="#111" stroke-width="0.55" stroke-linejoin="round">H</text>
<rect x="619.90" y="489.20" width="15.20" height="8.10" fill="#0c0c0c" stroke="#2a2a2a" stroke-width="1"/>
<rect x="619.90" y="502.90" width="15.20" height="8.10" fill="#fff" stroke="#2a2a2a" stroke-width="1"/>
<text x="639.03" y="496.89" font-size="11.71" font-weight="normal" font-style="normal" fill="#1c1c1c" textLength="32.69" lengthAdjust="spacingAndGlyphs" stroke="#1c1c1c" stroke-width="0.22">Sham</text>
<text x="639.50" y="510.90" font-size="11.92" font-weight="normal" font-style="normal" fill="#1c1c1c" textLength="23.70" lengthAdjust="spacingAndGlyphs" stroke="#1c1c1c" stroke-width="0.22">BDL</text>
<line x1="608.50" y1="525.40" x2="608.50" y2="637.70" stroke="#3c3c3c" stroke-width="1.1"/>
<line x1="604.10" y1="525.90" x2="609.00" y2="525.90" stroke="#3c3c3c" stroke-width="1.1"/>
<line x1="604.10" y1="581.50" x2="609.00" y2="581.50" stroke="#3c3c3c" stroke-width="1.1"/>
<line x1="604.10" y1="637.20" x2="609.00" y2="637.20" stroke="#3c3c3c" stroke-width="1.1"/>
<line x1="608.50" y1="637.20" x2="644.90" y2="637.20" stroke="#3c3c3c" stroke-width="1.1"/>
<line x1="617.50" y1="637.20" x2="617.50" y2="641.20" stroke="#3c3c3c" stroke-width="1.1"/>
<line x1="636.00" y1="637.20" x2="636.00" y2="641.20" stroke="#3c3c3c" stroke-width="1.1"/>
<text x="570.52" y="531.06" font-size="15.00" font-weight="normal" font-style="normal" fill="#1c1c1c" textLength="33.37" lengthAdjust="spacingAndGlyphs" stroke="#1c1c1c" stroke-width="0.22">5000</text>
<text x="570.52" y="586.66" font-size="15.00" font-weight="normal" font-style="normal" fill="#1c1c1c" textLength="33.37" lengthAdjust="spacingAndGlyphs" stroke="#1c1c1c" stroke-width="0.22">2500</text>
<text x="595.54" y="642.36" font-size="15.00" font-weight="normal" font-style="normal" fill="#1c1c1c" textLength="8.34" lengthAdjust="spacingAndGlyphs" stroke="#1c1c1c" stroke-width="0.22">0</text>
<rect x="611.80" y="618.60" width="11.30" height="18.60" fill="#0c0c0c" stroke="#3c3c3c" stroke-width="1"/>
<line x1="617.45" y1="612.50" x2="617.45" y2="618.60" stroke="#3c3c3c" stroke-width="1.1"/>
<line x1="614.30" y1="612.50" x2="620.60" y2="612.50" stroke="#3c3c3c" stroke-width="1.1"/>
<rect x="630.00" y="552.00" width="12.10" height="85.20" fill="#fff" stroke="#3c3c3c" stroke-width="1"/>
<line x1="636.05" y1="531.30" x2="636.05" y2="552.00" stroke="#3c3c3c" stroke-width="1.1"/>
<line x1="632.40" y1="531.30" x2="639.70" y2="531.30" stroke="#3c3c3c" stroke-width="1.1"/>
<text x="617.04" y="525.89" font-size="8.72" font-weight="normal" font-style="italic" fill="#3c3c3c" textLength="29.47" lengthAdjust="spacingAndGlyphs" stroke="#3c3c3c" stroke-width="0.22">p&lt;0.01</text>
<text x="0.00" y="0.00" font-size="14.38" font-weight="normal" font-style="normal" fill="#1c1c1c" textLength="94.63" lengthAdjust="spacingAndGlyphs" transform="translate(557.22 620.53) rotate(-90)" stroke="#1c1c1c" stroke-width="0.22">Grp78 (pg/mL)</text>
</svg>
</body></html>
